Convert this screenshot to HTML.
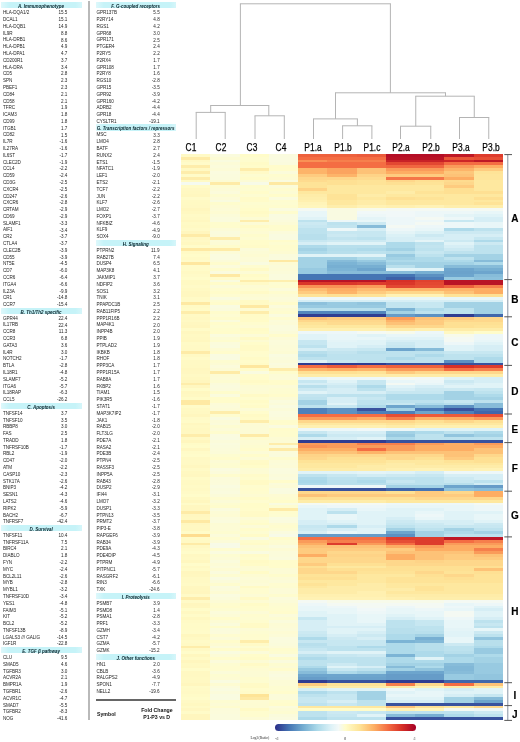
<!DOCTYPE html>
<html><head><meta charset="utf-8"><style>
html,body{margin:0;padding:0;background:#fff;}
body{width:520px;height:742px;position:relative;overflow:hidden;font-family:"Liberation Sans",sans-serif;}
.t{position:absolute;white-space:nowrap;line-height:1;}
.g{font-size:4.6px;color:#262626;letter-spacing:-0.04px;}
.v{font-size:4.6px;color:#262626;text-align:right;}
.hb{position:absolute;background:linear-gradient(to right,#def8fb 0,#c6f3f8 10%,#c6f3f8 92%,#d6f6fa 100%);}
.ht{font-size:4.5px;font-weight:bold;font-style:italic;color:#06222a;text-align:center;}
.lab{font-size:10px;color:#000;transform:scaleX(0.84);-webkit-text-stroke:0.25px #000;}
.br{font-size:10px;font-weight:bold;color:#000;-webkit-text-stroke:0.15px #000;}
</style></head><body>
<div id="w" style="position:absolute;left:0;top:0;width:520px;height:742px;filter:blur(0.45px)">

<div class="hb" style="left:0.50px;top:2.20px;width:81.20px;height:6.3px"></div>
<div class="t ht" style="left:-9.50px;top:5.15px;width:101.20px">A. Immunophenotype</div>
<div class="t g" style="left:2.90px;top:11.34px">HLA-DQA1/2</div>
<div class="t v" style="left:37.40px;top:11.39px;width:30px">15.5</div>
<div class="t g" style="left:2.90px;top:18.12px">DCAL1</div>
<div class="t v" style="left:37.40px;top:18.17px;width:30px">15.1</div>
<div class="t g" style="left:2.90px;top:24.91px">HLA-DQB1</div>
<div class="t v" style="left:37.40px;top:24.96px;width:30px">14.9</div>
<div class="t g" style="left:2.90px;top:31.69px">IL9R</div>
<div class="t v" style="left:37.40px;top:31.74px;width:30px">8.8</div>
<div class="t g" style="left:2.90px;top:38.48px">HLA-DRB1</div>
<div class="t v" style="left:37.40px;top:38.53px;width:30px">8.6</div>
<div class="t g" style="left:2.90px;top:45.27px">HLA-DPB1</div>
<div class="t v" style="left:37.40px;top:45.32px;width:30px">4.9</div>
<div class="t g" style="left:2.90px;top:52.05px">HLA-DPA1</div>
<div class="t v" style="left:37.40px;top:52.10px;width:30px">4.7</div>
<div class="t g" style="left:2.90px;top:58.84px">CD200R1</div>
<div class="t v" style="left:37.40px;top:58.89px;width:30px">3.7</div>
<div class="t g" style="left:2.90px;top:65.62px">HLA-DRA</div>
<div class="t v" style="left:37.40px;top:65.67px;width:30px">3.4</div>
<div class="t g" style="left:2.90px;top:72.41px">CD5</div>
<div class="t v" style="left:37.40px;top:72.46px;width:30px">2.8</div>
<div class="t g" style="left:2.90px;top:79.20px">SPN</div>
<div class="t v" style="left:37.40px;top:79.25px;width:30px">2.3</div>
<div class="t g" style="left:2.90px;top:85.98px">PBEF1</div>
<div class="t v" style="left:37.40px;top:86.03px;width:30px">2.3</div>
<div class="t g" style="left:2.90px;top:92.77px">CD84</div>
<div class="t v" style="left:37.40px;top:92.82px;width:30px">2.1</div>
<div class="t g" style="left:2.90px;top:99.55px">CD58</div>
<div class="t v" style="left:37.40px;top:99.60px;width:30px">2.1</div>
<div class="t g" style="left:2.90px;top:106.34px">TFRC</div>
<div class="t v" style="left:37.40px;top:106.39px;width:30px">1.9</div>
<div class="t g" style="left:2.90px;top:113.13px">ICAM3</div>
<div class="t v" style="left:37.40px;top:113.18px;width:30px">1.8</div>
<div class="t g" style="left:2.90px;top:119.91px">CD99</div>
<div class="t v" style="left:37.40px;top:119.96px;width:30px">1.8</div>
<div class="t g" style="left:2.90px;top:126.70px">ITGB1</div>
<div class="t v" style="left:37.40px;top:126.75px;width:30px">1.7</div>
<div class="t g" style="left:2.90px;top:133.48px">CD82</div>
<div class="t v" style="left:37.40px;top:133.53px;width:30px">1.5</div>
<div class="t g" style="left:2.90px;top:140.27px">IL7R</div>
<div class="t v" style="left:37.40px;top:140.32px;width:30px">-1.6</div>
<div class="t g" style="left:2.90px;top:147.06px">IL27RA</div>
<div class="t v" style="left:37.40px;top:147.11px;width:30px">-1.6</div>
<div class="t g" style="left:2.90px;top:153.84px">IL6ST</div>
<div class="t v" style="left:37.40px;top:153.89px;width:30px">-1.7</div>
<div class="t g" style="left:2.90px;top:160.63px">CLEC2D</div>
<div class="t v" style="left:37.40px;top:160.68px;width:30px">-1.9</div>
<div class="t g" style="left:2.90px;top:167.41px">CCL4</div>
<div class="t v" style="left:37.40px;top:167.46px;width:30px">-2.2</div>
<div class="t g" style="left:2.90px;top:174.20px">CD59</div>
<div class="t v" style="left:37.40px;top:174.25px;width:30px">-2.4</div>
<div class="t g" style="left:2.90px;top:180.99px">CD3G</div>
<div class="t v" style="left:37.40px;top:181.04px;width:30px">-2.5</div>
<div class="t g" style="left:2.90px;top:187.77px">CXCR4</div>
<div class="t v" style="left:37.40px;top:187.82px;width:30px">-2.5</div>
<div class="t g" style="left:2.90px;top:194.56px">CD247</div>
<div class="t v" style="left:37.40px;top:194.61px;width:30px">-2.6</div>
<div class="t g" style="left:2.90px;top:201.34px">CXCR6</div>
<div class="t v" style="left:37.40px;top:201.39px;width:30px">-2.8</div>
<div class="t g" style="left:2.90px;top:208.13px">CRTAM</div>
<div class="t v" style="left:37.40px;top:208.18px;width:30px">-2.9</div>
<div class="t g" style="left:2.90px;top:214.92px">CD69</div>
<div class="t v" style="left:37.40px;top:214.97px;width:30px">-2.9</div>
<div class="t g" style="left:2.90px;top:221.70px">SLAMF1</div>
<div class="t v" style="left:37.40px;top:221.75px;width:30px">-3.3</div>
<div class="t g" style="left:2.90px;top:228.49px">AIF1</div>
<div class="t v" style="left:37.40px;top:228.54px;width:30px">-3.4</div>
<div class="t g" style="left:2.90px;top:235.27px">CR2</div>
<div class="t v" style="left:37.40px;top:235.32px;width:30px">-3.7</div>
<div class="t g" style="left:2.90px;top:242.06px">CTLA4</div>
<div class="t v" style="left:37.40px;top:242.11px;width:30px">-3.7</div>
<div class="t g" style="left:2.90px;top:248.85px">CLEC2B</div>
<div class="t v" style="left:37.40px;top:248.90px;width:30px">-3.9</div>
<div class="t g" style="left:2.90px;top:255.63px">CD55</div>
<div class="t v" style="left:37.40px;top:255.68px;width:30px">-3.9</div>
<div class="t g" style="left:2.90px;top:262.42px">NT5E</div>
<div class="t v" style="left:37.40px;top:262.47px;width:30px">-4.5</div>
<div class="t g" style="left:2.90px;top:269.20px">CD7</div>
<div class="t v" style="left:37.40px;top:269.25px;width:30px">-6.0</div>
<div class="t g" style="left:2.90px;top:275.99px">CCR6</div>
<div class="t v" style="left:37.40px;top:276.04px;width:30px">-6.4</div>
<div class="t g" style="left:2.90px;top:282.78px">ITGA4</div>
<div class="t v" style="left:37.40px;top:282.83px;width:30px">-6.6</div>
<div class="t g" style="left:2.90px;top:289.56px">IL23A</div>
<div class="t v" style="left:37.40px;top:289.61px;width:30px">-9.9</div>
<div class="t g" style="left:2.90px;top:296.35px">CR1</div>
<div class="t v" style="left:37.40px;top:296.40px;width:30px">-14.8</div>
<div class="t g" style="left:2.90px;top:303.13px">CCR7</div>
<div class="t v" style="left:37.40px;top:303.18px;width:30px">-15.4</div>
<div class="hb" style="left:0.50px;top:307.57px;width:81.20px;height:6.3px"></div>
<div class="t ht" style="left:-9.50px;top:310.52px;width:101.20px">B. Th1/Th2 specific</div>
<div class="t g" style="left:2.90px;top:316.71px">GPR44</div>
<div class="t v" style="left:37.40px;top:316.76px;width:30px">22.4</div>
<div class="t g" style="left:2.90px;top:323.49px">IL17RB</div>
<div class="t v" style="left:37.40px;top:323.54px;width:30px">22.4</div>
<div class="t g" style="left:2.90px;top:330.28px">CCR8</div>
<div class="t v" style="left:37.40px;top:330.33px;width:30px">11.3</div>
<div class="t g" style="left:2.90px;top:337.06px">CCR3</div>
<div class="t v" style="left:37.40px;top:337.11px;width:30px">6.8</div>
<div class="t g" style="left:2.90px;top:343.85px">GATA3</div>
<div class="t v" style="left:37.40px;top:343.90px;width:30px">3.6</div>
<div class="t g" style="left:2.90px;top:350.64px">IL4R</div>
<div class="t v" style="left:37.40px;top:350.69px;width:30px">3.0</div>
<div class="t g" style="left:2.90px;top:357.42px">NOTCH2</div>
<div class="t v" style="left:37.40px;top:357.47px;width:30px">-1.7</div>
<div class="t g" style="left:2.90px;top:364.21px">BTLA</div>
<div class="t v" style="left:37.40px;top:364.26px;width:30px">-2.8</div>
<div class="t g" style="left:2.90px;top:370.99px">IL18R1</div>
<div class="t v" style="left:37.40px;top:371.04px;width:30px">-4.8</div>
<div class="t g" style="left:2.90px;top:377.78px">SLAMF7</div>
<div class="t v" style="left:37.40px;top:377.83px;width:30px">-5.2</div>
<div class="t g" style="left:2.90px;top:384.57px">ITGA6</div>
<div class="t v" style="left:37.40px;top:384.62px;width:30px">-5.7</div>
<div class="t g" style="left:2.90px;top:391.35px">IL18RAP</div>
<div class="t v" style="left:37.40px;top:391.40px;width:30px">-6.3</div>
<div class="t g" style="left:2.90px;top:398.14px">CCL5</div>
<div class="t v" style="left:37.40px;top:398.19px;width:30px">-26.2</div>
<div class="hb" style="left:0.50px;top:402.57px;width:81.20px;height:6.3px"></div>
<div class="t ht" style="left:-9.50px;top:405.52px;width:101.20px">C. Apoptosis</div>
<div class="t g" style="left:2.90px;top:411.71px">TNFSF14</div>
<div class="t v" style="left:37.40px;top:411.76px;width:30px">3.7</div>
<div class="t g" style="left:2.90px;top:418.50px">TNFSF10</div>
<div class="t v" style="left:37.40px;top:418.55px;width:30px">3.5</div>
<div class="t g" style="left:2.90px;top:425.28px">RBBP8</div>
<div class="t v" style="left:37.40px;top:425.33px;width:30px">3.0</div>
<div class="t g" style="left:2.90px;top:432.07px">FAS</div>
<div class="t v" style="left:37.40px;top:432.12px;width:30px">2.5</div>
<div class="t g" style="left:2.90px;top:438.85px">TRADD</div>
<div class="t v" style="left:37.40px;top:438.90px;width:30px">1.8</div>
<div class="t g" style="left:2.90px;top:445.64px">TNFRSF10B</div>
<div class="t v" style="left:37.40px;top:445.69px;width:30px">-1.7</div>
<div class="t g" style="left:2.90px;top:452.43px">RBL2</div>
<div class="t v" style="left:37.40px;top:452.48px;width:30px">-1.9</div>
<div class="t g" style="left:2.90px;top:459.21px">CD47</div>
<div class="t v" style="left:37.40px;top:459.26px;width:30px">-2.0</div>
<div class="t g" style="left:2.90px;top:466.00px">ATM</div>
<div class="t v" style="left:37.40px;top:466.05px;width:30px">-2.2</div>
<div class="t g" style="left:2.90px;top:472.78px">CASP10</div>
<div class="t v" style="left:37.40px;top:472.83px;width:30px">-2.3</div>
<div class="t g" style="left:2.90px;top:479.57px">STK17A</div>
<div class="t v" style="left:37.40px;top:479.62px;width:30px">-2.6</div>
<div class="t g" style="left:2.90px;top:486.36px">BNIP3</div>
<div class="t v" style="left:37.40px;top:486.41px;width:30px">-4.2</div>
<div class="t g" style="left:2.90px;top:493.14px">SESN1</div>
<div class="t v" style="left:37.40px;top:493.19px;width:30px">-4.3</div>
<div class="t g" style="left:2.90px;top:499.93px">LATS2</div>
<div class="t v" style="left:37.40px;top:499.98px;width:30px">-4.6</div>
<div class="t g" style="left:2.90px;top:506.71px">RIPK2</div>
<div class="t v" style="left:37.40px;top:506.76px;width:30px">-5.9</div>
<div class="t g" style="left:2.90px;top:513.50px">BACH2</div>
<div class="t v" style="left:37.40px;top:513.55px;width:30px">-6.7</div>
<div class="t g" style="left:2.90px;top:520.29px">TNFRSF7</div>
<div class="t v" style="left:37.40px;top:520.34px;width:30px">-42.4</div>
<div class="hb" style="left:0.50px;top:524.72px;width:81.20px;height:6.3px"></div>
<div class="t ht" style="left:-9.50px;top:527.67px;width:101.20px">D. Survival</div>
<div class="t g" style="left:2.90px;top:533.86px">TNFSF11</div>
<div class="t v" style="left:37.40px;top:533.91px;width:30px">10.4</div>
<div class="t g" style="left:2.90px;top:540.64px">TNFRSF11A</div>
<div class="t v" style="left:37.40px;top:540.69px;width:30px">7.5</div>
<div class="t g" style="left:2.90px;top:547.43px">BIRC4</div>
<div class="t v" style="left:37.40px;top:547.48px;width:30px">2.1</div>
<div class="t g" style="left:2.90px;top:554.22px">DIABLO</div>
<div class="t v" style="left:37.40px;top:554.27px;width:30px">1.8</div>
<div class="t g" style="left:2.90px;top:561.00px">FYN</div>
<div class="t v" style="left:37.40px;top:561.05px;width:30px">-2.2</div>
<div class="t g" style="left:2.90px;top:567.79px">MYC</div>
<div class="t v" style="left:37.40px;top:567.84px;width:30px">-2.4</div>
<div class="t g" style="left:2.90px;top:574.57px">BCL2L11</div>
<div class="t v" style="left:37.40px;top:574.62px;width:30px">-2.6</div>
<div class="t g" style="left:2.90px;top:581.36px">MYB</div>
<div class="t v" style="left:37.40px;top:581.41px;width:30px">-2.8</div>
<div class="t g" style="left:2.90px;top:588.15px">MYBL1</div>
<div class="t v" style="left:37.40px;top:588.20px;width:30px">-3.2</div>
<div class="t g" style="left:2.90px;top:594.93px">TNFRSF10D</div>
<div class="t v" style="left:37.40px;top:594.98px;width:30px">-3.4</div>
<div class="t g" style="left:2.90px;top:601.72px">YES1</div>
<div class="t v" style="left:37.40px;top:601.77px;width:30px">-4.8</div>
<div class="t g" style="left:2.90px;top:608.50px">FAIM3</div>
<div class="t v" style="left:37.40px;top:608.55px;width:30px">-5.1</div>
<div class="t g" style="left:2.90px;top:615.29px">KIT</div>
<div class="t v" style="left:37.40px;top:615.34px;width:30px">-5.2</div>
<div class="t g" style="left:2.90px;top:622.08px">BCL2</div>
<div class="t v" style="left:37.40px;top:622.13px;width:30px">-5.2</div>
<div class="t g" style="left:2.90px;top:628.86px">TNFSF13B</div>
<div class="t v" style="left:37.40px;top:628.91px;width:30px">-8.9</div>
<div class="t g" style="left:2.90px;top:635.65px">LGALS3 /// GALIG</div>
<div class="t v" style="left:37.40px;top:635.70px;width:30px">-14.5</div>
<div class="t g" style="left:2.90px;top:642.43px">IGF1R</div>
<div class="t v" style="left:37.40px;top:642.48px;width:30px">-22.8</div>
<div class="hb" style="left:0.50px;top:646.87px;width:81.20px;height:6.3px"></div>
<div class="t ht" style="left:-9.50px;top:649.82px;width:101.20px">E. TGF β pathway</div>
<div class="t g" style="left:2.90px;top:656.01px">CLU</div>
<div class="t v" style="left:37.40px;top:656.06px;width:30px">9.5</div>
<div class="t g" style="left:2.90px;top:662.79px">SMAD5</div>
<div class="t v" style="left:37.40px;top:662.84px;width:30px">4.6</div>
<div class="t g" style="left:2.90px;top:669.58px">TGFBR3</div>
<div class="t v" style="left:37.40px;top:669.63px;width:30px">3.0</div>
<div class="t g" style="left:2.90px;top:676.36px">ACVR2A</div>
<div class="t v" style="left:37.40px;top:676.41px;width:30px">2.1</div>
<div class="t g" style="left:2.90px;top:683.15px">BMPR1A</div>
<div class="t v" style="left:37.40px;top:683.20px;width:30px">1.9</div>
<div class="t g" style="left:2.90px;top:689.94px">TGFBR1</div>
<div class="t v" style="left:37.40px;top:689.99px;width:30px">-2.6</div>
<div class="t g" style="left:2.90px;top:696.72px">ACVR1C</div>
<div class="t v" style="left:37.40px;top:696.77px;width:30px">-4.7</div>
<div class="t g" style="left:2.90px;top:703.51px">SMAD7</div>
<div class="t v" style="left:37.40px;top:703.56px;width:30px">-5.5</div>
<div class="t g" style="left:2.90px;top:710.29px">TGFBR2</div>
<div class="t v" style="left:37.40px;top:710.34px;width:30px">-8.3</div>
<div class="t g" style="left:2.90px;top:717.08px">NOG</div>
<div class="t v" style="left:37.40px;top:717.13px;width:30px">-41.6</div>
<div class="hb" style="left:95.50px;top:2.20px;width:80.30px;height:6.3px"></div>
<div class="t ht" style="left:85.50px;top:5.15px;width:100.30px">F. G-coupled receptors</div>
<div class="t g" style="left:96.50px;top:11.34px">GPR137B</div>
<div class="t v" style="left:129.70px;top:11.39px;width:30px">5.5</div>
<div class="t g" style="left:96.50px;top:18.12px">P2RY14</div>
<div class="t v" style="left:129.70px;top:18.17px;width:30px">4.8</div>
<div class="t g" style="left:96.50px;top:24.91px">RGS1</div>
<div class="t v" style="left:129.70px;top:24.96px;width:30px">4.2</div>
<div class="t g" style="left:96.50px;top:31.69px">GPR68</div>
<div class="t v" style="left:129.70px;top:31.74px;width:30px">3.0</div>
<div class="t g" style="left:96.50px;top:38.48px">GPR171</div>
<div class="t v" style="left:129.70px;top:38.53px;width:30px">2.5</div>
<div class="t g" style="left:96.50px;top:45.27px">PTGER4</div>
<div class="t v" style="left:129.70px;top:45.32px;width:30px">2.4</div>
<div class="t g" style="left:96.50px;top:52.05px">P2RY5</div>
<div class="t v" style="left:129.70px;top:52.10px;width:30px">2.2</div>
<div class="t g" style="left:96.50px;top:58.84px">P2RX4</div>
<div class="t v" style="left:129.70px;top:58.89px;width:30px">1.7</div>
<div class="t g" style="left:96.50px;top:65.62px">GPR108</div>
<div class="t v" style="left:129.70px;top:65.67px;width:30px">1.7</div>
<div class="t g" style="left:96.50px;top:72.41px">P2RY8</div>
<div class="t v" style="left:129.70px;top:72.46px;width:30px">1.6</div>
<div class="t g" style="left:96.50px;top:79.20px">RGS10</div>
<div class="t v" style="left:129.70px;top:79.25px;width:30px">-2.8</div>
<div class="t g" style="left:96.50px;top:85.98px">GPR15</div>
<div class="t v" style="left:129.70px;top:86.03px;width:30px">-3.5</div>
<div class="t g" style="left:96.50px;top:92.77px">GPR92</div>
<div class="t v" style="left:129.70px;top:92.82px;width:30px">-3.9</div>
<div class="t g" style="left:96.50px;top:99.55px">GPR160</div>
<div class="t v" style="left:129.70px;top:99.60px;width:30px">-4.2</div>
<div class="t g" style="left:96.50px;top:106.34px">ADRB2</div>
<div class="t v" style="left:129.70px;top:106.39px;width:30px">-4.4</div>
<div class="t g" style="left:96.50px;top:113.13px">GPR18</div>
<div class="t v" style="left:129.70px;top:113.18px;width:30px">-4.4</div>
<div class="t g" style="left:96.50px;top:119.91px">CYSLTR1</div>
<div class="t v" style="left:129.70px;top:119.96px;width:30px">-19.1</div>
<div class="hb" style="left:95.50px;top:124.35px;width:80.30px;height:6.3px"></div>
<div class="t ht" style="left:85.50px;top:127.30px;width:100.30px">G. Transcription factors / repressors</div>
<div class="t g" style="left:96.50px;top:133.48px">MSC</div>
<div class="t v" style="left:129.70px;top:133.53px;width:30px">3.3</div>
<div class="t g" style="left:96.50px;top:140.27px">LMO4</div>
<div class="t v" style="left:129.70px;top:140.32px;width:30px">2.8</div>
<div class="t g" style="left:96.50px;top:147.06px">BATF</div>
<div class="t v" style="left:129.70px;top:147.11px;width:30px">2.7</div>
<div class="t g" style="left:96.50px;top:153.84px">RUNX2</div>
<div class="t v" style="left:129.70px;top:153.89px;width:30px">2.4</div>
<div class="t g" style="left:96.50px;top:160.63px">ETS1</div>
<div class="t v" style="left:129.70px;top:160.68px;width:30px">-1.5</div>
<div class="t g" style="left:96.50px;top:167.41px">NFATC1</div>
<div class="t v" style="left:129.70px;top:167.46px;width:30px">-1.9</div>
<div class="t g" style="left:96.50px;top:174.20px">LEF1</div>
<div class="t v" style="left:129.70px;top:174.25px;width:30px">-2.0</div>
<div class="t g" style="left:96.50px;top:180.99px">ETS2</div>
<div class="t v" style="left:129.70px;top:181.04px;width:30px">-2.1</div>
<div class="t g" style="left:96.50px;top:187.77px">TCF7</div>
<div class="t v" style="left:129.70px;top:187.82px;width:30px">-2.2</div>
<div class="t g" style="left:96.50px;top:194.56px">JUN</div>
<div class="t v" style="left:129.70px;top:194.61px;width:30px">-2.2</div>
<div class="t g" style="left:96.50px;top:201.34px">KLF7</div>
<div class="t v" style="left:129.70px;top:201.39px;width:30px">-2.6</div>
<div class="t g" style="left:96.50px;top:208.13px">LMO2</div>
<div class="t v" style="left:129.70px;top:208.18px;width:30px">-2.7</div>
<div class="t g" style="left:96.50px;top:214.92px">FOXP1</div>
<div class="t v" style="left:129.70px;top:214.97px;width:30px">-3.7</div>
<div class="t g" style="left:96.50px;top:221.70px">NFKBIZ</div>
<div class="t v" style="left:129.70px;top:221.75px;width:30px">-4.6</div>
<div class="t g" style="left:96.50px;top:228.49px">KLF9</div>
<div class="t v" style="left:129.70px;top:228.54px;width:30px">-4.9</div>
<div class="t g" style="left:96.50px;top:235.27px">SOX4</div>
<div class="t v" style="left:129.70px;top:235.32px;width:30px">-9.0</div>
<div class="hb" style="left:95.50px;top:239.71px;width:80.30px;height:6.3px"></div>
<div class="t ht" style="left:85.50px;top:242.66px;width:100.30px">H. Signaling</div>
<div class="t g" style="left:96.50px;top:248.85px">PTPRN2</div>
<div class="t v" style="left:129.70px;top:248.90px;width:30px">11.9</div>
<div class="t g" style="left:96.50px;top:255.63px">RAB27B</div>
<div class="t v" style="left:129.70px;top:255.68px;width:30px">7.4</div>
<div class="t g" style="left:96.50px;top:262.42px">DUSP4</div>
<div class="t v" style="left:129.70px;top:262.47px;width:30px">6.5</div>
<div class="t g" style="left:96.50px;top:269.20px">MAP3K8</div>
<div class="t v" style="left:129.70px;top:269.25px;width:30px">4.1</div>
<div class="t g" style="left:96.50px;top:275.99px">JAKMIP1</div>
<div class="t v" style="left:129.70px;top:276.04px;width:30px">3.7</div>
<div class="t g" style="left:96.50px;top:282.78px">NDFIP2</div>
<div class="t v" style="left:129.70px;top:282.83px;width:30px">3.6</div>
<div class="t g" style="left:96.50px;top:289.56px">SOS1</div>
<div class="t v" style="left:129.70px;top:289.61px;width:30px">3.2</div>
<div class="t g" style="left:96.50px;top:296.35px">TNIK</div>
<div class="t v" style="left:129.70px;top:296.40px;width:30px">3.1</div>
<div class="t g" style="left:96.50px;top:303.13px">PPAPDC1B</div>
<div class="t v" style="left:129.70px;top:303.18px;width:30px">2.5</div>
<div class="t g" style="left:96.50px;top:309.92px">RAB11FIP5</div>
<div class="t v" style="left:129.70px;top:309.97px;width:30px">2.2</div>
<div class="t g" style="left:96.50px;top:316.71px">PPP1R16B</div>
<div class="t v" style="left:129.70px;top:316.76px;width:30px">2.2</div>
<div class="t g" style="left:96.50px;top:323.49px">MAP4K1</div>
<div class="t v" style="left:129.70px;top:323.54px;width:30px">2.0</div>
<div class="t g" style="left:96.50px;top:330.28px">INPP4B</div>
<div class="t v" style="left:129.70px;top:330.33px;width:30px">2.0</div>
<div class="t g" style="left:96.50px;top:337.06px">PPIB</div>
<div class="t v" style="left:129.70px;top:337.11px;width:30px">1.9</div>
<div class="t g" style="left:96.50px;top:343.85px">PTPLAD2</div>
<div class="t v" style="left:129.70px;top:343.90px;width:30px">1.9</div>
<div class="t g" style="left:96.50px;top:350.64px">IKBKB</div>
<div class="t v" style="left:129.70px;top:350.69px;width:30px">1.8</div>
<div class="t g" style="left:96.50px;top:357.42px">RHOF</div>
<div class="t v" style="left:129.70px;top:357.47px;width:30px">1.8</div>
<div class="t g" style="left:96.50px;top:364.21px">PPP3CA</div>
<div class="t v" style="left:129.70px;top:364.26px;width:30px">1.7</div>
<div class="t g" style="left:96.50px;top:370.99px">PPP1R15A</div>
<div class="t v" style="left:129.70px;top:371.04px;width:30px">1.7</div>
<div class="t g" style="left:96.50px;top:377.78px">RAB8A</div>
<div class="t v" style="left:129.70px;top:377.83px;width:30px">1.7</div>
<div class="t g" style="left:96.50px;top:384.57px">FKBP2</div>
<div class="t v" style="left:129.70px;top:384.62px;width:30px">1.6</div>
<div class="t g" style="left:96.50px;top:391.35px">TIAM1</div>
<div class="t v" style="left:129.70px;top:391.40px;width:30px">1.5</div>
<div class="t g" style="left:96.50px;top:398.14px">PIK3R5</div>
<div class="t v" style="left:129.70px;top:398.19px;width:30px">-1.6</div>
<div class="t g" style="left:96.50px;top:404.92px">STAT1</div>
<div class="t v" style="left:129.70px;top:404.97px;width:30px">-1.7</div>
<div class="t g" style="left:96.50px;top:411.71px">MAP3K7IP2</div>
<div class="t v" style="left:129.70px;top:411.76px;width:30px">-1.7</div>
<div class="t g" style="left:96.50px;top:418.50px">JAK1</div>
<div class="t v" style="left:129.70px;top:418.55px;width:30px">-1.8</div>
<div class="t g" style="left:96.50px;top:425.28px">RAB15</div>
<div class="t v" style="left:129.70px;top:425.33px;width:30px">-2.0</div>
<div class="t g" style="left:96.50px;top:432.07px">FLT3LG</div>
<div class="t v" style="left:129.70px;top:432.12px;width:30px">-2.0</div>
<div class="t g" style="left:96.50px;top:438.85px">PDE7A</div>
<div class="t v" style="left:129.70px;top:438.90px;width:30px">-2.1</div>
<div class="t g" style="left:96.50px;top:445.64px">RASA2</div>
<div class="t v" style="left:129.70px;top:445.69px;width:30px">-2.1</div>
<div class="t g" style="left:96.50px;top:452.43px">PDE3B</div>
<div class="t v" style="left:129.70px;top:452.48px;width:30px">-2.4</div>
<div class="t g" style="left:96.50px;top:459.21px">PTPN4</div>
<div class="t v" style="left:129.70px;top:459.26px;width:30px">-2.5</div>
<div class="t g" style="left:96.50px;top:466.00px">RASSF3</div>
<div class="t v" style="left:129.70px;top:466.05px;width:30px">-2.5</div>
<div class="t g" style="left:96.50px;top:472.78px">INPP5A</div>
<div class="t v" style="left:129.70px;top:472.83px;width:30px">-2.5</div>
<div class="t g" style="left:96.50px;top:479.57px">RAB43</div>
<div class="t v" style="left:129.70px;top:479.62px;width:30px">-2.8</div>
<div class="t g" style="left:96.50px;top:486.36px">DUSP2</div>
<div class="t v" style="left:129.70px;top:486.41px;width:30px">-2.9</div>
<div class="t g" style="left:96.50px;top:493.14px">IFI44</div>
<div class="t v" style="left:129.70px;top:493.19px;width:30px">-3.1</div>
<div class="t g" style="left:96.50px;top:499.93px">LMO7</div>
<div class="t v" style="left:129.70px;top:499.98px;width:30px">-3.2</div>
<div class="t g" style="left:96.50px;top:506.71px">DUSP1</div>
<div class="t v" style="left:129.70px;top:506.76px;width:30px">-3.3</div>
<div class="t g" style="left:96.50px;top:513.50px">PTPN13</div>
<div class="t v" style="left:129.70px;top:513.55px;width:30px">-3.5</div>
<div class="t g" style="left:96.50px;top:520.29px">PRMT2</div>
<div class="t v" style="left:129.70px;top:520.34px;width:30px">-3.7</div>
<div class="t g" style="left:96.50px;top:527.07px">PIP3-E</div>
<div class="t v" style="left:129.70px;top:527.12px;width:30px">-3.8</div>
<div class="t g" style="left:96.50px;top:533.86px">RAPGEF6</div>
<div class="t v" style="left:129.70px;top:533.91px;width:30px">-3.9</div>
<div class="t g" style="left:96.50px;top:540.64px">RAB34</div>
<div class="t v" style="left:129.70px;top:540.69px;width:30px">-3.9</div>
<div class="t g" style="left:96.50px;top:547.43px">PDE9A</div>
<div class="t v" style="left:129.70px;top:547.48px;width:30px">-4.3</div>
<div class="t g" style="left:96.50px;top:554.22px">PDE4DIP</div>
<div class="t v" style="left:129.70px;top:554.27px;width:30px">-4.5</div>
<div class="t g" style="left:96.50px;top:561.00px">PTPRM</div>
<div class="t v" style="left:129.70px;top:561.05px;width:30px">-4.9</div>
<div class="t g" style="left:96.50px;top:567.79px">PITPNC1</div>
<div class="t v" style="left:129.70px;top:567.84px;width:30px">-5.7</div>
<div class="t g" style="left:96.50px;top:574.57px">RASGRF2</div>
<div class="t v" style="left:129.70px;top:574.62px;width:30px">-6.1</div>
<div class="t g" style="left:96.50px;top:581.36px">RIN3</div>
<div class="t v" style="left:129.70px;top:581.41px;width:30px">-6.6</div>
<div class="t g" style="left:96.50px;top:588.15px">TXK</div>
<div class="t v" style="left:129.70px;top:588.20px;width:30px">-24.6</div>
<div class="hb" style="left:95.50px;top:592.58px;width:80.30px;height:6.3px"></div>
<div class="t ht" style="left:85.50px;top:595.53px;width:100.30px">I. Proteolysis</div>
<div class="t g" style="left:96.50px;top:601.72px">PSMB7</div>
<div class="t v" style="left:129.70px;top:601.77px;width:30px">3.9</div>
<div class="t g" style="left:96.50px;top:608.50px">PSMD8</div>
<div class="t v" style="left:129.70px;top:608.55px;width:30px">1.4</div>
<div class="t g" style="left:96.50px;top:615.29px">PSMA1</div>
<div class="t v" style="left:129.70px;top:615.34px;width:30px">-2.8</div>
<div class="t g" style="left:96.50px;top:622.08px">PRF1</div>
<div class="t v" style="left:129.70px;top:622.13px;width:30px">-3.3</div>
<div class="t g" style="left:96.50px;top:628.86px">GZMH</div>
<div class="t v" style="left:129.70px;top:628.91px;width:30px">-3.4</div>
<div class="t g" style="left:96.50px;top:635.65px">CST7</div>
<div class="t v" style="left:129.70px;top:635.70px;width:30px">-4.2</div>
<div class="t g" style="left:96.50px;top:642.43px">GZMA</div>
<div class="t v" style="left:129.70px;top:642.48px;width:30px">-5.7</div>
<div class="t g" style="left:96.50px;top:649.22px">GZMK</div>
<div class="t v" style="left:129.70px;top:649.27px;width:30px">-15.2</div>
<div class="hb" style="left:95.50px;top:653.66px;width:80.30px;height:6.3px"></div>
<div class="t ht" style="left:85.50px;top:656.61px;width:100.30px">J. Other functions</div>
<div class="t g" style="left:96.50px;top:662.79px">HN1</div>
<div class="t v" style="left:129.70px;top:662.84px;width:30px">2.0</div>
<div class="t g" style="left:96.50px;top:669.58px">CBLB</div>
<div class="t v" style="left:129.70px;top:669.63px;width:30px">-3.6</div>
<div class="t g" style="left:96.50px;top:676.36px">RALGPS2</div>
<div class="t v" style="left:129.70px;top:676.41px;width:30px">-4.9</div>
<div class="t g" style="left:96.50px;top:683.15px">SPON1</div>
<div class="t v" style="left:129.70px;top:683.20px;width:30px">-7.7</div>
<div class="t g" style="left:96.50px;top:689.94px">NELL2</div>
<div class="t v" style="left:129.70px;top:689.99px;width:30px">-19.6</div>
<div style="position:absolute;left:88.2px;top:1.2px;width:1.4px;height:719.2px;background:#b9b9b9"></div>
<div style="position:absolute;left:95.8px;top:699.3px;width:80.5px;height:1.6px;background:#666"></div>
<div class="t" style="left:97px;top:711.8px;font-size:5.2px;font-weight:bold;color:#111">Symbol</div>
<div class="t" style="left:141.2px;top:708.4px;font-size:5.2px;font-weight:bold;color:#111">Fold Change</div>
<div class="t" style="left:143.3px;top:715.4px;font-size:5.2px;font-weight:bold;color:#111">P1-P3 vs D</div>
<svg style="position:absolute;left:0;top:0" width="520" height="742" viewBox="0 0 520 742" shape-rendering="crispEdges">
<rect x="181.00" y="153.80" width="29.29" height="2.879" fill="#fffac6"/>
<rect x="210.27" y="153.80" width="29.29" height="2.879" fill="#fafbdd"/>
<rect x="239.54" y="153.80" width="29.29" height="2.879" fill="#fffcc9"/>
<rect x="268.81" y="153.80" width="29.29" height="2.879" fill="#fafbde"/>
<rect x="298.08" y="153.80" width="58.56" height="2.879" fill="#ee613d"/>
<rect x="356.62" y="153.80" width="29.29" height="2.879" fill="#eb5b3b"/>
<rect x="385.89" y="153.80" width="58.56" height="2.879" fill="#b40e26"/>
<rect x="444.43" y="153.80" width="29.29" height="2.879" fill="#be1826"/>
<rect x="473.70" y="153.80" width="29.29" height="2.879" fill="#dd3c2d"/>
<rect x="181.00" y="156.66" width="29.29" height="2.879" fill="#feeba7"/>
<rect x="210.27" y="156.66" width="29.29" height="2.879" fill="#fcfbd4"/>
<rect x="239.54" y="156.66" width="29.29" height="2.879" fill="#fefccf"/>
<rect x="268.81" y="156.66" width="29.29" height="2.879" fill="#fafbdf"/>
<rect x="298.08" y="156.66" width="87.83" height="2.879" fill="#f46d43"/>
<rect x="385.89" y="156.66" width="58.56" height="2.879" fill="#b91326"/>
<rect x="444.43" y="156.66" width="29.29" height="2.879" fill="#e85538"/>
<rect x="473.70" y="156.66" width="29.29" height="2.879" fill="#e64e35"/>
<rect x="181.00" y="159.52" width="29.29" height="2.879" fill="#fff9c4"/>
<rect x="210.27" y="159.52" width="29.29" height="2.879" fill="#f9fbdf"/>
<rect x="239.54" y="159.52" width="29.29" height="2.879" fill="#fefccd"/>
<rect x="268.81" y="159.52" width="29.29" height="2.879" fill="#fafbdf"/>
<rect x="298.08" y="159.52" width="29.29" height="2.879" fill="#f99155"/>
<rect x="327.35" y="159.52" width="58.56" height="2.879" fill="#f67f4c"/>
<rect x="385.89" y="159.52" width="58.56" height="2.879" fill="#c82227"/>
<rect x="444.43" y="159.52" width="29.29" height="2.879" fill="#cd2627"/>
<rect x="473.70" y="159.52" width="29.29" height="2.879" fill="#be1826"/>
<rect x="181.00" y="162.38" width="29.29" height="2.879" fill="#fffbc9"/>
<rect x="210.27" y="162.38" width="29.29" height="2.879" fill="#fcfbd7"/>
<rect x="239.54" y="162.38" width="29.29" height="2.879" fill="#fffbc7"/>
<rect x="268.81" y="162.38" width="29.29" height="2.879" fill="#fafbdd"/>
<rect x="298.08" y="162.38" width="87.83" height="2.879" fill="#f46d43"/>
<rect x="385.89" y="162.38" width="58.56" height="2.879" fill="#e34832"/>
<rect x="444.43" y="162.38" width="58.56" height="2.879" fill="#f46d43"/>
<rect x="181.00" y="165.24" width="29.29" height="2.879" fill="#feedab"/>
<rect x="210.27" y="165.24" width="29.29" height="2.879" fill="#fbfbdb"/>
<rect x="239.54" y="165.24" width="29.29" height="2.879" fill="#fffcc9"/>
<rect x="268.81" y="165.24" width="29.29" height="2.879" fill="#fffccb"/>
<rect x="298.08" y="165.24" width="87.83" height="2.879" fill="#f46d43"/>
<rect x="385.89" y="165.24" width="58.56" height="2.879" fill="#f16740"/>
<rect x="444.43" y="165.24" width="29.29" height="2.879" fill="#fa9b5a"/>
<rect x="473.70" y="165.24" width="29.29" height="2.879" fill="#fdad63"/>
<rect x="181.00" y="168.09" width="29.29" height="2.879" fill="#fff9c3"/>
<rect x="210.27" y="168.09" width="29.29" height="2.879" fill="#fcfbd7"/>
<rect x="239.54" y="168.09" width="29.29" height="2.879" fill="#feedab"/>
<rect x="268.81" y="168.09" width="29.29" height="2.879" fill="#fffccb"/>
<rect x="298.08" y="168.09" width="29.29" height="2.879" fill="#fdb469"/>
<rect x="327.35" y="168.09" width="29.29" height="2.879" fill="#fba45f"/>
<rect x="356.62" y="168.09" width="29.29" height="2.879" fill="#fdc277"/>
<rect x="385.89" y="168.09" width="58.56" height="2.879" fill="#fa9b5a"/>
<rect x="444.43" y="168.09" width="29.29" height="2.879" fill="#fdb469"/>
<rect x="473.70" y="168.09" width="29.29" height="2.879" fill="#fecb7f"/>
<rect x="181.00" y="170.95" width="29.29" height="2.879" fill="#feedab"/>
<rect x="210.27" y="170.95" width="29.29" height="2.879" fill="#fafbdf"/>
<rect x="239.54" y="170.95" width="29.29" height="2.879" fill="#fffac7"/>
<rect x="268.81" y="170.95" width="29.29" height="2.879" fill="#fbfbda"/>
<rect x="298.08" y="170.95" width="29.29" height="2.879" fill="#fdb469"/>
<rect x="327.35" y="170.95" width="29.29" height="2.879" fill="#fba45f"/>
<rect x="356.62" y="170.95" width="29.29" height="2.879" fill="#fdc277"/>
<rect x="385.89" y="170.95" width="58.56" height="2.879" fill="#fdad63"/>
<rect x="444.43" y="170.95" width="29.29" height="2.879" fill="#fdc77b"/>
<rect x="473.70" y="170.95" width="29.29" height="2.879" fill="#fee397"/>
<rect x="181.00" y="173.81" width="29.29" height="2.879" fill="#fffbc8"/>
<rect x="210.27" y="173.81" width="29.29" height="2.879" fill="#fafbdd"/>
<rect x="239.54" y="173.81" width="29.29" height="2.879" fill="#fdfcd0"/>
<rect x="268.81" y="173.81" width="29.29" height="2.879" fill="#fefcce"/>
<rect x="298.08" y="173.81" width="29.29" height="2.879" fill="#fecb7f"/>
<rect x="327.35" y="173.81" width="29.29" height="2.879" fill="#fdb469"/>
<rect x="356.62" y="173.81" width="29.29" height="2.879" fill="#fed387"/>
<rect x="385.89" y="173.81" width="58.56" height="2.879" fill="#fecb7f"/>
<rect x="444.43" y="173.81" width="29.29" height="2.879" fill="#fdc277"/>
<rect x="473.70" y="173.81" width="29.29" height="2.879" fill="#fee59b"/>
<rect x="181.00" y="176.67" width="29.29" height="2.879" fill="#feedab"/>
<rect x="210.27" y="176.67" width="29.29" height="2.879" fill="#fafbdc"/>
<rect x="239.54" y="176.67" width="29.29" height="2.879" fill="#fffcca"/>
<rect x="268.81" y="176.67" width="29.29" height="2.879" fill="#fdfbd2"/>
<rect x="298.08" y="176.67" width="58.56" height="2.879" fill="#fed78b"/>
<rect x="356.62" y="176.67" width="29.29" height="2.879" fill="#fedb8f"/>
<rect x="385.89" y="176.67" width="58.56" height="2.879" fill="#f57648"/>
<rect x="444.43" y="176.67" width="29.29" height="2.879" fill="#fdad63"/>
<rect x="473.70" y="176.67" width="29.29" height="2.879" fill="#fee59b"/>
<rect x="181.00" y="179.53" width="29.29" height="2.879" fill="#fffac5"/>
<rect x="210.27" y="179.53" width="29.29" height="2.879" fill="#fcfbd4"/>
<rect x="239.54" y="179.53" width="29.29" height="2.879" fill="#fcfbd5"/>
<rect x="268.81" y="179.53" width="29.29" height="2.879" fill="#fafbdf"/>
<rect x="298.08" y="179.53" width="29.29" height="2.879" fill="#fedb8f"/>
<rect x="327.35" y="179.53" width="29.29" height="2.879" fill="#fee093"/>
<rect x="356.62" y="179.53" width="29.29" height="2.879" fill="#fee397"/>
<rect x="385.89" y="179.53" width="29.29" height="2.879" fill="#fed78b"/>
<rect x="415.16" y="179.53" width="29.29" height="2.879" fill="#fee093"/>
<rect x="444.43" y="179.53" width="29.29" height="2.879" fill="#fedb8f"/>
<rect x="473.70" y="179.53" width="29.29" height="2.879" fill="#fee89f"/>
<rect x="181.00" y="182.39" width="29.29" height="2.879" fill="#f5faef"/>
<rect x="210.27" y="182.39" width="29.29" height="2.879" fill="#feeba7"/>
<rect x="239.54" y="182.39" width="29.29" height="2.879" fill="#f7fae7"/>
<rect x="268.81" y="182.39" width="29.29" height="2.879" fill="#fee9a3"/>
<rect x="298.08" y="182.39" width="29.29" height="2.879" fill="#fee397"/>
<rect x="327.35" y="182.39" width="29.29" height="2.879" fill="#fee093"/>
<rect x="356.62" y="182.39" width="29.29" height="2.879" fill="#fee397"/>
<rect x="385.89" y="182.39" width="29.29" height="2.879" fill="#fee093"/>
<rect x="415.16" y="182.39" width="29.29" height="2.879" fill="#fee397"/>
<rect x="444.43" y="182.39" width="29.29" height="2.879" fill="#fed78b"/>
<rect x="473.70" y="182.39" width="29.29" height="2.879" fill="#fee89f"/>
<rect x="181.00" y="185.25" width="29.29" height="2.879" fill="#fffbc7"/>
<rect x="210.27" y="185.25" width="29.29" height="2.879" fill="#fdfcd1"/>
<rect x="239.54" y="185.25" width="29.29" height="2.879" fill="#fefccd"/>
<rect x="268.81" y="185.25" width="29.29" height="2.879" fill="#fbfbd9"/>
<rect x="298.08" y="185.25" width="29.29" height="2.879" fill="#fee397"/>
<rect x="327.35" y="185.25" width="117.10" height="2.879" fill="#fee89f"/>
<rect x="444.43" y="185.25" width="29.29" height="2.879" fill="#fecb7f"/>
<rect x="473.70" y="185.25" width="29.29" height="2.879" fill="#fee89f"/>
<rect x="181.00" y="188.11" width="29.29" height="2.879" fill="#fff8c3"/>
<rect x="210.27" y="188.11" width="29.29" height="2.879" fill="#fcfbd6"/>
<rect x="239.54" y="188.11" width="29.29" height="2.879" fill="#fdfcd0"/>
<rect x="268.81" y="188.11" width="29.29" height="2.879" fill="#fefccf"/>
<rect x="298.08" y="188.11" width="29.29" height="2.879" fill="#fed387"/>
<rect x="327.35" y="188.11" width="117.10" height="2.879" fill="#fee89f"/>
<rect x="444.43" y="188.11" width="29.29" height="2.879" fill="#fee093"/>
<rect x="473.70" y="188.11" width="29.29" height="2.879" fill="#fee89f"/>
<rect x="181.00" y="190.97" width="29.29" height="2.879" fill="#fff8c1"/>
<rect x="210.27" y="190.97" width="29.29" height="2.879" fill="#fbfbdb"/>
<rect x="239.54" y="190.97" width="29.29" height="2.879" fill="#fffcca"/>
<rect x="268.81" y="190.97" width="29.29" height="2.879" fill="#fcfbd4"/>
<rect x="298.08" y="190.97" width="87.83" height="2.879" fill="#fee89f"/>
<rect x="385.89" y="190.97" width="29.29" height="2.879" fill="#feeca8"/>
<rect x="415.16" y="190.97" width="29.29" height="2.879" fill="#fee397"/>
<rect x="444.43" y="190.97" width="58.56" height="2.879" fill="#fee093"/>
<rect x="181.00" y="193.83" width="29.29" height="2.879" fill="#fff7bf"/>
<rect x="210.27" y="193.83" width="29.29" height="2.879" fill="#fdfcd0"/>
<rect x="239.54" y="193.83" width="29.29" height="2.879" fill="#fdfcd1"/>
<rect x="268.81" y="193.83" width="29.29" height="2.879" fill="#fffcca"/>
<rect x="298.08" y="193.83" width="29.29" height="2.879" fill="#feeca8"/>
<rect x="327.35" y="193.83" width="29.29" height="2.879" fill="#fee397"/>
<rect x="356.62" y="193.83" width="29.29" height="2.879" fill="#feeca8"/>
<rect x="385.89" y="193.83" width="117.10" height="2.879" fill="#fee89f"/>
<rect x="181.00" y="196.69" width="29.29" height="2.879" fill="#fffbc9"/>
<rect x="210.27" y="196.69" width="29.29" height="2.879" fill="#fcfbd7"/>
<rect x="239.54" y="196.69" width="29.29" height="2.879" fill="#fffbc8"/>
<rect x="268.81" y="196.69" width="29.29" height="2.879" fill="#fafbdd"/>
<rect x="298.08" y="196.69" width="29.29" height="2.879" fill="#feeeac"/>
<rect x="327.35" y="196.69" width="29.29" height="2.879" fill="#fee397"/>
<rect x="356.62" y="196.69" width="29.29" height="2.879" fill="#fee89f"/>
<rect x="385.89" y="196.69" width="29.29" height="2.879" fill="#fee093"/>
<rect x="415.16" y="196.69" width="29.29" height="2.879" fill="#fee397"/>
<rect x="444.43" y="196.69" width="29.29" height="2.879" fill="#fee89f"/>
<rect x="473.70" y="196.69" width="29.29" height="2.879" fill="#fee093"/>
<rect x="181.00" y="199.54" width="29.29" height="2.879" fill="#fff9c4"/>
<rect x="210.27" y="199.54" width="29.29" height="2.879" fill="#f9fbdf"/>
<rect x="239.54" y="199.54" width="29.29" height="2.879" fill="#fffbc9"/>
<rect x="268.81" y="199.54" width="29.29" height="2.879" fill="#fefccf"/>
<rect x="298.08" y="199.54" width="29.29" height="2.879" fill="#fff0b0"/>
<rect x="327.35" y="199.54" width="29.29" height="2.879" fill="#fee89f"/>
<rect x="356.62" y="199.54" width="29.29" height="2.879" fill="#feeca8"/>
<rect x="385.89" y="199.54" width="117.10" height="2.879" fill="#fee89f"/>
<rect x="181.00" y="202.40" width="29.29" height="2.879" fill="#fff9c3"/>
<rect x="210.27" y="202.40" width="29.29" height="2.879" fill="#fefccd"/>
<rect x="239.54" y="202.40" width="29.29" height="2.879" fill="#fdfcd0"/>
<rect x="268.81" y="202.40" width="29.29" height="2.879" fill="#fdfcd1"/>
<rect x="298.08" y="202.40" width="29.29" height="2.879" fill="#fff4b9"/>
<rect x="327.35" y="202.40" width="29.29" height="2.879" fill="#fee89f"/>
<rect x="356.62" y="202.40" width="29.29" height="2.879" fill="#feeca8"/>
<rect x="385.89" y="202.40" width="87.83" height="2.879" fill="#fee89f"/>
<rect x="473.70" y="202.40" width="29.29" height="2.879" fill="#fee397"/>
<rect x="181.00" y="205.26" width="29.29" height="2.879" fill="#fff8c3"/>
<rect x="210.27" y="205.26" width="29.29" height="2.879" fill="#fdfbd3"/>
<rect x="239.54" y="205.26" width="29.29" height="2.879" fill="#fefccd"/>
<rect x="268.81" y="205.26" width="29.29" height="2.879" fill="#fefcce"/>
<rect x="298.08" y="205.26" width="29.29" height="2.879" fill="#fff6bd"/>
<rect x="327.35" y="205.26" width="29.29" height="2.879" fill="#feeeac"/>
<rect x="356.62" y="205.26" width="29.29" height="2.879" fill="#fff2b5"/>
<rect x="385.89" y="205.26" width="29.29" height="2.879" fill="#fff0b0"/>
<rect x="415.16" y="205.26" width="29.29" height="2.879" fill="#fff2b5"/>
<rect x="444.43" y="205.26" width="58.56" height="2.879" fill="#feeeac"/>
<rect x="181.00" y="208.12" width="29.29" height="2.879" fill="#fff6be"/>
<rect x="210.27" y="208.12" width="29.29" height="2.879" fill="#fcfbd6"/>
<rect x="239.54" y="208.12" width="29.29" height="2.879" fill="#fffcc9"/>
<rect x="268.81" y="208.12" width="29.29" height="2.879" fill="#fafbdf"/>
<rect x="298.08" y="208.12" width="29.29" height="2.879" fill="#f4f9f3"/>
<rect x="327.35" y="208.12" width="29.29" height="2.879" fill="#f9fae1"/>
<rect x="356.62" y="208.12" width="29.29" height="2.879" fill="#f7faea"/>
<rect x="385.89" y="208.12" width="117.10" height="2.879" fill="#f4f9f3"/>
<rect x="181.00" y="210.98" width="29.29" height="2.879" fill="#fff8c1"/>
<rect x="210.27" y="210.98" width="29.29" height="2.879" fill="#fdfbd2"/>
<rect x="239.54" y="210.98" width="29.29" height="2.879" fill="#fffac5"/>
<rect x="268.81" y="210.98" width="29.29" height="2.879" fill="#fefcce"/>
<rect x="298.08" y="210.98" width="29.29" height="2.879" fill="#e8f6f8"/>
<rect x="327.35" y="210.98" width="29.29" height="2.879" fill="#f9fae1"/>
<rect x="356.62" y="210.98" width="58.56" height="2.879" fill="#f1f8f8"/>
<rect x="415.16" y="210.98" width="58.56" height="2.879" fill="#edf7f8"/>
<rect x="473.70" y="210.98" width="29.29" height="2.879" fill="#e8f6f8"/>
<rect x="181.00" y="213.84" width="29.29" height="2.879" fill="#fffac6"/>
<rect x="210.27" y="213.84" width="29.29" height="2.879" fill="#fbfbd8"/>
<rect x="239.54" y="213.84" width="29.29" height="2.879" fill="#fffbc9"/>
<rect x="268.81" y="213.84" width="29.29" height="2.879" fill="#f9fbe0"/>
<rect x="298.08" y="213.84" width="29.29" height="2.879" fill="#e8f6f8"/>
<rect x="327.35" y="213.84" width="29.29" height="2.879" fill="#f9fae1"/>
<rect x="356.62" y="213.84" width="29.29" height="2.879" fill="#edf7f8"/>
<rect x="385.89" y="213.84" width="29.29" height="2.879" fill="#f1f8f8"/>
<rect x="415.16" y="213.84" width="29.29" height="2.879" fill="#edf7f8"/>
<rect x="444.43" y="213.84" width="29.29" height="2.879" fill="#e4f4f7"/>
<rect x="473.70" y="213.84" width="29.29" height="2.879" fill="#e0f3f7"/>
<rect x="181.00" y="216.70" width="29.29" height="2.879" fill="#fff9c4"/>
<rect x="210.27" y="216.70" width="29.29" height="2.879" fill="#fafbdc"/>
<rect x="239.54" y="216.70" width="29.29" height="2.879" fill="#fcfbd4"/>
<rect x="268.81" y="216.70" width="29.29" height="2.879" fill="#fafbdf"/>
<rect x="298.08" y="216.70" width="29.29" height="2.879" fill="#e0f3f7"/>
<rect x="327.35" y="216.70" width="29.29" height="2.879" fill="#f9fae1"/>
<rect x="356.62" y="216.70" width="29.29" height="2.879" fill="#e4f4f7"/>
<rect x="385.89" y="216.70" width="29.29" height="2.879" fill="#edf7f8"/>
<rect x="415.16" y="216.70" width="29.29" height="2.879" fill="#f4f9f3"/>
<rect x="444.43" y="216.70" width="29.29" height="2.879" fill="#edf7f8"/>
<rect x="473.70" y="216.70" width="29.29" height="2.879" fill="#d6eef5"/>
<rect x="181.00" y="219.56" width="29.29" height="2.879" fill="#fff7c0"/>
<rect x="210.27" y="219.56" width="29.29" height="2.879" fill="#fafbdd"/>
<rect x="239.54" y="219.56" width="29.29" height="2.879" fill="#feedab"/>
<rect x="268.81" y="219.56" width="29.29" height="2.879" fill="#fbfbdb"/>
<rect x="298.08" y="219.56" width="29.29" height="2.879" fill="#bde2ee"/>
<rect x="327.35" y="219.56" width="29.29" height="2.879" fill="#edf7f8"/>
<rect x="356.62" y="219.56" width="29.29" height="2.879" fill="#e8f6f8"/>
<rect x="385.89" y="219.56" width="58.56" height="2.879" fill="#edf7f8"/>
<rect x="444.43" y="219.56" width="29.29" height="2.879" fill="#c7e7f1"/>
<rect x="473.70" y="219.56" width="29.29" height="2.879" fill="#d6eef5"/>
<rect x="181.00" y="222.42" width="29.29" height="2.879" fill="#fffac5"/>
<rect x="210.27" y="222.42" width="29.29" height="2.879" fill="#fefccd"/>
<rect x="239.54" y="222.42" width="29.29" height="2.879" fill="#fcfbd5"/>
<rect x="268.81" y="222.42" width="29.29" height="2.879" fill="#fcfbd6"/>
<rect x="298.08" y="222.42" width="29.29" height="2.879" fill="#cce9f2"/>
<rect x="327.35" y="222.42" width="29.29" height="2.879" fill="#bde2ee"/>
<rect x="356.62" y="222.42" width="29.29" height="2.879" fill="#cce9f2"/>
<rect x="385.89" y="222.42" width="29.29" height="2.879" fill="#edf7f8"/>
<rect x="415.16" y="222.42" width="29.29" height="2.879" fill="#f4f9f3"/>
<rect x="444.43" y="222.42" width="29.29" height="2.879" fill="#edf7f8"/>
<rect x="473.70" y="222.42" width="29.29" height="2.879" fill="#e8f6f8"/>
<rect x="181.00" y="225.28" width="29.29" height="2.879" fill="#fff9c3"/>
<rect x="210.27" y="225.28" width="29.29" height="2.879" fill="#fefccd"/>
<rect x="239.54" y="225.28" width="29.29" height="2.879" fill="#fffbc7"/>
<rect x="268.81" y="225.28" width="29.29" height="2.879" fill="#fefccd"/>
<rect x="298.08" y="225.28" width="29.29" height="2.879" fill="#c7e7f1"/>
<rect x="327.35" y="225.28" width="29.29" height="2.879" fill="#c2e4ef"/>
<rect x="356.62" y="225.28" width="29.29" height="2.879" fill="#87bcd9"/>
<rect x="385.89" y="225.28" width="29.29" height="2.879" fill="#f4f9f3"/>
<rect x="415.16" y="225.28" width="58.56" height="2.879" fill="#edf7f8"/>
<rect x="473.70" y="225.28" width="29.29" height="2.879" fill="#e8f6f8"/>
<rect x="181.00" y="228.13" width="29.29" height="2.879" fill="#fffac7"/>
<rect x="210.27" y="228.13" width="29.29" height="2.879" fill="#fcfbd7"/>
<rect x="239.54" y="228.13" width="29.29" height="2.879" fill="#fefccf"/>
<rect x="268.81" y="228.13" width="29.29" height="2.879" fill="#fefccd"/>
<rect x="298.08" y="228.13" width="29.29" height="2.879" fill="#bde2ee"/>
<rect x="327.35" y="228.13" width="29.29" height="2.879" fill="#edf7f8"/>
<rect x="356.62" y="228.13" width="29.29" height="2.879" fill="#d6eef5"/>
<rect x="385.89" y="228.13" width="29.29" height="2.879" fill="#edf7f8"/>
<rect x="415.16" y="228.13" width="29.29" height="2.879" fill="#e8f6f8"/>
<rect x="444.43" y="228.13" width="29.29" height="2.879" fill="#aedaea"/>
<rect x="473.70" y="228.13" width="29.29" height="2.879" fill="#bde2ee"/>
<rect x="181.00" y="230.99" width="29.29" height="2.879" fill="#fff6be"/>
<rect x="210.27" y="230.99" width="29.29" height="2.879" fill="#fafbdd"/>
<rect x="239.54" y="230.99" width="29.29" height="2.879" fill="#fdfbd3"/>
<rect x="268.81" y="230.99" width="29.29" height="2.879" fill="#fbfbdb"/>
<rect x="298.08" y="230.99" width="29.29" height="2.879" fill="#bde2ee"/>
<rect x="327.35" y="230.99" width="58.56" height="2.879" fill="#c7e7f1"/>
<rect x="385.89" y="230.99" width="29.29" height="2.879" fill="#e4f4f7"/>
<rect x="415.16" y="230.99" width="29.29" height="2.879" fill="#dbf1f6"/>
<rect x="444.43" y="230.99" width="58.56" height="2.879" fill="#cce9f2"/>
<rect x="181.00" y="233.85" width="29.29" height="2.879" fill="#feeba7"/>
<rect x="210.27" y="233.85" width="29.29" height="2.879" fill="#fbfbdb"/>
<rect x="239.54" y="233.85" width="29.29" height="2.879" fill="#fefccc"/>
<rect x="268.81" y="233.85" width="29.29" height="2.879" fill="#f9fbe0"/>
<rect x="298.08" y="233.85" width="29.29" height="2.879" fill="#b8dfec"/>
<rect x="327.35" y="233.85" width="29.29" height="2.879" fill="#cce9f2"/>
<rect x="356.62" y="233.85" width="29.29" height="2.879" fill="#c7e7f1"/>
<rect x="385.89" y="233.85" width="29.29" height="2.879" fill="#dbf1f6"/>
<rect x="415.16" y="233.85" width="29.29" height="2.879" fill="#cce9f2"/>
<rect x="444.43" y="233.85" width="58.56" height="2.879" fill="#d6eef5"/>
<rect x="181.00" y="236.71" width="29.29" height="2.879" fill="#fff8c3"/>
<rect x="210.27" y="236.71" width="29.29" height="2.879" fill="#feedab"/>
<rect x="239.54" y="236.71" width="29.29" height="2.879" fill="#fdfcd1"/>
<rect x="268.81" y="236.71" width="29.29" height="2.879" fill="#f9fbe0"/>
<rect x="298.08" y="236.71" width="29.29" height="2.879" fill="#b8dfec"/>
<rect x="327.35" y="236.71" width="29.29" height="2.879" fill="#c2e4ef"/>
<rect x="356.62" y="236.71" width="29.29" height="2.879" fill="#bde2ee"/>
<rect x="385.89" y="236.71" width="87.83" height="2.879" fill="#d6eef5"/>
<rect x="473.70" y="236.71" width="29.29" height="2.879" fill="#c7e7f1"/>
<rect x="181.00" y="239.57" width="29.29" height="2.879" fill="#fff9c5"/>
<rect x="210.27" y="239.57" width="29.29" height="2.879" fill="#fbfbd8"/>
<rect x="239.54" y="239.57" width="29.29" height="2.879" fill="#fffcca"/>
<rect x="268.81" y="239.57" width="29.29" height="2.879" fill="#fffccb"/>
<rect x="298.08" y="239.57" width="29.29" height="2.879" fill="#c7e7f1"/>
<rect x="327.35" y="239.57" width="58.56" height="2.879" fill="#cce9f2"/>
<rect x="385.89" y="239.57" width="29.29" height="2.879" fill="#d6eef5"/>
<rect x="415.16" y="239.57" width="29.29" height="2.879" fill="#e4f4f7"/>
<rect x="444.43" y="239.57" width="29.29" height="2.879" fill="#cce9f2"/>
<rect x="473.70" y="239.57" width="29.29" height="2.879" fill="#aedaea"/>
<rect x="181.00" y="242.43" width="29.29" height="2.879" fill="#fff8c1"/>
<rect x="210.27" y="242.43" width="29.29" height="2.879" fill="#fcfbd5"/>
<rect x="239.54" y="242.43" width="29.29" height="2.879" fill="#fffcca"/>
<rect x="268.81" y="242.43" width="29.29" height="2.879" fill="#fdfcd1"/>
<rect x="298.08" y="242.43" width="29.29" height="2.879" fill="#d6eef5"/>
<rect x="327.35" y="242.43" width="58.56" height="2.879" fill="#e0f3f7"/>
<rect x="385.89" y="242.43" width="29.29" height="2.879" fill="#aedaea"/>
<rect x="415.16" y="242.43" width="29.29" height="2.879" fill="#bde2ee"/>
<rect x="444.43" y="242.43" width="29.29" height="2.879" fill="#e0f3f7"/>
<rect x="473.70" y="242.43" width="29.29" height="2.879" fill="#cce9f2"/>
<rect x="181.00" y="245.29" width="29.29" height="2.879" fill="#fffcc9"/>
<rect x="210.27" y="245.29" width="29.29" height="2.879" fill="#fefccc"/>
<rect x="239.54" y="245.29" width="29.29" height="2.879" fill="#fffbc8"/>
<rect x="268.81" y="245.29" width="29.29" height="2.879" fill="#fefccd"/>
<rect x="298.08" y="245.29" width="29.29" height="2.879" fill="#aedaea"/>
<rect x="327.35" y="245.29" width="58.56" height="2.879" fill="#b8dfec"/>
<rect x="385.89" y="245.29" width="29.29" height="2.879" fill="#aedaea"/>
<rect x="415.16" y="245.29" width="29.29" height="2.879" fill="#c2e4ef"/>
<rect x="444.43" y="245.29" width="29.29" height="2.879" fill="#d6eef5"/>
<rect x="473.70" y="245.29" width="29.29" height="2.879" fill="#bde2ee"/>
<rect x="181.00" y="248.15" width="29.29" height="2.879" fill="#fee9a3"/>
<rect x="210.27" y="248.15" width="29.29" height="2.879" fill="#feeba7"/>
<rect x="239.54" y="248.15" width="29.29" height="2.879" fill="#fbfbd9"/>
<rect x="268.81" y="248.15" width="29.29" height="2.879" fill="#fefcce"/>
<rect x="298.08" y="248.15" width="29.29" height="2.879" fill="#a3d2e5"/>
<rect x="327.35" y="248.15" width="29.29" height="2.879" fill="#b3ddeb"/>
<rect x="356.62" y="248.15" width="29.29" height="2.879" fill="#aedaea"/>
<rect x="385.89" y="248.15" width="29.29" height="2.879" fill="#a3d2e5"/>
<rect x="415.16" y="248.15" width="29.29" height="2.879" fill="#bde2ee"/>
<rect x="444.43" y="248.15" width="29.29" height="2.879" fill="#cce9f2"/>
<rect x="473.70" y="248.15" width="29.29" height="2.879" fill="#bde2ee"/>
<rect x="181.00" y="251.01" width="29.29" height="2.879" fill="#fffac5"/>
<rect x="210.27" y="251.01" width="29.29" height="2.879" fill="#fcfbd7"/>
<rect x="239.54" y="251.01" width="29.29" height="2.879" fill="#fcfbd5"/>
<rect x="268.81" y="251.01" width="29.29" height="2.879" fill="#fdfbd2"/>
<rect x="298.08" y="251.01" width="29.29" height="2.879" fill="#aedaea"/>
<rect x="327.35" y="251.01" width="29.29" height="2.879" fill="#b8dfec"/>
<rect x="356.62" y="251.01" width="29.29" height="2.879" fill="#bde2ee"/>
<rect x="385.89" y="251.01" width="29.29" height="2.879" fill="#b8dfec"/>
<rect x="415.16" y="251.01" width="29.29" height="2.879" fill="#c7e7f1"/>
<rect x="444.43" y="251.01" width="58.56" height="2.879" fill="#bde2ee"/>
<rect x="181.00" y="253.87" width="29.29" height="2.879" fill="#fffcc9"/>
<rect x="210.27" y="253.87" width="29.29" height="2.879" fill="#fafbdf"/>
<rect x="239.54" y="253.87" width="29.29" height="2.879" fill="#fdfbd2"/>
<rect x="268.81" y="253.87" width="29.29" height="2.879" fill="#fafbdc"/>
<rect x="298.08" y="253.87" width="87.83" height="2.879" fill="#e0f3f7"/>
<rect x="385.89" y="253.87" width="29.29" height="2.879" fill="#98cae1"/>
<rect x="415.16" y="253.87" width="29.29" height="2.879" fill="#bde2ee"/>
<rect x="444.43" y="253.87" width="58.56" height="2.879" fill="#a3d2e5"/>
<rect x="181.00" y="256.72" width="29.29" height="2.879" fill="#fffac6"/>
<rect x="210.27" y="256.72" width="29.29" height="2.879" fill="#fafbdf"/>
<rect x="239.54" y="256.72" width="29.29" height="2.879" fill="#fcfbd7"/>
<rect x="268.81" y="256.72" width="29.29" height="2.879" fill="#fafbdd"/>
<rect x="298.08" y="256.72" width="58.56" height="2.879" fill="#a3d2e5"/>
<rect x="356.62" y="256.72" width="29.29" height="2.879" fill="#b3ddeb"/>
<rect x="385.89" y="256.72" width="29.29" height="2.879" fill="#a3d2e5"/>
<rect x="415.16" y="256.72" width="29.29" height="2.879" fill="#aedaea"/>
<rect x="444.43" y="256.72" width="29.29" height="2.879" fill="#bde2ee"/>
<rect x="473.70" y="256.72" width="29.29" height="2.879" fill="#a3d2e5"/>
<rect x="181.00" y="259.58" width="29.29" height="2.879" fill="#fffbc9"/>
<rect x="210.27" y="259.58" width="29.29" height="2.879" fill="#fbfbd8"/>
<rect x="239.54" y="259.58" width="29.29" height="2.879" fill="#fcfbd6"/>
<rect x="268.81" y="259.58" width="29.29" height="2.879" fill="#fee9a3"/>
<rect x="298.08" y="259.58" width="29.29" height="2.879" fill="#a3d2e5"/>
<rect x="327.35" y="259.58" width="29.29" height="2.879" fill="#87bcd9"/>
<rect x="356.62" y="259.58" width="29.29" height="2.879" fill="#98cae1"/>
<rect x="385.89" y="259.58" width="87.83" height="2.879" fill="#aedaea"/>
<rect x="473.70" y="259.58" width="29.29" height="2.879" fill="#87bcd9"/>
<rect x="181.00" y="262.44" width="29.29" height="2.879" fill="#fee79f"/>
<rect x="210.27" y="262.44" width="29.29" height="2.879" fill="#fefccd"/>
<rect x="239.54" y="262.44" width="29.29" height="2.879" fill="#f9fbe0"/>
<rect x="268.81" y="262.44" width="29.29" height="2.879" fill="#fdfbd3"/>
<rect x="298.08" y="262.44" width="29.29" height="2.879" fill="#a3d2e5"/>
<rect x="327.35" y="262.44" width="29.29" height="2.879" fill="#7cb4d5"/>
<rect x="356.62" y="262.44" width="29.29" height="2.879" fill="#87bcd9"/>
<rect x="385.89" y="262.44" width="87.83" height="2.879" fill="#a3d2e5"/>
<rect x="473.70" y="262.44" width="29.29" height="2.879" fill="#aedaea"/>
<rect x="181.00" y="265.30" width="29.29" height="2.879" fill="#fffbc8"/>
<rect x="210.27" y="265.30" width="29.29" height="2.879" fill="#fbfbdb"/>
<rect x="239.54" y="265.30" width="29.29" height="2.879" fill="#fefccf"/>
<rect x="268.81" y="265.30" width="29.29" height="2.879" fill="#fbfbd8"/>
<rect x="298.08" y="265.30" width="29.29" height="2.879" fill="#a3d2e5"/>
<rect x="327.35" y="265.30" width="58.56" height="2.879" fill="#77afd2"/>
<rect x="385.89" y="265.30" width="29.29" height="2.879" fill="#b8dfec"/>
<rect x="415.16" y="265.30" width="29.29" height="2.879" fill="#a3d2e5"/>
<rect x="444.43" y="265.30" width="58.56" height="2.879" fill="#87bcd9"/>
<rect x="181.00" y="268.16" width="29.29" height="2.879" fill="#fffbc8"/>
<rect x="210.27" y="268.16" width="29.29" height="2.879" fill="#fefccd"/>
<rect x="239.54" y="268.16" width="29.29" height="2.879" fill="#fffac5"/>
<rect x="268.81" y="268.16" width="29.29" height="2.879" fill="#fcfbd6"/>
<rect x="298.08" y="268.16" width="29.29" height="2.879" fill="#98cae1"/>
<rect x="327.35" y="268.16" width="29.29" height="2.879" fill="#7cb4d5"/>
<rect x="356.62" y="268.16" width="29.29" height="2.879" fill="#6da5cd"/>
<rect x="385.89" y="268.16" width="58.56" height="2.879" fill="#e0f3f7"/>
<rect x="444.43" y="268.16" width="29.29" height="2.879" fill="#6da5cd"/>
<rect x="473.70" y="268.16" width="29.29" height="2.879" fill="#77afd2"/>
<rect x="181.00" y="271.02" width="29.29" height="2.879" fill="#fff9c4"/>
<rect x="210.27" y="271.02" width="29.29" height="2.879" fill="#fafbde"/>
<rect x="239.54" y="271.02" width="29.29" height="2.879" fill="#fcfbd5"/>
<rect x="268.81" y="271.02" width="29.29" height="2.879" fill="#fbfbd9"/>
<rect x="298.08" y="271.02" width="29.29" height="2.879" fill="#98cae1"/>
<rect x="327.35" y="271.02" width="87.83" height="2.879" fill="#87bcd9"/>
<rect x="415.16" y="271.02" width="29.29" height="2.879" fill="#77afd2"/>
<rect x="444.43" y="271.02" width="29.29" height="2.879" fill="#6ba2cb"/>
<rect x="473.70" y="271.02" width="29.29" height="2.879" fill="#6da5cd"/>
<rect x="181.00" y="273.88" width="29.29" height="2.879" fill="#fffac7"/>
<rect x="210.27" y="273.88" width="29.29" height="2.879" fill="#fee9a3"/>
<rect x="239.54" y="273.88" width="29.29" height="2.879" fill="#fffbc7"/>
<rect x="268.81" y="273.88" width="29.29" height="2.879" fill="#fafbdd"/>
<rect x="298.08" y="273.88" width="117.10" height="2.879" fill="#4575b4"/>
<rect x="415.16" y="273.88" width="29.29" height="2.879" fill="#5c91c2"/>
<rect x="444.43" y="273.88" width="29.29" height="2.879" fill="#6da5cd"/>
<rect x="473.70" y="273.88" width="29.29" height="2.879" fill="#87bcd9"/>
<rect x="181.00" y="276.74" width="29.29" height="2.879" fill="#fffcca"/>
<rect x="210.27" y="276.74" width="58.56" height="2.879" fill="#fffccb"/>
<rect x="268.81" y="276.74" width="29.29" height="2.879" fill="#fafbdd"/>
<rect x="298.08" y="276.74" width="87.83" height="2.879" fill="#4575b4"/>
<rect x="385.89" y="276.74" width="29.29" height="2.879" fill="#3d60a7"/>
<rect x="415.16" y="276.74" width="29.29" height="2.879" fill="#4e80ba"/>
<rect x="444.43" y="276.74" width="29.29" height="2.879" fill="#98cae1"/>
<rect x="473.70" y="276.74" width="29.29" height="2.879" fill="#8dc1dc"/>
<rect x="181.00" y="279.60" width="29.29" height="2.879" fill="#fff9c3"/>
<rect x="210.27" y="279.60" width="29.29" height="2.879" fill="#f9fbdf"/>
<rect x="239.54" y="279.60" width="29.29" height="2.879" fill="#feedab"/>
<rect x="268.81" y="279.60" width="29.29" height="2.879" fill="#feefaf"/>
<rect x="298.08" y="279.60" width="87.83" height="2.879" fill="#b91326"/>
<rect x="385.89" y="279.60" width="29.29" height="2.879" fill="#d73027"/>
<rect x="415.16" y="279.60" width="29.29" height="2.879" fill="#e0422f"/>
<rect x="444.43" y="279.60" width="58.56" height="2.879" fill="#b91326"/>
<rect x="181.00" y="282.46" width="29.29" height="2.879" fill="#fff9c3"/>
<rect x="210.27" y="282.46" width="29.29" height="2.879" fill="#fffcca"/>
<rect x="239.54" y="282.46" width="29.29" height="2.879" fill="#fffac7"/>
<rect x="268.81" y="282.46" width="29.29" height="2.879" fill="#fdfcd1"/>
<rect x="298.08" y="282.46" width="58.56" height="2.879" fill="#da362a"/>
<rect x="356.62" y="282.46" width="29.29" height="2.879" fill="#dd3c2d"/>
<rect x="385.89" y="282.46" width="29.29" height="2.879" fill="#da362a"/>
<rect x="415.16" y="282.46" width="29.29" height="2.879" fill="#e34832"/>
<rect x="444.43" y="282.46" width="58.56" height="2.879" fill="#b91326"/>
<rect x="181.00" y="285.31" width="29.29" height="2.879" fill="#fffac7"/>
<rect x="210.27" y="285.31" width="29.29" height="2.879" fill="#fbfbd8"/>
<rect x="239.54" y="285.31" width="29.29" height="2.879" fill="#fdfbd3"/>
<rect x="268.81" y="285.31" width="29.29" height="2.879" fill="#fefccf"/>
<rect x="298.08" y="285.31" width="58.56" height="2.879" fill="#f99155"/>
<rect x="356.62" y="285.31" width="29.29" height="2.879" fill="#fa9b5a"/>
<rect x="385.89" y="285.31" width="29.29" height="2.879" fill="#e34832"/>
<rect x="415.16" y="285.31" width="29.29" height="2.879" fill="#e64e35"/>
<rect x="444.43" y="285.31" width="29.29" height="2.879" fill="#ee613d"/>
<rect x="473.70" y="285.31" width="29.29" height="2.879" fill="#f67f4c"/>
<rect x="181.00" y="288.17" width="29.29" height="2.879" fill="#fff9c3"/>
<rect x="210.27" y="288.17" width="29.29" height="2.879" fill="#fefccf"/>
<rect x="239.54" y="288.17" width="29.29" height="2.879" fill="#fefcd0"/>
<rect x="268.81" y="288.17" width="29.29" height="2.879" fill="#fbfbdb"/>
<rect x="298.08" y="288.17" width="29.29" height="2.879" fill="#fdbb70"/>
<rect x="327.35" y="288.17" width="29.29" height="2.879" fill="#fdad63"/>
<rect x="356.62" y="288.17" width="29.29" height="2.879" fill="#fdbb70"/>
<rect x="385.89" y="288.17" width="87.83" height="2.879" fill="#fdb469"/>
<rect x="473.70" y="288.17" width="29.29" height="2.879" fill="#fdad63"/>
<rect x="181.00" y="291.03" width="29.29" height="2.879" fill="#fff7c0"/>
<rect x="210.27" y="291.03" width="29.29" height="2.879" fill="#fffcca"/>
<rect x="239.54" y="291.03" width="29.29" height="2.879" fill="#fffac7"/>
<rect x="268.81" y="291.03" width="29.29" height="2.879" fill="#fefcce"/>
<rect x="298.08" y="291.03" width="29.29" height="2.879" fill="#fecb7f"/>
<rect x="327.35" y="291.03" width="29.29" height="2.879" fill="#fdb469"/>
<rect x="356.62" y="291.03" width="29.29" height="2.879" fill="#fecb7f"/>
<rect x="385.89" y="291.03" width="58.56" height="2.879" fill="#fed78b"/>
<rect x="444.43" y="291.03" width="29.29" height="2.879" fill="#fdc277"/>
<rect x="473.70" y="291.03" width="29.29" height="2.879" fill="#fdad63"/>
<rect x="181.00" y="293.89" width="29.29" height="2.879" fill="#fff7c0"/>
<rect x="210.27" y="293.89" width="29.29" height="2.879" fill="#fefcd0"/>
<rect x="239.54" y="293.89" width="29.29" height="2.879" fill="#fdfbd2"/>
<rect x="268.81" y="293.89" width="29.29" height="2.879" fill="#fcfbd5"/>
<rect x="298.08" y="293.89" width="29.29" height="2.879" fill="#fee397"/>
<rect x="327.35" y="293.89" width="29.29" height="2.879" fill="#fee093"/>
<rect x="356.62" y="293.89" width="29.29" height="2.879" fill="#fee397"/>
<rect x="385.89" y="293.89" width="58.56" height="2.879" fill="#fff2b5"/>
<rect x="444.43" y="293.89" width="29.29" height="2.879" fill="#fee397"/>
<rect x="473.70" y="293.89" width="29.29" height="2.879" fill="#fee093"/>
<rect x="181.00" y="296.75" width="29.29" height="2.879" fill="#fffac6"/>
<rect x="210.27" y="296.75" width="29.29" height="2.879" fill="#f9fbdf"/>
<rect x="239.54" y="296.75" width="29.29" height="2.879" fill="#fcfbd6"/>
<rect x="268.81" y="296.75" width="29.29" height="2.879" fill="#fbfbda"/>
<rect x="298.08" y="296.75" width="87.83" height="2.879" fill="#edf7f8"/>
<rect x="385.89" y="296.75" width="117.10" height="2.879" fill="#e8f6f8"/>
<rect x="181.00" y="299.61" width="29.29" height="2.879" fill="#fffac7"/>
<rect x="210.27" y="299.61" width="29.29" height="2.879" fill="#fdfcd1"/>
<rect x="239.54" y="299.61" width="29.29" height="2.879" fill="#fffac5"/>
<rect x="268.81" y="299.61" width="29.29" height="2.879" fill="#fcfbd6"/>
<rect x="298.08" y="299.61" width="204.91" height="2.879" fill="#d6eef5"/>
<rect x="181.00" y="302.47" width="29.29" height="2.879" fill="#fee9a3"/>
<rect x="210.27" y="302.47" width="29.29" height="2.879" fill="#fffccb"/>
<rect x="239.54" y="302.47" width="29.29" height="2.879" fill="#fffac5"/>
<rect x="268.81" y="302.47" width="29.29" height="2.879" fill="#fffccb"/>
<rect x="298.08" y="302.47" width="29.29" height="2.879" fill="#8dc1dc"/>
<rect x="327.35" y="302.47" width="29.29" height="2.879" fill="#98cae1"/>
<rect x="356.62" y="302.47" width="29.29" height="2.879" fill="#92c5de"/>
<rect x="385.89" y="302.47" width="29.29" height="2.879" fill="#c2e4ef"/>
<rect x="415.16" y="302.47" width="29.29" height="2.879" fill="#c7e7f1"/>
<rect x="444.43" y="302.47" width="58.56" height="2.879" fill="#a3d2e5"/>
<rect x="181.00" y="305.33" width="29.29" height="2.879" fill="#fffac5"/>
<rect x="210.27" y="305.33" width="29.29" height="2.879" fill="#f9fbe0"/>
<rect x="239.54" y="305.33" width="29.29" height="2.879" fill="#fee9a3"/>
<rect x="268.81" y="305.33" width="29.29" height="2.879" fill="#fbfbdb"/>
<rect x="298.08" y="305.33" width="87.83" height="2.879" fill="#98cae1"/>
<rect x="385.89" y="305.33" width="29.29" height="2.879" fill="#c2e4ef"/>
<rect x="415.16" y="305.33" width="29.29" height="2.879" fill="#c7e7f1"/>
<rect x="444.43" y="305.33" width="58.56" height="2.879" fill="#a3d2e5"/>
<rect x="181.00" y="308.19" width="29.29" height="2.879" fill="#fffbc7"/>
<rect x="210.27" y="308.19" width="29.29" height="2.879" fill="#fafbdc"/>
<rect x="239.54" y="308.19" width="58.56" height="2.879" fill="#fdfbd2"/>
<rect x="298.08" y="308.19" width="87.83" height="2.879" fill="#b8dfec"/>
<rect x="385.89" y="308.19" width="29.29" height="2.879" fill="#7cb4d5"/>
<rect x="415.16" y="308.19" width="29.29" height="2.879" fill="#aedaea"/>
<rect x="444.43" y="308.19" width="29.29" height="2.879" fill="#bde2ee"/>
<rect x="473.70" y="308.19" width="29.29" height="2.879" fill="#a3d2e5"/>
<rect x="181.00" y="311.05" width="29.29" height="2.879" fill="#feedab"/>
<rect x="210.27" y="311.05" width="29.29" height="2.879" fill="#fefccc"/>
<rect x="239.54" y="311.05" width="29.29" height="2.879" fill="#feedab"/>
<rect x="268.81" y="311.05" width="29.29" height="2.879" fill="#fefcce"/>
<rect x="298.08" y="311.05" width="87.83" height="2.879" fill="#5386bd"/>
<rect x="385.89" y="311.05" width="29.29" height="2.879" fill="#a3d2e5"/>
<rect x="415.16" y="311.05" width="58.56" height="2.879" fill="#bde2ee"/>
<rect x="473.70" y="311.05" width="29.29" height="2.879" fill="#a3d2e5"/>
<rect x="181.00" y="313.90" width="29.29" height="2.879" fill="#fff9c4"/>
<rect x="210.27" y="313.90" width="29.29" height="2.879" fill="#fdfcd2"/>
<rect x="239.54" y="313.90" width="29.29" height="2.879" fill="#fffbc7"/>
<rect x="268.81" y="313.90" width="29.29" height="2.879" fill="#fafbde"/>
<rect x="298.08" y="313.90" width="87.83" height="2.879" fill="#303c91"/>
<rect x="385.89" y="313.90" width="29.29" height="2.879" fill="#669cc8"/>
<rect x="415.16" y="313.90" width="29.29" height="2.879" fill="#5c91c2"/>
<rect x="444.43" y="313.90" width="29.29" height="2.879" fill="#303c91"/>
<rect x="473.70" y="313.90" width="29.29" height="2.879" fill="#4067ab"/>
<rect x="181.00" y="316.76" width="29.29" height="2.879" fill="#fff8c2"/>
<rect x="210.27" y="316.76" width="29.29" height="2.879" fill="#fefccc"/>
<rect x="239.54" y="316.76" width="29.29" height="2.879" fill="#fffbc8"/>
<rect x="268.81" y="316.76" width="29.29" height="2.879" fill="#fefcd0"/>
<rect x="298.08" y="316.76" width="29.29" height="2.879" fill="#fdc277"/>
<rect x="327.35" y="316.76" width="58.56" height="2.879" fill="#fecb7f"/>
<rect x="385.89" y="316.76" width="29.29" height="2.879" fill="#fa9b5a"/>
<rect x="415.16" y="316.76" width="29.29" height="2.879" fill="#fdc277"/>
<rect x="444.43" y="316.76" width="29.29" height="2.879" fill="#fecb7f"/>
<rect x="473.70" y="316.76" width="29.29" height="2.879" fill="#fed78b"/>
<rect x="181.00" y="319.62" width="29.29" height="2.879" fill="#fff9c4"/>
<rect x="210.27" y="319.62" width="29.29" height="2.879" fill="#fafbdc"/>
<rect x="239.54" y="319.62" width="29.29" height="2.879" fill="#fffbc7"/>
<rect x="268.81" y="319.62" width="29.29" height="2.879" fill="#fbfbd9"/>
<rect x="298.08" y="319.62" width="87.83" height="2.879" fill="#fed78b"/>
<rect x="385.89" y="319.62" width="29.29" height="2.879" fill="#fdb469"/>
<rect x="415.16" y="319.62" width="29.29" height="2.879" fill="#fecb7f"/>
<rect x="444.43" y="319.62" width="58.56" height="2.879" fill="#fed78b"/>
<rect x="181.00" y="322.48" width="29.29" height="2.879" fill="#fff7c0"/>
<rect x="210.27" y="322.48" width="29.29" height="2.879" fill="#fffccb"/>
<rect x="239.54" y="322.48" width="29.29" height="2.879" fill="#fefcce"/>
<rect x="268.81" y="322.48" width="29.29" height="2.879" fill="#fcfbd7"/>
<rect x="298.08" y="322.48" width="29.29" height="2.879" fill="#fee397"/>
<rect x="327.35" y="322.48" width="58.56" height="2.879" fill="#fedb8f"/>
<rect x="385.89" y="322.48" width="29.29" height="2.879" fill="#fdc277"/>
<rect x="415.16" y="322.48" width="29.29" height="2.879" fill="#fecb7f"/>
<rect x="444.43" y="322.48" width="58.56" height="2.879" fill="#fee093"/>
<rect x="181.00" y="325.34" width="29.29" height="2.879" fill="#fff6be"/>
<rect x="210.27" y="325.34" width="29.29" height="2.879" fill="#fdfcd0"/>
<rect x="239.54" y="325.34" width="29.29" height="2.879" fill="#fdfbd3"/>
<rect x="268.81" y="325.34" width="29.29" height="2.879" fill="#fafbdd"/>
<rect x="298.08" y="325.34" width="87.83" height="2.879" fill="#fee89f"/>
<rect x="385.89" y="325.34" width="58.56" height="2.879" fill="#fed78b"/>
<rect x="444.43" y="325.34" width="29.29" height="2.879" fill="#fee093"/>
<rect x="473.70" y="325.34" width="29.29" height="2.879" fill="#fee397"/>
<rect x="181.00" y="328.20" width="29.29" height="2.879" fill="#fffbc8"/>
<rect x="210.27" y="328.20" width="29.29" height="2.879" fill="#fefccc"/>
<rect x="239.54" y="328.20" width="29.29" height="2.879" fill="#fffbc7"/>
<rect x="268.81" y="328.20" width="29.29" height="2.879" fill="#fafbdd"/>
<rect x="298.08" y="328.20" width="87.83" height="2.879" fill="#fff0b0"/>
<rect x="385.89" y="328.20" width="29.29" height="2.879" fill="#feeca8"/>
<rect x="415.16" y="328.20" width="29.29" height="2.879" fill="#fff0b0"/>
<rect x="444.43" y="328.20" width="58.56" height="2.879" fill="#feeca8"/>
<rect x="181.00" y="331.06" width="29.29" height="2.879" fill="#fff7c0"/>
<rect x="210.27" y="331.06" width="29.29" height="2.879" fill="#fffcca"/>
<rect x="239.54" y="331.06" width="29.29" height="2.879" fill="#fffcc9"/>
<rect x="268.81" y="331.06" width="29.29" height="2.879" fill="#fbfbd8"/>
<rect x="298.08" y="331.06" width="58.56" height="2.879" fill="#edf7f8"/>
<rect x="356.62" y="331.06" width="29.29" height="2.879" fill="#f4f9f3"/>
<rect x="385.89" y="331.06" width="29.29" height="2.879" fill="#f7faea"/>
<rect x="415.16" y="331.06" width="29.29" height="2.879" fill="#edf7f8"/>
<rect x="444.43" y="331.06" width="29.29" height="2.879" fill="#fff8c1"/>
<rect x="473.70" y="331.06" width="29.29" height="2.879" fill="#fffcca"/>
<rect x="181.00" y="333.92" width="29.29" height="2.879" fill="#fff9c3"/>
<rect x="210.27" y="333.92" width="29.29" height="2.879" fill="#fafbdd"/>
<rect x="239.54" y="333.92" width="29.29" height="2.879" fill="#fcfbd7"/>
<rect x="268.81" y="333.92" width="29.29" height="2.879" fill="#fffccb"/>
<rect x="298.08" y="333.92" width="29.29" height="2.879" fill="#e0f3f7"/>
<rect x="327.35" y="333.92" width="29.29" height="2.879" fill="#e8f6f8"/>
<rect x="356.62" y="333.92" width="29.29" height="2.879" fill="#e0f3f7"/>
<rect x="385.89" y="333.92" width="58.56" height="2.879" fill="#e8f6f8"/>
<rect x="444.43" y="333.92" width="29.29" height="2.879" fill="#f7faea"/>
<rect x="473.70" y="333.92" width="29.29" height="2.879" fill="#edf7f8"/>
<rect x="181.00" y="336.78" width="29.29" height="2.879" fill="#fff8c2"/>
<rect x="210.27" y="336.78" width="29.29" height="2.879" fill="#fcfbd4"/>
<rect x="239.54" y="336.78" width="29.29" height="2.879" fill="#fffac6"/>
<rect x="268.81" y="336.78" width="29.29" height="2.879" fill="#fcfbd7"/>
<rect x="298.08" y="336.78" width="29.29" height="2.879" fill="#e0f3f7"/>
<rect x="327.35" y="336.78" width="58.56" height="2.879" fill="#e8f6f8"/>
<rect x="385.89" y="336.78" width="58.56" height="2.879" fill="#e0f3f7"/>
<rect x="444.43" y="336.78" width="29.29" height="2.879" fill="#f4f9f3"/>
<rect x="473.70" y="336.78" width="29.29" height="2.879" fill="#edf7f8"/>
<rect x="181.00" y="339.63" width="29.29" height="2.879" fill="#fff7bf"/>
<rect x="210.27" y="339.63" width="29.29" height="2.879" fill="#fefcce"/>
<rect x="239.54" y="339.63" width="29.29" height="2.879" fill="#fdfbd2"/>
<rect x="268.81" y="339.63" width="29.29" height="2.879" fill="#fbfbdb"/>
<rect x="298.08" y="339.63" width="29.29" height="2.879" fill="#c7e7f1"/>
<rect x="327.35" y="339.63" width="29.29" height="2.879" fill="#e4f4f7"/>
<rect x="356.62" y="339.63" width="29.29" height="2.879" fill="#e0f3f7"/>
<rect x="385.89" y="339.63" width="58.56" height="2.879" fill="#d6eef5"/>
<rect x="444.43" y="339.63" width="29.29" height="2.879" fill="#f4f9f3"/>
<rect x="473.70" y="339.63" width="29.29" height="2.879" fill="#e8f6f8"/>
<rect x="181.00" y="342.49" width="29.29" height="2.879" fill="#fffac6"/>
<rect x="210.27" y="342.49" width="29.29" height="2.879" fill="#fbfbdb"/>
<rect x="239.54" y="342.49" width="29.29" height="2.879" fill="#fffcca"/>
<rect x="268.81" y="342.49" width="29.29" height="2.879" fill="#fbfbda"/>
<rect x="298.08" y="342.49" width="29.29" height="2.879" fill="#c7e7f1"/>
<rect x="327.35" y="342.49" width="58.56" height="2.879" fill="#e0f3f7"/>
<rect x="385.89" y="342.49" width="29.29" height="2.879" fill="#cce9f2"/>
<rect x="415.16" y="342.49" width="29.29" height="2.879" fill="#d6eef5"/>
<rect x="444.43" y="342.49" width="29.29" height="2.879" fill="#edf7f8"/>
<rect x="473.70" y="342.49" width="29.29" height="2.879" fill="#e0f3f7"/>
<rect x="181.00" y="345.35" width="29.29" height="2.879" fill="#fff9c5"/>
<rect x="210.27" y="345.35" width="29.29" height="2.879" fill="#fafbdd"/>
<rect x="239.54" y="345.35" width="29.29" height="2.879" fill="#fffac6"/>
<rect x="268.81" y="345.35" width="29.29" height="2.879" fill="#fbfbd8"/>
<rect x="298.08" y="345.35" width="29.29" height="2.879" fill="#bde2ee"/>
<rect x="327.35" y="345.35" width="29.29" height="2.879" fill="#e0f3f7"/>
<rect x="356.62" y="345.35" width="29.29" height="2.879" fill="#d6eef5"/>
<rect x="385.89" y="345.35" width="29.29" height="2.879" fill="#c7e7f1"/>
<rect x="415.16" y="345.35" width="29.29" height="2.879" fill="#d6eef5"/>
<rect x="444.43" y="345.35" width="29.29" height="2.879" fill="#e0f3f7"/>
<rect x="473.70" y="345.35" width="29.29" height="2.879" fill="#d6eef5"/>
<rect x="181.00" y="348.21" width="29.29" height="2.879" fill="#fff9c4"/>
<rect x="210.27" y="348.21" width="29.29" height="2.879" fill="#fdfbd3"/>
<rect x="239.54" y="348.21" width="29.29" height="2.879" fill="#fffac6"/>
<rect x="268.81" y="348.21" width="29.29" height="2.879" fill="#fcfbd7"/>
<rect x="298.08" y="348.21" width="29.29" height="2.879" fill="#d6eef5"/>
<rect x="327.35" y="348.21" width="29.29" height="2.879" fill="#cce9f2"/>
<rect x="356.62" y="348.21" width="29.29" height="2.879" fill="#c7e7f1"/>
<rect x="385.89" y="348.21" width="29.29" height="2.879" fill="#6da5cd"/>
<rect x="415.16" y="348.21" width="29.29" height="2.879" fill="#87bcd9"/>
<rect x="444.43" y="348.21" width="29.29" height="2.879" fill="#e0f3f7"/>
<rect x="473.70" y="348.21" width="29.29" height="2.879" fill="#d6eef5"/>
<rect x="181.00" y="351.07" width="29.29" height="2.879" fill="#feeba7"/>
<rect x="210.27" y="351.07" width="58.56" height="2.879" fill="#fffccc"/>
<rect x="268.81" y="351.07" width="29.29" height="2.879" fill="#fcfbd4"/>
<rect x="298.08" y="351.07" width="29.29" height="2.879" fill="#b8dfec"/>
<rect x="327.35" y="351.07" width="29.29" height="2.879" fill="#c2e4ef"/>
<rect x="356.62" y="351.07" width="29.29" height="2.879" fill="#b8dfec"/>
<rect x="385.89" y="351.07" width="58.56" height="2.879" fill="#bde2ee"/>
<rect x="444.43" y="351.07" width="58.56" height="2.879" fill="#c7e7f1"/>
<rect x="181.00" y="353.93" width="29.29" height="2.879" fill="#fff9c3"/>
<rect x="210.27" y="353.93" width="29.29" height="2.879" fill="#f9fbe0"/>
<rect x="239.54" y="353.93" width="29.29" height="2.879" fill="#fefccd"/>
<rect x="268.81" y="353.93" width="29.29" height="2.879" fill="#f9fbe0"/>
<rect x="298.08" y="353.93" width="29.29" height="2.879" fill="#aedaea"/>
<rect x="327.35" y="353.93" width="87.83" height="2.879" fill="#bde2ee"/>
<rect x="415.16" y="353.93" width="29.29" height="2.879" fill="#aedaea"/>
<rect x="444.43" y="353.93" width="58.56" height="2.879" fill="#bde2ee"/>
<rect x="181.00" y="356.79" width="29.29" height="2.879" fill="#fffbc8"/>
<rect x="210.27" y="356.79" width="29.29" height="2.879" fill="#f9fbe0"/>
<rect x="239.54" y="356.79" width="29.29" height="2.879" fill="#fffbc7"/>
<rect x="268.81" y="356.79" width="29.29" height="2.879" fill="#fafbdc"/>
<rect x="298.08" y="356.79" width="87.83" height="2.879" fill="#bde2ee"/>
<rect x="385.89" y="356.79" width="29.29" height="2.879" fill="#aedaea"/>
<rect x="415.16" y="356.79" width="58.56" height="2.879" fill="#bde2ee"/>
<rect x="473.70" y="356.79" width="29.29" height="2.879" fill="#aedaea"/>
<rect x="181.00" y="359.65" width="29.29" height="2.879" fill="#fff9c4"/>
<rect x="210.27" y="359.65" width="29.29" height="2.879" fill="#fdfcd0"/>
<rect x="239.54" y="359.65" width="29.29" height="2.879" fill="#fffccb"/>
<rect x="268.81" y="359.65" width="29.29" height="2.879" fill="#fbfbd9"/>
<rect x="298.08" y="359.65" width="29.29" height="2.879" fill="#e0f3f7"/>
<rect x="327.35" y="359.65" width="29.29" height="2.879" fill="#c7e7f1"/>
<rect x="356.62" y="359.65" width="87.83" height="2.879" fill="#bde2ee"/>
<rect x="444.43" y="359.65" width="29.29" height="2.879" fill="#5c91c2"/>
<rect x="473.70" y="359.65" width="29.29" height="2.879" fill="#aedaea"/>
<rect x="181.00" y="362.51" width="29.29" height="2.879" fill="#fff9c4"/>
<rect x="210.27" y="362.51" width="29.29" height="2.879" fill="#fcfbd4"/>
<rect x="239.54" y="362.51" width="29.29" height="2.879" fill="#fffbc7"/>
<rect x="268.81" y="362.51" width="29.29" height="2.879" fill="#fafbde"/>
<rect x="298.08" y="362.51" width="87.83" height="2.879" fill="#303c91"/>
<rect x="385.89" y="362.51" width="117.10" height="2.879" fill="#38529e"/>
<rect x="181.00" y="365.37" width="29.29" height="2.879" fill="#fff9c3"/>
<rect x="210.27" y="365.37" width="29.29" height="2.879" fill="#fbfbdb"/>
<rect x="239.54" y="365.37" width="29.29" height="2.879" fill="#fee79f"/>
<rect x="268.81" y="365.37" width="29.29" height="2.879" fill="#fbfbda"/>
<rect x="298.08" y="365.37" width="29.29" height="2.879" fill="#f46d43"/>
<rect x="327.35" y="365.37" width="29.29" height="2.879" fill="#eb5b3b"/>
<rect x="356.62" y="365.37" width="29.29" height="2.879" fill="#f46d43"/>
<rect x="385.89" y="365.37" width="58.56" height="2.879" fill="#ee613d"/>
<rect x="444.43" y="365.37" width="29.29" height="2.879" fill="#d73027"/>
<rect x="473.70" y="365.37" width="29.29" height="2.879" fill="#dd3c2d"/>
<rect x="181.00" y="368.23" width="29.29" height="2.879" fill="#fff7c0"/>
<rect x="210.27" y="368.23" width="29.29" height="2.879" fill="#fcfbd5"/>
<rect x="239.54" y="368.23" width="29.29" height="2.879" fill="#fffcca"/>
<rect x="268.81" y="368.23" width="29.29" height="2.879" fill="#feedab"/>
<rect x="298.08" y="368.23" width="29.29" height="2.879" fill="#fdb469"/>
<rect x="327.35" y="368.23" width="29.29" height="2.879" fill="#fdad63"/>
<rect x="356.62" y="368.23" width="29.29" height="2.879" fill="#fdb469"/>
<rect x="385.89" y="368.23" width="58.56" height="2.879" fill="#fa9b5a"/>
<rect x="444.43" y="368.23" width="29.29" height="2.879" fill="#f46d43"/>
<rect x="473.70" y="368.23" width="29.29" height="2.879" fill="#f67f4c"/>
<rect x="181.00" y="371.08" width="29.29" height="2.879" fill="#fff7c1"/>
<rect x="210.27" y="371.08" width="29.29" height="2.879" fill="#feeba7"/>
<rect x="239.54" y="371.08" width="29.29" height="2.879" fill="#f9fbe0"/>
<rect x="268.81" y="371.08" width="29.29" height="2.879" fill="#fefccc"/>
<rect x="298.08" y="371.08" width="58.56" height="2.879" fill="#fee093"/>
<rect x="356.62" y="371.08" width="29.29" height="2.879" fill="#fee397"/>
<rect x="385.89" y="371.08" width="29.29" height="2.879" fill="#fecb7f"/>
<rect x="415.16" y="371.08" width="87.83" height="2.879" fill="#fed78b"/>
<rect x="181.00" y="373.94" width="29.29" height="2.879" fill="#fff9c4"/>
<rect x="210.27" y="373.94" width="29.29" height="2.879" fill="#fdfbd3"/>
<rect x="239.54" y="373.94" width="29.29" height="2.879" fill="#fffccc"/>
<rect x="268.81" y="373.94" width="29.29" height="2.879" fill="#fcfbd5"/>
<rect x="298.08" y="373.94" width="204.91" height="2.879" fill="#feeca8"/>
<rect x="181.00" y="376.80" width="29.29" height="2.879" fill="#fff8c1"/>
<rect x="210.27" y="376.80" width="29.29" height="2.879" fill="#fcfbd6"/>
<rect x="239.54" y="376.80" width="29.29" height="2.879" fill="#fffccb"/>
<rect x="268.81" y="376.80" width="29.29" height="2.879" fill="#fcfbd6"/>
<rect x="298.08" y="376.80" width="29.29" height="2.879" fill="#e8f6f8"/>
<rect x="327.35" y="376.80" width="58.56" height="2.879" fill="#edf7f8"/>
<rect x="385.89" y="376.80" width="29.29" height="2.879" fill="#f4f9f3"/>
<rect x="415.16" y="376.80" width="29.29" height="2.879" fill="#f1f8f8"/>
<rect x="444.43" y="376.80" width="29.29" height="2.879" fill="#e0f3f7"/>
<rect x="473.70" y="376.80" width="29.29" height="2.879" fill="#d6eef5"/>
<rect x="181.00" y="379.66" width="29.29" height="2.879" fill="#fff6be"/>
<rect x="210.27" y="379.66" width="29.29" height="2.879" fill="#fdfcd1"/>
<rect x="239.54" y="379.66" width="29.29" height="2.879" fill="#fffac6"/>
<rect x="268.81" y="379.66" width="29.29" height="2.879" fill="#fffccb"/>
<rect x="298.08" y="379.66" width="29.29" height="2.879" fill="#c7e7f1"/>
<rect x="327.35" y="379.66" width="29.29" height="2.879" fill="#e0f3f7"/>
<rect x="356.62" y="379.66" width="29.29" height="2.879" fill="#c7e7f1"/>
<rect x="385.89" y="379.66" width="29.29" height="2.879" fill="#e8f6f8"/>
<rect x="415.16" y="379.66" width="29.29" height="2.879" fill="#edf7f8"/>
<rect x="444.43" y="379.66" width="29.29" height="2.879" fill="#cce9f2"/>
<rect x="473.70" y="379.66" width="29.29" height="2.879" fill="#d6eef5"/>
<rect x="181.00" y="382.52" width="29.29" height="2.879" fill="#feedab"/>
<rect x="210.27" y="382.52" width="29.29" height="2.879" fill="#fbfbda"/>
<rect x="239.54" y="382.52" width="58.56" height="2.879" fill="#fffccb"/>
<rect x="298.08" y="382.52" width="58.56" height="2.879" fill="#d6eef5"/>
<rect x="356.62" y="382.52" width="29.29" height="2.879" fill="#c7e7f1"/>
<rect x="385.89" y="382.52" width="29.29" height="2.879" fill="#f4f9f3"/>
<rect x="415.16" y="382.52" width="29.29" height="2.879" fill="#e8f6f8"/>
<rect x="444.43" y="382.52" width="29.29" height="2.879" fill="#d6eef5"/>
<rect x="473.70" y="382.52" width="29.29" height="2.879" fill="#e0f3f7"/>
<rect x="181.00" y="385.38" width="29.29" height="2.879" fill="#fff7c0"/>
<rect x="210.27" y="385.38" width="29.29" height="2.879" fill="#fafbdd"/>
<rect x="239.54" y="385.38" width="29.29" height="2.879" fill="#fcfbd4"/>
<rect x="268.81" y="385.38" width="29.29" height="2.879" fill="#fcfbd6"/>
<rect x="298.08" y="385.38" width="29.29" height="2.879" fill="#b8dfec"/>
<rect x="327.35" y="385.38" width="29.29" height="2.879" fill="#cce9f2"/>
<rect x="356.62" y="385.38" width="29.29" height="2.879" fill="#aedaea"/>
<rect x="385.89" y="385.38" width="29.29" height="2.879" fill="#e0f3f7"/>
<rect x="415.16" y="385.38" width="29.29" height="2.879" fill="#d6eef5"/>
<rect x="444.43" y="385.38" width="58.56" height="2.879" fill="#e0f3f7"/>
<rect x="181.00" y="388.24" width="29.29" height="2.879" fill="#fffcc9"/>
<rect x="210.27" y="388.24" width="29.29" height="2.879" fill="#fbfbdb"/>
<rect x="239.54" y="388.24" width="29.29" height="2.879" fill="#fcfbd5"/>
<rect x="268.81" y="388.24" width="29.29" height="2.879" fill="#fdfcd1"/>
<rect x="298.08" y="388.24" width="29.29" height="2.879" fill="#cce9f2"/>
<rect x="327.35" y="388.24" width="29.29" height="2.879" fill="#d6eef5"/>
<rect x="356.62" y="388.24" width="29.29" height="2.879" fill="#bde2ee"/>
<rect x="385.89" y="388.24" width="29.29" height="2.879" fill="#d6eef5"/>
<rect x="415.16" y="388.24" width="58.56" height="2.879" fill="#cce9f2"/>
<rect x="473.70" y="388.24" width="29.29" height="2.879" fill="#c7e7f1"/>
<rect x="181.00" y="391.10" width="29.29" height="2.879" fill="#fff7c0"/>
<rect x="210.27" y="391.10" width="29.29" height="2.879" fill="#fefccc"/>
<rect x="239.54" y="391.10" width="29.29" height="2.879" fill="#fdfbd3"/>
<rect x="268.81" y="391.10" width="29.29" height="2.879" fill="#fdfcd0"/>
<rect x="298.08" y="391.10" width="29.29" height="2.879" fill="#e0f3f7"/>
<rect x="327.35" y="391.10" width="58.56" height="2.879" fill="#d6eef5"/>
<rect x="385.89" y="391.10" width="58.56" height="2.879" fill="#c7e7f1"/>
<rect x="444.43" y="391.10" width="29.29" height="2.879" fill="#a3d2e5"/>
<rect x="473.70" y="391.10" width="29.29" height="2.879" fill="#bde2ee"/>
<rect x="181.00" y="393.96" width="29.29" height="2.879" fill="#fff8c2"/>
<rect x="210.27" y="393.96" width="29.29" height="2.879" fill="#fafbdd"/>
<rect x="239.54" y="393.96" width="29.29" height="2.879" fill="#fffac6"/>
<rect x="268.81" y="393.96" width="29.29" height="2.879" fill="#fffccb"/>
<rect x="298.08" y="393.96" width="29.29" height="2.879" fill="#c2e4ef"/>
<rect x="327.35" y="393.96" width="58.56" height="2.879" fill="#bde2ee"/>
<rect x="385.89" y="393.96" width="58.56" height="2.879" fill="#aedaea"/>
<rect x="444.43" y="393.96" width="29.29" height="2.879" fill="#a3d2e5"/>
<rect x="473.70" y="393.96" width="29.29" height="2.879" fill="#aedaea"/>
<rect x="181.00" y="396.81" width="29.29" height="2.879" fill="#fffbc7"/>
<rect x="210.27" y="396.81" width="29.29" height="2.879" fill="#fffccb"/>
<rect x="239.54" y="396.81" width="29.29" height="2.879" fill="#fefcce"/>
<rect x="268.81" y="396.81" width="29.29" height="2.879" fill="#fcfbd5"/>
<rect x="298.08" y="396.81" width="29.29" height="2.879" fill="#bde2ee"/>
<rect x="327.35" y="396.81" width="29.29" height="2.879" fill="#d6eef5"/>
<rect x="356.62" y="396.81" width="29.29" height="2.879" fill="#c7e7f1"/>
<rect x="385.89" y="396.81" width="58.56" height="2.879" fill="#aedaea"/>
<rect x="444.43" y="396.81" width="58.56" height="2.879" fill="#a3d2e5"/>
<rect x="181.00" y="399.67" width="29.29" height="2.879" fill="#fee9a3"/>
<rect x="210.27" y="399.67" width="29.29" height="2.879" fill="#fffcca"/>
<rect x="239.54" y="399.67" width="29.29" height="2.879" fill="#fffbc7"/>
<rect x="268.81" y="399.67" width="29.29" height="2.879" fill="#fafbdd"/>
<rect x="298.08" y="399.67" width="29.29" height="2.879" fill="#a3d2e5"/>
<rect x="327.35" y="399.67" width="29.29" height="2.879" fill="#d6eef5"/>
<rect x="356.62" y="399.67" width="87.83" height="2.879" fill="#bde2ee"/>
<rect x="444.43" y="399.67" width="29.29" height="2.879" fill="#c7e7f1"/>
<rect x="473.70" y="399.67" width="29.29" height="2.879" fill="#bde2ee"/>
<rect x="181.00" y="402.53" width="29.29" height="2.879" fill="#fee9a3"/>
<rect x="210.27" y="402.53" width="29.29" height="2.879" fill="#fcfbd7"/>
<rect x="239.54" y="402.53" width="29.29" height="2.879" fill="#fffccb"/>
<rect x="268.81" y="402.53" width="29.29" height="2.879" fill="#fbfbd9"/>
<rect x="298.08" y="402.53" width="29.29" height="2.879" fill="#a3d2e5"/>
<rect x="327.35" y="402.53" width="29.29" height="2.879" fill="#e0f3f7"/>
<rect x="356.62" y="402.53" width="29.29" height="2.879" fill="#bde2ee"/>
<rect x="385.89" y="402.53" width="29.29" height="2.879" fill="#c7e7f1"/>
<rect x="415.16" y="402.53" width="29.29" height="2.879" fill="#aedaea"/>
<rect x="444.43" y="402.53" width="29.29" height="2.879" fill="#b8dfec"/>
<rect x="473.70" y="402.53" width="29.29" height="2.879" fill="#87bcd9"/>
<rect x="181.00" y="405.39" width="29.29" height="2.879" fill="#fffbc8"/>
<rect x="210.27" y="405.39" width="29.29" height="2.879" fill="#fbfbd9"/>
<rect x="239.54" y="405.39" width="29.29" height="2.879" fill="#fffbc8"/>
<rect x="268.81" y="405.39" width="29.29" height="2.879" fill="#f9fbe0"/>
<rect x="298.08" y="405.39" width="29.29" height="2.879" fill="#bde2ee"/>
<rect x="327.35" y="405.39" width="29.29" height="2.879" fill="#c7e7f1"/>
<rect x="356.62" y="405.39" width="29.29" height="2.879" fill="#aedaea"/>
<rect x="385.89" y="405.39" width="29.29" height="2.879" fill="#6da5cd"/>
<rect x="415.16" y="405.39" width="29.29" height="2.879" fill="#87bcd9"/>
<rect x="444.43" y="405.39" width="29.29" height="2.879" fill="#5c91c2"/>
<rect x="473.70" y="405.39" width="29.29" height="2.879" fill="#87bcd9"/>
<rect x="181.00" y="408.25" width="29.29" height="2.879" fill="#fff9c3"/>
<rect x="210.27" y="408.25" width="58.56" height="2.879" fill="#fcfbd6"/>
<rect x="268.81" y="408.25" width="29.29" height="2.879" fill="#fbfbd9"/>
<rect x="298.08" y="408.25" width="29.29" height="2.879" fill="#4e80ba"/>
<rect x="327.35" y="408.25" width="29.29" height="2.879" fill="#5c91c2"/>
<rect x="356.62" y="408.25" width="29.29" height="2.879" fill="#38529e"/>
<rect x="385.89" y="408.25" width="29.29" height="2.879" fill="#a3d2e5"/>
<rect x="415.16" y="408.25" width="29.29" height="2.879" fill="#4575b4"/>
<rect x="444.43" y="408.25" width="29.29" height="2.879" fill="#38529e"/>
<rect x="473.70" y="408.25" width="29.29" height="2.879" fill="#4575b4"/>
<rect x="181.00" y="411.11" width="29.29" height="2.879" fill="#fff8c2"/>
<rect x="210.27" y="411.11" width="29.29" height="2.879" fill="#feedab"/>
<rect x="239.54" y="411.11" width="29.29" height="2.879" fill="#fffccc"/>
<rect x="268.81" y="411.11" width="29.29" height="2.879" fill="#fafbdf"/>
<rect x="298.08" y="411.11" width="29.29" height="2.879" fill="#4e80ba"/>
<rect x="327.35" y="411.11" width="29.29" height="2.879" fill="#5c91c2"/>
<rect x="356.62" y="411.11" width="58.56" height="2.879" fill="#4e80ba"/>
<rect x="415.16" y="411.11" width="29.29" height="2.879" fill="#6da5cd"/>
<rect x="444.43" y="411.11" width="29.29" height="2.879" fill="#4e80ba"/>
<rect x="473.70" y="411.11" width="29.29" height="2.879" fill="#4067ab"/>
<rect x="181.00" y="413.97" width="29.29" height="2.879" fill="#fff6be"/>
<rect x="210.27" y="413.97" width="29.29" height="2.879" fill="#fefccf"/>
<rect x="239.54" y="413.97" width="29.29" height="2.879" fill="#fffac5"/>
<rect x="268.81" y="413.97" width="29.29" height="2.879" fill="#fafbde"/>
<rect x="298.08" y="413.97" width="87.83" height="2.879" fill="#f46d43"/>
<rect x="385.89" y="413.97" width="29.29" height="2.879" fill="#e64e35"/>
<rect x="415.16" y="413.97" width="58.56" height="2.879" fill="#eb5b3b"/>
<rect x="473.70" y="413.97" width="29.29" height="2.879" fill="#e64e35"/>
<rect x="181.00" y="416.83" width="29.29" height="2.879" fill="#fffac7"/>
<rect x="210.27" y="416.83" width="29.29" height="2.879" fill="#f9fbdf"/>
<rect x="239.54" y="416.83" width="29.29" height="2.879" fill="#fffbc8"/>
<rect x="268.81" y="416.83" width="29.29" height="2.879" fill="#fbfbda"/>
<rect x="298.08" y="416.83" width="58.56" height="2.879" fill="#fa9b5a"/>
<rect x="356.62" y="416.83" width="29.29" height="2.879" fill="#fdad63"/>
<rect x="385.89" y="416.83" width="29.29" height="2.879" fill="#f67f4c"/>
<rect x="415.16" y="416.83" width="29.29" height="2.879" fill="#fdb469"/>
<rect x="444.43" y="416.83" width="29.29" height="2.879" fill="#fdad63"/>
<rect x="473.70" y="416.83" width="29.29" height="2.879" fill="#fa9b5a"/>
<rect x="181.00" y="419.69" width="29.29" height="2.879" fill="#fffbc8"/>
<rect x="210.27" y="419.69" width="29.29" height="2.879" fill="#fcfbd7"/>
<rect x="239.54" y="419.69" width="29.29" height="2.879" fill="#feedab"/>
<rect x="268.81" y="419.69" width="29.29" height="2.879" fill="#fefccc"/>
<rect x="298.08" y="419.69" width="117.10" height="2.879" fill="#fed78b"/>
<rect x="415.16" y="419.69" width="29.29" height="2.879" fill="#fee093"/>
<rect x="444.43" y="419.69" width="29.29" height="2.879" fill="#fed78b"/>
<rect x="473.70" y="419.69" width="29.29" height="2.879" fill="#fee093"/>
<rect x="181.00" y="422.55" width="29.29" height="2.879" fill="#fff7c0"/>
<rect x="210.27" y="422.55" width="29.29" height="2.879" fill="#fbfbda"/>
<rect x="239.54" y="422.55" width="29.29" height="2.879" fill="#fdfbd4"/>
<rect x="268.81" y="422.55" width="29.29" height="2.879" fill="#fffccc"/>
<rect x="298.08" y="422.55" width="87.83" height="2.879" fill="#fee89f"/>
<rect x="385.89" y="422.55" width="29.29" height="2.879" fill="#fee397"/>
<rect x="415.16" y="422.55" width="87.83" height="2.879" fill="#fee89f"/>
<rect x="181.00" y="425.41" width="29.29" height="2.879" fill="#fff9c3"/>
<rect x="210.27" y="425.41" width="29.29" height="2.879" fill="#fdfcd1"/>
<rect x="239.54" y="425.41" width="29.29" height="2.879" fill="#fcfbd5"/>
<rect x="268.81" y="425.41" width="29.29" height="2.879" fill="#fafbdf"/>
<rect x="298.08" y="425.41" width="87.83" height="2.879" fill="#fff0b0"/>
<rect x="385.89" y="425.41" width="29.29" height="2.879" fill="#feeca8"/>
<rect x="415.16" y="425.41" width="87.83" height="2.879" fill="#fff0b0"/>
<rect x="181.00" y="428.26" width="29.29" height="2.879" fill="#fff8c1"/>
<rect x="210.27" y="428.26" width="29.29" height="2.879" fill="#fcfbd7"/>
<rect x="239.54" y="428.26" width="29.29" height="2.879" fill="#fcfbd5"/>
<rect x="268.81" y="428.26" width="29.29" height="2.879" fill="#fffccb"/>
<rect x="298.08" y="428.26" width="58.56" height="2.879" fill="#edf7f8"/>
<rect x="356.62" y="428.26" width="29.29" height="2.879" fill="#f1f8f8"/>
<rect x="385.89" y="428.26" width="29.29" height="2.879" fill="#edf7f8"/>
<rect x="415.16" y="428.26" width="87.83" height="2.879" fill="#e0f3f7"/>
<rect x="181.00" y="431.12" width="29.29" height="2.879" fill="#fff8c2"/>
<rect x="210.27" y="431.12" width="29.29" height="2.879" fill="#fefcce"/>
<rect x="239.54" y="431.12" width="29.29" height="2.879" fill="#fcfbd5"/>
<rect x="268.81" y="431.12" width="29.29" height="2.879" fill="#fefccd"/>
<rect x="298.08" y="431.12" width="29.29" height="2.879" fill="#c7e7f1"/>
<rect x="327.35" y="431.12" width="58.56" height="2.879" fill="#d6eef5"/>
<rect x="385.89" y="431.12" width="29.29" height="2.879" fill="#a3d2e5"/>
<rect x="415.16" y="431.12" width="29.29" height="2.879" fill="#aedaea"/>
<rect x="444.43" y="431.12" width="29.29" height="2.879" fill="#bde2ee"/>
<rect x="473.70" y="431.12" width="29.29" height="2.879" fill="#aedaea"/>
<rect x="181.00" y="433.98" width="29.29" height="2.879" fill="#feedab"/>
<rect x="210.27" y="433.98" width="29.29" height="2.879" fill="#fafbdf"/>
<rect x="239.54" y="433.98" width="29.29" height="2.879" fill="#feeba7"/>
<rect x="268.81" y="433.98" width="29.29" height="2.879" fill="#fefccd"/>
<rect x="298.08" y="433.98" width="29.29" height="2.879" fill="#aedaea"/>
<rect x="327.35" y="433.98" width="58.56" height="2.879" fill="#cce9f2"/>
<rect x="385.89" y="433.98" width="29.29" height="2.879" fill="#98cae1"/>
<rect x="415.16" y="433.98" width="29.29" height="2.879" fill="#bde2ee"/>
<rect x="444.43" y="433.98" width="29.29" height="2.879" fill="#92c5de"/>
<rect x="473.70" y="433.98" width="29.29" height="2.879" fill="#a3d2e5"/>
<rect x="181.00" y="436.84" width="29.29" height="2.879" fill="#fff9c4"/>
<rect x="210.27" y="436.84" width="29.29" height="2.879" fill="#f9fbe0"/>
<rect x="239.54" y="436.84" width="29.29" height="2.879" fill="#fefccf"/>
<rect x="268.81" y="436.84" width="29.29" height="2.879" fill="#fcfbd4"/>
<rect x="298.08" y="436.84" width="58.56" height="2.879" fill="#d6eef5"/>
<rect x="356.62" y="436.84" width="29.29" height="2.879" fill="#e0f3f7"/>
<rect x="385.89" y="436.84" width="29.29" height="2.879" fill="#aedaea"/>
<rect x="415.16" y="436.84" width="87.83" height="2.879" fill="#bde2ee"/>
<rect x="181.00" y="439.70" width="29.29" height="2.879" fill="#fff6be"/>
<rect x="210.27" y="439.70" width="29.29" height="2.879" fill="#fbfbda"/>
<rect x="239.54" y="439.70" width="58.56" height="2.879" fill="#fcfbd4"/>
<rect x="298.08" y="439.70" width="87.83" height="2.879" fill="#303c91"/>
<rect x="385.89" y="439.70" width="117.10" height="2.879" fill="#38529e"/>
<rect x="181.00" y="442.56" width="29.29" height="2.879" fill="#fffbc7"/>
<rect x="210.27" y="442.56" width="29.29" height="2.879" fill="#fafbde"/>
<rect x="239.54" y="442.56" width="29.29" height="2.879" fill="#fdfbd3"/>
<rect x="268.81" y="442.56" width="29.29" height="2.879" fill="#feedab"/>
<rect x="298.08" y="442.56" width="58.56" height="2.879" fill="#fa9b5a"/>
<rect x="356.62" y="442.56" width="58.56" height="2.879" fill="#f67f4c"/>
<rect x="415.16" y="442.56" width="29.29" height="2.879" fill="#fa9b5a"/>
<rect x="444.43" y="442.56" width="29.29" height="2.879" fill="#fdad63"/>
<rect x="473.70" y="442.56" width="29.29" height="2.879" fill="#fa9b5a"/>
<rect x="181.00" y="445.42" width="29.29" height="2.879" fill="#fffcc9"/>
<rect x="210.27" y="445.42" width="29.29" height="2.879" fill="#fafbdc"/>
<rect x="239.54" y="445.42" width="29.29" height="2.879" fill="#fdfcd0"/>
<rect x="268.81" y="445.42" width="29.29" height="2.879" fill="#fbfbd9"/>
<rect x="298.08" y="445.42" width="29.29" height="2.879" fill="#f99155"/>
<rect x="327.35" y="445.42" width="87.83" height="2.879" fill="#fa9b5a"/>
<rect x="415.16" y="445.42" width="87.83" height="2.879" fill="#fdad63"/>
<rect x="181.00" y="448.28" width="29.29" height="2.879" fill="#fff7c1"/>
<rect x="210.27" y="448.28" width="29.29" height="2.879" fill="#fbfbda"/>
<rect x="239.54" y="448.28" width="29.29" height="2.879" fill="#fffccc"/>
<rect x="268.81" y="448.28" width="29.29" height="2.879" fill="#feeba7"/>
<rect x="298.08" y="448.28" width="58.56" height="2.879" fill="#fdad63"/>
<rect x="356.62" y="448.28" width="29.29" height="2.879" fill="#f46d43"/>
<rect x="385.89" y="448.28" width="29.29" height="2.879" fill="#fa9b5a"/>
<rect x="415.16" y="448.28" width="58.56" height="2.879" fill="#fdad63"/>
<rect x="473.70" y="448.28" width="29.29" height="2.879" fill="#fdc277"/>
<rect x="181.00" y="451.14" width="29.29" height="2.879" fill="#fffbc8"/>
<rect x="210.27" y="451.14" width="29.29" height="2.879" fill="#fbfbd8"/>
<rect x="239.54" y="451.14" width="29.29" height="2.879" fill="#fcfbd6"/>
<rect x="268.81" y="451.14" width="29.29" height="2.879" fill="#fbfbdb"/>
<rect x="298.08" y="451.14" width="58.56" height="2.879" fill="#fdc277"/>
<rect x="356.62" y="451.14" width="29.29" height="2.879" fill="#fdb469"/>
<rect x="385.89" y="451.14" width="117.10" height="2.879" fill="#fdc277"/>
<rect x="181.00" y="454.00" width="29.29" height="2.879" fill="#fffcca"/>
<rect x="210.27" y="454.00" width="29.29" height="2.879" fill="#fdfcd0"/>
<rect x="239.54" y="454.00" width="29.29" height="2.879" fill="#fffccb"/>
<rect x="268.81" y="454.00" width="29.29" height="2.879" fill="#fafbdc"/>
<rect x="298.08" y="454.00" width="29.29" height="2.879" fill="#fed387"/>
<rect x="327.35" y="454.00" width="117.10" height="2.879" fill="#fed78b"/>
<rect x="444.43" y="454.00" width="29.29" height="2.879" fill="#fdc277"/>
<rect x="473.70" y="454.00" width="29.29" height="2.879" fill="#fed78b"/>
<rect x="181.00" y="456.85" width="29.29" height="2.879" fill="#fff9c4"/>
<rect x="210.27" y="456.85" width="29.29" height="2.879" fill="#fffccb"/>
<rect x="239.54" y="456.85" width="29.29" height="2.879" fill="#fcfbd5"/>
<rect x="268.81" y="456.85" width="29.29" height="2.879" fill="#fefcce"/>
<rect x="298.08" y="456.85" width="29.29" height="2.879" fill="#fed78b"/>
<rect x="327.35" y="456.85" width="58.56" height="2.879" fill="#fee093"/>
<rect x="385.89" y="456.85" width="29.29" height="2.879" fill="#fed78b"/>
<rect x="415.16" y="456.85" width="29.29" height="2.879" fill="#fee093"/>
<rect x="444.43" y="456.85" width="29.29" height="2.879" fill="#fecb7f"/>
<rect x="473.70" y="456.85" width="29.29" height="2.879" fill="#fee093"/>
<rect x="181.00" y="459.71" width="29.29" height="2.879" fill="#fff9c5"/>
<rect x="210.27" y="459.71" width="29.29" height="2.879" fill="#fcfbd5"/>
<rect x="239.54" y="459.71" width="29.29" height="2.879" fill="#fffac7"/>
<rect x="268.81" y="459.71" width="29.29" height="2.879" fill="#fcfbd7"/>
<rect x="298.08" y="459.71" width="87.83" height="2.879" fill="#fee397"/>
<rect x="385.89" y="459.71" width="58.56" height="2.879" fill="#fee89f"/>
<rect x="444.43" y="459.71" width="29.29" height="2.879" fill="#fee397"/>
<rect x="473.70" y="459.71" width="29.29" height="2.879" fill="#fee093"/>
<rect x="181.00" y="462.57" width="29.29" height="2.879" fill="#fff9c4"/>
<rect x="210.27" y="462.57" width="29.29" height="2.879" fill="#fdfcd1"/>
<rect x="239.54" y="462.57" width="29.29" height="2.879" fill="#fffac5"/>
<rect x="268.81" y="462.57" width="29.29" height="2.879" fill="#fbfbd9"/>
<rect x="298.08" y="462.57" width="87.83" height="2.879" fill="#fee89f"/>
<rect x="385.89" y="462.57" width="29.29" height="2.879" fill="#feeca8"/>
<rect x="415.16" y="462.57" width="87.83" height="2.879" fill="#fee89f"/>
<rect x="181.00" y="465.43" width="29.29" height="2.879" fill="#fff7c0"/>
<rect x="210.27" y="465.43" width="29.29" height="2.879" fill="#fdfcd0"/>
<rect x="239.54" y="465.43" width="29.29" height="2.879" fill="#fffcc9"/>
<rect x="268.81" y="465.43" width="29.29" height="2.879" fill="#fcfbd7"/>
<rect x="298.08" y="465.43" width="58.56" height="2.879" fill="#fee89f"/>
<rect x="356.62" y="465.43" width="146.37" height="2.879" fill="#feeca8"/>
<rect x="181.00" y="468.29" width="29.29" height="2.879" fill="#fffac6"/>
<rect x="210.27" y="468.29" width="29.29" height="2.879" fill="#fafbdf"/>
<rect x="239.54" y="468.29" width="29.29" height="2.879" fill="#fcfbd4"/>
<rect x="268.81" y="468.29" width="29.29" height="2.879" fill="#fafbdf"/>
<rect x="298.08" y="468.29" width="87.83" height="2.879" fill="#feeca8"/>
<rect x="385.89" y="468.29" width="29.29" height="2.879" fill="#fff0b0"/>
<rect x="415.16" y="468.29" width="29.29" height="2.879" fill="#fff2b5"/>
<rect x="444.43" y="468.29" width="29.29" height="2.879" fill="#fff0b0"/>
<rect x="473.70" y="468.29" width="29.29" height="2.879" fill="#fff2b5"/>
<rect x="181.00" y="471.15" width="29.29" height="2.879" fill="#fff8c1"/>
<rect x="210.27" y="471.15" width="29.29" height="2.879" fill="#fbfbda"/>
<rect x="239.54" y="471.15" width="29.29" height="2.879" fill="#fdfbd3"/>
<rect x="268.81" y="471.15" width="29.29" height="2.879" fill="#fafbde"/>
<rect x="298.08" y="471.15" width="58.56" height="2.879" fill="#e0f3f7"/>
<rect x="356.62" y="471.15" width="29.29" height="2.879" fill="#e4f4f7"/>
<rect x="385.89" y="471.15" width="29.29" height="2.879" fill="#e0f3f7"/>
<rect x="415.16" y="471.15" width="29.29" height="2.879" fill="#d6eef5"/>
<rect x="444.43" y="471.15" width="58.56" height="2.879" fill="#edf7f8"/>
<rect x="181.00" y="474.01" width="29.29" height="2.879" fill="#fff7c0"/>
<rect x="210.27" y="474.01" width="29.29" height="2.879" fill="#fefccd"/>
<rect x="239.54" y="474.01" width="29.29" height="2.879" fill="#fffbc9"/>
<rect x="268.81" y="474.01" width="29.29" height="2.879" fill="#fbfbda"/>
<rect x="298.08" y="474.01" width="29.29" height="2.879" fill="#bde2ee"/>
<rect x="327.35" y="474.01" width="29.29" height="2.879" fill="#c7e7f1"/>
<rect x="356.62" y="474.01" width="29.29" height="2.879" fill="#d1ecf4"/>
<rect x="385.89" y="474.01" width="29.29" height="2.879" fill="#cce9f2"/>
<rect x="415.16" y="474.01" width="29.29" height="2.879" fill="#c7e7f1"/>
<rect x="444.43" y="474.01" width="58.56" height="2.879" fill="#d6eef5"/>
<rect x="181.00" y="476.87" width="29.29" height="2.879" fill="#fffbc7"/>
<rect x="210.27" y="476.87" width="29.29" height="2.879" fill="#fbfbda"/>
<rect x="239.54" y="476.87" width="29.29" height="2.879" fill="#fefccd"/>
<rect x="268.81" y="476.87" width="29.29" height="2.879" fill="#fafbdd"/>
<rect x="298.08" y="476.87" width="29.29" height="2.879" fill="#aedaea"/>
<rect x="327.35" y="476.87" width="29.29" height="2.879" fill="#bde2ee"/>
<rect x="356.62" y="476.87" width="29.29" height="2.879" fill="#b8dfec"/>
<rect x="385.89" y="476.87" width="58.56" height="2.879" fill="#bde2ee"/>
<rect x="444.43" y="476.87" width="29.29" height="2.879" fill="#cce9f2"/>
<rect x="473.70" y="476.87" width="29.29" height="2.879" fill="#d6eef5"/>
<rect x="181.00" y="479.73" width="29.29" height="2.879" fill="#fff9c4"/>
<rect x="210.27" y="479.73" width="29.29" height="2.879" fill="#fbfbda"/>
<rect x="239.54" y="479.73" width="29.29" height="2.879" fill="#fffac5"/>
<rect x="268.81" y="479.73" width="29.29" height="2.879" fill="#fffccb"/>
<rect x="298.08" y="479.73" width="29.29" height="2.879" fill="#a8d7e8"/>
<rect x="327.35" y="479.73" width="29.29" height="2.879" fill="#b8dfec"/>
<rect x="356.62" y="479.73" width="29.29" height="2.879" fill="#aedaea"/>
<rect x="385.89" y="479.73" width="29.29" height="2.879" fill="#c7e7f1"/>
<rect x="415.16" y="479.73" width="29.29" height="2.879" fill="#bde2ee"/>
<rect x="444.43" y="479.73" width="29.29" height="2.879" fill="#c7e7f1"/>
<rect x="473.70" y="479.73" width="29.29" height="2.879" fill="#bde2ee"/>
<rect x="181.00" y="482.59" width="29.29" height="2.879" fill="#fff9c3"/>
<rect x="210.27" y="482.59" width="29.29" height="2.879" fill="#fbfbdb"/>
<rect x="239.54" y="482.59" width="29.29" height="2.879" fill="#fffac5"/>
<rect x="268.81" y="482.59" width="29.29" height="2.879" fill="#fbfbd9"/>
<rect x="298.08" y="482.59" width="29.29" height="2.879" fill="#aedaea"/>
<rect x="327.35" y="482.59" width="58.56" height="2.879" fill="#b8dfec"/>
<rect x="385.89" y="482.59" width="58.56" height="2.879" fill="#bde2ee"/>
<rect x="444.43" y="482.59" width="29.29" height="2.879" fill="#b8dfec"/>
<rect x="473.70" y="482.59" width="29.29" height="2.879" fill="#d1ecf4"/>
<rect x="181.00" y="485.44" width="29.29" height="2.879" fill="#fffac6"/>
<rect x="210.27" y="485.44" width="29.29" height="2.879" fill="#f9fbe0"/>
<rect x="239.54" y="485.44" width="29.29" height="2.879" fill="#fefcce"/>
<rect x="268.81" y="485.44" width="29.29" height="2.879" fill="#fcfbd6"/>
<rect x="298.08" y="485.44" width="87.83" height="2.879" fill="#edf7f8"/>
<rect x="385.89" y="485.44" width="58.56" height="2.879" fill="#a3d2e5"/>
<rect x="444.43" y="485.44" width="29.29" height="2.879" fill="#6da5cd"/>
<rect x="473.70" y="485.44" width="29.29" height="2.879" fill="#669cc8"/>
<rect x="181.00" y="488.30" width="29.29" height="2.879" fill="#fff9c4"/>
<rect x="210.27" y="488.30" width="29.29" height="2.879" fill="#fafbdc"/>
<rect x="239.54" y="488.30" width="29.29" height="2.879" fill="#fffccc"/>
<rect x="268.81" y="488.30" width="29.29" height="2.879" fill="#f9fbe0"/>
<rect x="298.08" y="488.30" width="87.83" height="2.879" fill="#38529e"/>
<rect x="385.89" y="488.30" width="29.29" height="2.879" fill="#4067ab"/>
<rect x="415.16" y="488.30" width="29.29" height="2.879" fill="#4575b4"/>
<rect x="444.43" y="488.30" width="29.29" height="2.879" fill="#8dc1dc"/>
<rect x="473.70" y="488.30" width="29.29" height="2.879" fill="#87bcd9"/>
<rect x="181.00" y="491.16" width="29.29" height="2.879" fill="#fffac7"/>
<rect x="210.27" y="491.16" width="29.29" height="2.879" fill="#fafbde"/>
<rect x="239.54" y="491.16" width="29.29" height="2.879" fill="#fefcce"/>
<rect x="268.81" y="491.16" width="29.29" height="2.879" fill="#f9fbdf"/>
<rect x="298.08" y="491.16" width="87.83" height="2.879" fill="#fed78b"/>
<rect x="385.89" y="491.16" width="29.29" height="2.879" fill="#fee093"/>
<rect x="415.16" y="491.16" width="29.29" height="2.879" fill="#fecb7f"/>
<rect x="444.43" y="491.16" width="29.29" height="2.879" fill="#fed78b"/>
<rect x="473.70" y="491.16" width="29.29" height="2.879" fill="#fdad63"/>
<rect x="181.00" y="494.02" width="29.29" height="2.879" fill="#fffcca"/>
<rect x="210.27" y="494.02" width="29.29" height="2.879" fill="#fbfbd9"/>
<rect x="239.54" y="494.02" width="29.29" height="2.879" fill="#fdfbd2"/>
<rect x="268.81" y="494.02" width="29.29" height="2.879" fill="#fdfbd3"/>
<rect x="298.08" y="494.02" width="29.29" height="2.879" fill="#fdc277"/>
<rect x="327.35" y="494.02" width="146.37" height="2.879" fill="#fecb7f"/>
<rect x="473.70" y="494.02" width="29.29" height="2.879" fill="#fdad63"/>
<rect x="181.00" y="496.88" width="29.29" height="2.879" fill="#fff9c3"/>
<rect x="210.27" y="496.88" width="29.29" height="2.879" fill="#fefcd0"/>
<rect x="239.54" y="496.88" width="29.29" height="2.879" fill="#fffcc9"/>
<rect x="268.81" y="496.88" width="29.29" height="2.879" fill="#fdfcd0"/>
<rect x="298.08" y="496.88" width="117.10" height="2.879" fill="#fee093"/>
<rect x="415.16" y="496.88" width="87.83" height="2.879" fill="#fed78b"/>
<rect x="181.00" y="499.74" width="29.29" height="2.879" fill="#fff7bf"/>
<rect x="210.27" y="499.74" width="29.29" height="2.879" fill="#fbfbd7"/>
<rect x="239.54" y="499.74" width="29.29" height="2.879" fill="#fefcd0"/>
<rect x="268.81" y="499.74" width="29.29" height="2.879" fill="#fffcca"/>
<rect x="298.08" y="499.74" width="87.83" height="2.879" fill="#feeca8"/>
<rect x="385.89" y="499.74" width="117.10" height="2.879" fill="#fee89f"/>
<rect x="181.00" y="502.60" width="29.29" height="2.879" fill="#fffbc8"/>
<rect x="210.27" y="502.60" width="29.29" height="2.879" fill="#fdfcd0"/>
<rect x="239.54" y="502.60" width="29.29" height="2.879" fill="#fffcc9"/>
<rect x="268.81" y="502.60" width="29.29" height="2.879" fill="#f9fbdf"/>
<rect x="298.08" y="502.60" width="87.83" height="2.879" fill="#f4f9f3"/>
<rect x="385.89" y="502.60" width="87.83" height="2.879" fill="#edf7f8"/>
<rect x="473.70" y="502.60" width="29.29" height="2.879" fill="#f4f9f3"/>
<rect x="181.00" y="505.46" width="29.29" height="2.879" fill="#fff7c0"/>
<rect x="210.27" y="505.46" width="29.29" height="2.879" fill="#fefccc"/>
<rect x="239.54" y="505.46" width="29.29" height="2.879" fill="#fffcc9"/>
<rect x="268.81" y="505.46" width="29.29" height="2.879" fill="#fdfcd0"/>
<rect x="298.08" y="505.46" width="29.29" height="2.879" fill="#e8f6f8"/>
<rect x="327.35" y="505.46" width="58.56" height="2.879" fill="#edf7f8"/>
<rect x="385.89" y="505.46" width="87.83" height="2.879" fill="#e8f6f8"/>
<rect x="473.70" y="505.46" width="29.29" height="2.879" fill="#edf7f8"/>
<rect x="181.00" y="508.32" width="29.29" height="2.879" fill="#fff7c0"/>
<rect x="210.27" y="508.32" width="29.29" height="2.879" fill="#fafbdd"/>
<rect x="239.54" y="508.32" width="29.29" height="2.879" fill="#fffccb"/>
<rect x="268.81" y="508.32" width="29.29" height="2.879" fill="#feeba7"/>
<rect x="298.08" y="508.32" width="29.29" height="2.879" fill="#e0f3f7"/>
<rect x="327.35" y="508.32" width="29.29" height="2.879" fill="#d6eef5"/>
<rect x="356.62" y="508.32" width="29.29" height="2.879" fill="#e8f6f8"/>
<rect x="385.89" y="508.32" width="58.56" height="2.879" fill="#e0f3f7"/>
<rect x="444.43" y="508.32" width="29.29" height="2.879" fill="#e8f6f8"/>
<rect x="473.70" y="508.32" width="29.29" height="2.879" fill="#edf7f8"/>
<rect x="181.00" y="511.18" width="29.29" height="2.879" fill="#feeba7"/>
<rect x="210.27" y="511.18" width="29.29" height="2.879" fill="#fcfbd5"/>
<rect x="239.54" y="511.18" width="29.29" height="2.879" fill="#fffac7"/>
<rect x="268.81" y="511.18" width="29.29" height="2.879" fill="#fefcce"/>
<rect x="298.08" y="511.18" width="29.29" height="2.879" fill="#e0f3f7"/>
<rect x="327.35" y="511.18" width="29.29" height="2.879" fill="#bde2ee"/>
<rect x="356.62" y="511.18" width="58.56" height="2.879" fill="#e0f3f7"/>
<rect x="415.16" y="511.18" width="29.29" height="2.879" fill="#e8f6f8"/>
<rect x="444.43" y="511.18" width="58.56" height="2.879" fill="#e0f3f7"/>
<rect x="181.00" y="514.03" width="29.29" height="2.879" fill="#fff7c0"/>
<rect x="210.27" y="514.03" width="29.29" height="2.879" fill="#fdfbd3"/>
<rect x="239.54" y="514.03" width="29.29" height="2.879" fill="#fffac6"/>
<rect x="268.81" y="514.03" width="29.29" height="2.879" fill="#fdfcd1"/>
<rect x="298.08" y="514.03" width="29.29" height="2.879" fill="#e0f3f7"/>
<rect x="327.35" y="514.03" width="29.29" height="2.879" fill="#e8f6f8"/>
<rect x="356.62" y="514.03" width="58.56" height="2.879" fill="#e0f3f7"/>
<rect x="415.16" y="514.03" width="29.29" height="2.879" fill="#edf7f8"/>
<rect x="444.43" y="514.03" width="29.29" height="2.879" fill="#e0f3f7"/>
<rect x="473.70" y="514.03" width="29.29" height="2.879" fill="#e8f6f8"/>
<rect x="181.00" y="516.89" width="29.29" height="2.879" fill="#fff8c1"/>
<rect x="210.27" y="516.89" width="29.29" height="2.879" fill="#fbfbdb"/>
<rect x="239.54" y="516.89" width="29.29" height="2.879" fill="#fcfbd6"/>
<rect x="268.81" y="516.89" width="29.29" height="2.879" fill="#f9fbe0"/>
<rect x="298.08" y="516.89" width="29.29" height="2.879" fill="#e0f3f7"/>
<rect x="327.35" y="516.89" width="29.29" height="2.879" fill="#e8f6f8"/>
<rect x="356.62" y="516.89" width="29.29" height="2.879" fill="#e0f3f7"/>
<rect x="385.89" y="516.89" width="29.29" height="2.879" fill="#d6eef5"/>
<rect x="415.16" y="516.89" width="29.29" height="2.879" fill="#e8f6f8"/>
<rect x="444.43" y="516.89" width="29.29" height="2.879" fill="#e0f3f7"/>
<rect x="473.70" y="516.89" width="29.29" height="2.879" fill="#e8f6f8"/>
<rect x="181.00" y="519.75" width="29.29" height="2.879" fill="#fee9a3"/>
<rect x="210.27" y="519.75" width="29.29" height="2.879" fill="#fafbdd"/>
<rect x="239.54" y="519.75" width="29.29" height="2.879" fill="#fefccf"/>
<rect x="268.81" y="519.75" width="29.29" height="2.879" fill="#fafbde"/>
<rect x="298.08" y="519.75" width="29.29" height="2.879" fill="#d6eef5"/>
<rect x="327.35" y="519.75" width="58.56" height="2.879" fill="#e0f3f7"/>
<rect x="385.89" y="519.75" width="29.29" height="2.879" fill="#cce9f2"/>
<rect x="415.16" y="519.75" width="58.56" height="2.879" fill="#d6eef5"/>
<rect x="473.70" y="519.75" width="29.29" height="2.879" fill="#e0f3f7"/>
<rect x="181.00" y="522.61" width="29.29" height="2.879" fill="#fff7c0"/>
<rect x="210.27" y="522.61" width="29.29" height="2.879" fill="#fcfbd4"/>
<rect x="239.54" y="522.61" width="29.29" height="2.879" fill="#fffcc9"/>
<rect x="268.81" y="522.61" width="29.29" height="2.879" fill="#fdfbd2"/>
<rect x="298.08" y="522.61" width="58.56" height="2.879" fill="#d6eef5"/>
<rect x="356.62" y="522.61" width="29.29" height="2.879" fill="#e0f3f7"/>
<rect x="385.89" y="522.61" width="29.29" height="2.879" fill="#c7e7f1"/>
<rect x="415.16" y="522.61" width="29.29" height="2.879" fill="#cce9f2"/>
<rect x="444.43" y="522.61" width="29.29" height="2.879" fill="#d6eef5"/>
<rect x="473.70" y="522.61" width="29.29" height="2.879" fill="#cce9f2"/>
<rect x="181.00" y="525.47" width="29.29" height="2.879" fill="#fff8c2"/>
<rect x="210.27" y="525.47" width="29.29" height="2.879" fill="#fcfbd5"/>
<rect x="239.54" y="525.47" width="29.29" height="2.879" fill="#fcfbd7"/>
<rect x="268.81" y="525.47" width="29.29" height="2.879" fill="#fefcce"/>
<rect x="298.08" y="525.47" width="29.29" height="2.879" fill="#c7e7f1"/>
<rect x="327.35" y="525.47" width="29.29" height="2.879" fill="#aedaea"/>
<rect x="356.62" y="525.47" width="29.29" height="2.879" fill="#d6eef5"/>
<rect x="385.89" y="525.47" width="29.29" height="2.879" fill="#bde2ee"/>
<rect x="415.16" y="525.47" width="87.83" height="2.879" fill="#c7e7f1"/>
<rect x="181.00" y="528.33" width="29.29" height="2.879" fill="#fff8c1"/>
<rect x="210.27" y="528.33" width="29.29" height="2.879" fill="#fcfbd5"/>
<rect x="239.54" y="528.33" width="29.29" height="2.879" fill="#fffccb"/>
<rect x="268.81" y="528.33" width="29.29" height="2.879" fill="#fdfcd2"/>
<rect x="298.08" y="528.33" width="29.29" height="2.879" fill="#cce9f2"/>
<rect x="327.35" y="528.33" width="29.29" height="2.879" fill="#d6eef5"/>
<rect x="356.62" y="528.33" width="29.29" height="2.879" fill="#e0f3f7"/>
<rect x="385.89" y="528.33" width="29.29" height="2.879" fill="#a3d2e5"/>
<rect x="415.16" y="528.33" width="29.29" height="2.879" fill="#bde2ee"/>
<rect x="444.43" y="528.33" width="29.29" height="2.879" fill="#a3d2e5"/>
<rect x="473.70" y="528.33" width="29.29" height="2.879" fill="#bde2ee"/>
<rect x="181.00" y="531.19" width="29.29" height="2.879" fill="#fffcc9"/>
<rect x="210.27" y="531.19" width="29.29" height="2.879" fill="#fdfcd0"/>
<rect x="239.54" y="531.19" width="29.29" height="2.879" fill="#fdfcd1"/>
<rect x="268.81" y="531.19" width="29.29" height="2.879" fill="#fafbde"/>
<rect x="298.08" y="531.19" width="29.29" height="2.879" fill="#d6eef5"/>
<rect x="327.35" y="531.19" width="29.29" height="2.879" fill="#e8f6f8"/>
<rect x="356.62" y="531.19" width="29.29" height="2.879" fill="#e0f3f7"/>
<rect x="385.89" y="531.19" width="29.29" height="2.879" fill="#6da5cd"/>
<rect x="415.16" y="531.19" width="29.29" height="2.879" fill="#a3d2e5"/>
<rect x="444.43" y="531.19" width="29.29" height="2.879" fill="#aedaea"/>
<rect x="473.70" y="531.19" width="29.29" height="2.879" fill="#a3d2e5"/>
<rect x="181.00" y="534.05" width="29.29" height="2.879" fill="#fedd90"/>
<rect x="210.27" y="534.05" width="29.29" height="2.879" fill="#fbfbda"/>
<rect x="239.54" y="534.05" width="29.29" height="2.879" fill="#fffbc8"/>
<rect x="268.81" y="534.05" width="29.29" height="2.879" fill="#f7fae7"/>
<rect x="298.08" y="534.05" width="87.83" height="2.879" fill="#669cc8"/>
<rect x="385.89" y="534.05" width="29.29" height="2.879" fill="#5c91c2"/>
<rect x="415.16" y="534.05" width="29.29" height="2.879" fill="#a3d2e5"/>
<rect x="444.43" y="534.05" width="58.56" height="2.879" fill="#bde2ee"/>
<rect x="181.00" y="536.91" width="29.29" height="2.879" fill="#fffbc7"/>
<rect x="210.27" y="536.91" width="29.29" height="2.879" fill="#fefcd0"/>
<rect x="239.54" y="536.91" width="29.29" height="2.879" fill="#f9fbe0"/>
<rect x="268.81" y="536.91" width="29.29" height="2.879" fill="#fffccb"/>
<rect x="298.08" y="536.91" width="87.83" height="2.879" fill="#f46d43"/>
<rect x="385.89" y="536.91" width="58.56" height="2.879" fill="#dd3c2d"/>
<rect x="444.43" y="536.91" width="58.56" height="2.879" fill="#be1826"/>
<rect x="181.00" y="539.76" width="29.29" height="2.879" fill="#fff9c4"/>
<rect x="210.27" y="539.76" width="29.29" height="2.879" fill="#fbfbd8"/>
<rect x="239.54" y="539.76" width="29.29" height="2.879" fill="#fefccc"/>
<rect x="268.81" y="539.76" width="29.29" height="2.879" fill="#fdfcd1"/>
<rect x="298.08" y="539.76" width="29.29" height="2.879" fill="#fa9b5a"/>
<rect x="327.35" y="539.76" width="58.56" height="2.879" fill="#f67f4c"/>
<rect x="385.89" y="539.76" width="29.29" height="2.879" fill="#e64e35"/>
<rect x="415.16" y="539.76" width="29.29" height="2.879" fill="#dd3c2d"/>
<rect x="444.43" y="539.76" width="29.29" height="2.879" fill="#f46d43"/>
<rect x="473.70" y="539.76" width="29.29" height="2.879" fill="#f67f4c"/>
<rect x="181.00" y="542.62" width="29.29" height="2.879" fill="#feeba7"/>
<rect x="210.27" y="542.62" width="29.29" height="2.879" fill="#f7fae7"/>
<rect x="239.54" y="542.62" width="29.29" height="2.879" fill="#fffbc8"/>
<rect x="268.81" y="542.62" width="29.29" height="2.879" fill="#fdfbd2"/>
<rect x="298.08" y="542.62" width="29.29" height="2.879" fill="#fdad63"/>
<rect x="327.35" y="542.62" width="29.29" height="2.879" fill="#dd3c2d"/>
<rect x="356.62" y="542.62" width="29.29" height="2.879" fill="#fa9b5a"/>
<rect x="385.89" y="542.62" width="29.29" height="2.879" fill="#f46d43"/>
<rect x="415.16" y="542.62" width="29.29" height="2.879" fill="#dd3c2d"/>
<rect x="444.43" y="542.62" width="58.56" height="2.879" fill="#fa9b5a"/>
<rect x="181.00" y="545.48" width="29.29" height="2.879" fill="#fff8c2"/>
<rect x="210.27" y="545.48" width="29.29" height="2.879" fill="#f7fae7"/>
<rect x="239.54" y="545.48" width="29.29" height="2.879" fill="#fcfbd5"/>
<rect x="268.81" y="545.48" width="29.29" height="2.879" fill="#fafbdd"/>
<rect x="298.08" y="545.48" width="87.83" height="2.879" fill="#fdc277"/>
<rect x="385.89" y="545.48" width="29.29" height="2.879" fill="#fdad63"/>
<rect x="415.16" y="545.48" width="29.29" height="2.879" fill="#fa9b5a"/>
<rect x="444.43" y="545.48" width="58.56" height="2.879" fill="#fdad63"/>
<rect x="181.00" y="548.34" width="29.29" height="2.879" fill="#fffac7"/>
<rect x="210.27" y="548.34" width="29.29" height="2.879" fill="#fefcd0"/>
<rect x="239.54" y="548.34" width="29.29" height="2.879" fill="#fdfcd0"/>
<rect x="268.81" y="548.34" width="29.29" height="2.879" fill="#fdfbd4"/>
<rect x="298.08" y="548.34" width="117.10" height="2.879" fill="#fecb7f"/>
<rect x="415.16" y="548.34" width="58.56" height="2.879" fill="#fdad63"/>
<rect x="473.70" y="548.34" width="29.29" height="2.879" fill="#f67f4c"/>
<rect x="181.00" y="551.20" width="29.29" height="2.879" fill="#fffcca"/>
<rect x="210.27" y="551.20" width="29.29" height="2.879" fill="#fafbdf"/>
<rect x="239.54" y="551.20" width="29.29" height="2.879" fill="#f9fbe0"/>
<rect x="268.81" y="551.20" width="29.29" height="2.879" fill="#fbfbda"/>
<rect x="298.08" y="551.20" width="29.29" height="2.879" fill="#fecb7f"/>
<rect x="327.35" y="551.20" width="58.56" height="2.879" fill="#fed78b"/>
<rect x="385.89" y="551.20" width="87.83" height="2.879" fill="#fdc277"/>
<rect x="473.70" y="551.20" width="29.29" height="2.879" fill="#fa9b5a"/>
<rect x="181.00" y="554.06" width="29.29" height="2.879" fill="#fff8c2"/>
<rect x="210.27" y="554.06" width="29.29" height="2.879" fill="#fdfcd1"/>
<rect x="239.54" y="554.06" width="29.29" height="2.879" fill="#fffbc9"/>
<rect x="268.81" y="554.06" width="29.29" height="2.879" fill="#fbfbda"/>
<rect x="298.08" y="554.06" width="29.29" height="2.879" fill="#fdad63"/>
<rect x="327.35" y="554.06" width="58.56" height="2.879" fill="#fed387"/>
<rect x="385.89" y="554.06" width="29.29" height="2.879" fill="#fdad63"/>
<rect x="415.16" y="554.06" width="29.29" height="2.879" fill="#fdc277"/>
<rect x="444.43" y="554.06" width="29.29" height="2.879" fill="#fecb7f"/>
<rect x="473.70" y="554.06" width="29.29" height="2.879" fill="#fdc277"/>
<rect x="181.00" y="556.92" width="29.29" height="2.879" fill="#fff9c4"/>
<rect x="210.27" y="556.92" width="29.29" height="2.879" fill="#fcfbd6"/>
<rect x="239.54" y="556.92" width="29.29" height="2.879" fill="#fefccd"/>
<rect x="268.81" y="556.92" width="29.29" height="2.879" fill="#fafbdd"/>
<rect x="298.08" y="556.92" width="87.83" height="2.879" fill="#fed78b"/>
<rect x="385.89" y="556.92" width="29.29" height="2.879" fill="#fdad63"/>
<rect x="415.16" y="556.92" width="29.29" height="2.879" fill="#fdc277"/>
<rect x="444.43" y="556.92" width="58.56" height="2.879" fill="#fecb7f"/>
<rect x="181.00" y="559.78" width="29.29" height="2.879" fill="#fff7bf"/>
<rect x="210.27" y="559.78" width="29.29" height="2.879" fill="#fafbdc"/>
<rect x="239.54" y="559.78" width="29.29" height="2.879" fill="#fffac5"/>
<rect x="268.81" y="559.78" width="29.29" height="2.879" fill="#fffccb"/>
<rect x="298.08" y="559.78" width="117.10" height="2.879" fill="#fed78b"/>
<rect x="415.16" y="559.78" width="29.29" height="2.879" fill="#fed387"/>
<rect x="444.43" y="559.78" width="58.56" height="2.879" fill="#fed78b"/>
<rect x="181.00" y="562.64" width="29.29" height="2.879" fill="#fffcca"/>
<rect x="210.27" y="562.64" width="29.29" height="2.879" fill="#fcfbd6"/>
<rect x="239.54" y="562.64" width="29.29" height="2.879" fill="#fffbc7"/>
<rect x="268.81" y="562.64" width="29.29" height="2.879" fill="#fffccb"/>
<rect x="298.08" y="562.64" width="29.29" height="2.879" fill="#fecb7f"/>
<rect x="327.35" y="562.64" width="58.56" height="2.879" fill="#fee093"/>
<rect x="385.89" y="562.64" width="117.10" height="2.879" fill="#fed78b"/>
<rect x="181.00" y="565.50" width="29.29" height="2.879" fill="#fff9c4"/>
<rect x="210.27" y="565.50" width="29.29" height="2.879" fill="#fbfbda"/>
<rect x="239.54" y="565.50" width="29.29" height="2.879" fill="#fdfbd2"/>
<rect x="268.81" y="565.50" width="29.29" height="2.879" fill="#fffccb"/>
<rect x="298.08" y="565.50" width="29.29" height="2.879" fill="#fee093"/>
<rect x="327.35" y="565.50" width="58.56" height="2.879" fill="#fee89f"/>
<rect x="385.89" y="565.50" width="117.10" height="2.879" fill="#fee093"/>
<rect x="181.00" y="568.36" width="29.29" height="2.879" fill="#fffbc7"/>
<rect x="210.27" y="568.36" width="29.29" height="2.879" fill="#fdfbd3"/>
<rect x="239.54" y="568.36" width="29.29" height="2.879" fill="#fcfbd4"/>
<rect x="268.81" y="568.36" width="29.29" height="2.879" fill="#fcfbd5"/>
<rect x="298.08" y="568.36" width="29.29" height="2.879" fill="#fed78b"/>
<rect x="327.35" y="568.36" width="146.37" height="2.879" fill="#fee093"/>
<rect x="473.70" y="568.36" width="29.29" height="2.879" fill="#fdc277"/>
<rect x="181.00" y="571.21" width="29.29" height="2.879" fill="#fff6be"/>
<rect x="210.27" y="571.21" width="29.29" height="2.879" fill="#fafbdd"/>
<rect x="239.54" y="571.21" width="29.29" height="2.879" fill="#fffbc7"/>
<rect x="268.81" y="571.21" width="29.29" height="2.879" fill="#fcfbd5"/>
<rect x="298.08" y="571.21" width="58.56" height="2.879" fill="#fed78b"/>
<rect x="356.62" y="571.21" width="58.56" height="2.879" fill="#fee397"/>
<rect x="415.16" y="571.21" width="29.29" height="2.879" fill="#fed78b"/>
<rect x="444.43" y="571.21" width="29.29" height="2.879" fill="#fee397"/>
<rect x="473.70" y="571.21" width="29.29" height="2.879" fill="#fee093"/>
<rect x="181.00" y="574.07" width="29.29" height="2.879" fill="#fff7bf"/>
<rect x="210.27" y="574.07" width="29.29" height="2.879" fill="#fdfcd1"/>
<rect x="239.54" y="574.07" width="29.29" height="2.879" fill="#fdfbd2"/>
<rect x="268.81" y="574.07" width="29.29" height="2.879" fill="#fefccc"/>
<rect x="298.08" y="574.07" width="58.56" height="2.879" fill="#fee397"/>
<rect x="356.62" y="574.07" width="58.56" height="2.879" fill="#fee89f"/>
<rect x="415.16" y="574.07" width="29.29" height="2.879" fill="#fee093"/>
<rect x="444.43" y="574.07" width="29.29" height="2.879" fill="#fed78b"/>
<rect x="473.70" y="574.07" width="29.29" height="2.879" fill="#fee397"/>
<rect x="181.00" y="576.93" width="29.29" height="2.879" fill="#fff9c4"/>
<rect x="210.27" y="576.93" width="29.29" height="2.879" fill="#f9fbe0"/>
<rect x="239.54" y="576.93" width="29.29" height="2.879" fill="#fcfbd7"/>
<rect x="268.81" y="576.93" width="29.29" height="2.879" fill="#fcfbd5"/>
<rect x="298.08" y="576.93" width="58.56" height="2.879" fill="#fee093"/>
<rect x="356.62" y="576.93" width="29.29" height="2.879" fill="#fee89f"/>
<rect x="385.89" y="576.93" width="58.56" height="2.879" fill="#fee397"/>
<rect x="444.43" y="576.93" width="29.29" height="2.879" fill="#fee093"/>
<rect x="473.70" y="576.93" width="29.29" height="2.879" fill="#fee397"/>
<rect x="181.00" y="579.79" width="29.29" height="2.879" fill="#fff9c4"/>
<rect x="210.27" y="579.79" width="29.29" height="2.879" fill="#fbfbd9"/>
<rect x="239.54" y="579.79" width="29.29" height="2.879" fill="#fcfbd4"/>
<rect x="268.81" y="579.79" width="29.29" height="2.879" fill="#fbfbd8"/>
<rect x="298.08" y="579.79" width="87.83" height="2.879" fill="#fee89f"/>
<rect x="385.89" y="579.79" width="117.10" height="2.879" fill="#fee397"/>
<rect x="181.00" y="582.65" width="29.29" height="2.879" fill="#fffac6"/>
<rect x="210.27" y="582.65" width="29.29" height="2.879" fill="#fefcce"/>
<rect x="239.54" y="582.65" width="29.29" height="2.879" fill="#fcfbd7"/>
<rect x="268.81" y="582.65" width="29.29" height="2.879" fill="#fefcd0"/>
<rect x="298.08" y="582.65" width="29.29" height="2.879" fill="#fee397"/>
<rect x="327.35" y="582.65" width="29.29" height="2.879" fill="#fee89f"/>
<rect x="356.62" y="582.65" width="29.29" height="2.879" fill="#feeca8"/>
<rect x="385.89" y="582.65" width="117.10" height="2.879" fill="#fee89f"/>
<rect x="181.00" y="585.51" width="29.29" height="2.879" fill="#fff7c0"/>
<rect x="210.27" y="585.51" width="29.29" height="2.879" fill="#fafbdd"/>
<rect x="239.54" y="585.51" width="29.29" height="2.879" fill="#fffac6"/>
<rect x="268.81" y="585.51" width="29.29" height="2.879" fill="#fdfcd0"/>
<rect x="298.08" y="585.51" width="29.29" height="2.879" fill="#fee89f"/>
<rect x="327.35" y="585.51" width="58.56" height="2.879" fill="#feeca8"/>
<rect x="385.89" y="585.51" width="29.29" height="2.879" fill="#fee89f"/>
<rect x="415.16" y="585.51" width="29.29" height="2.879" fill="#fee397"/>
<rect x="444.43" y="585.51" width="58.56" height="2.879" fill="#fee89f"/>
<rect x="181.00" y="588.37" width="29.29" height="2.879" fill="#fff7bf"/>
<rect x="210.27" y="588.37" width="29.29" height="2.879" fill="#fbfbda"/>
<rect x="239.54" y="588.37" width="29.29" height="2.879" fill="#fefccf"/>
<rect x="268.81" y="588.37" width="29.29" height="2.879" fill="#fcfbd7"/>
<rect x="298.08" y="588.37" width="117.10" height="2.879" fill="#feeca8"/>
<rect x="415.16" y="588.37" width="29.29" height="2.879" fill="#fee397"/>
<rect x="444.43" y="588.37" width="58.56" height="2.879" fill="#fee89f"/>
<rect x="181.00" y="591.23" width="29.29" height="2.879" fill="#fff6be"/>
<rect x="210.27" y="591.23" width="29.29" height="2.879" fill="#fdfbd3"/>
<rect x="239.54" y="591.23" width="29.29" height="2.879" fill="#fefccf"/>
<rect x="268.81" y="591.23" width="29.29" height="2.879" fill="#fcfbd7"/>
<rect x="298.08" y="591.23" width="58.56" height="2.879" fill="#feeca8"/>
<rect x="356.62" y="591.23" width="29.29" height="2.879" fill="#fff0b0"/>
<rect x="385.89" y="591.23" width="117.10" height="2.879" fill="#fee89f"/>
<rect x="181.00" y="594.09" width="29.29" height="2.879" fill="#fffac7"/>
<rect x="210.27" y="594.09" width="29.29" height="2.879" fill="#fafbdf"/>
<rect x="239.54" y="594.09" width="29.29" height="2.879" fill="#fcfbd5"/>
<rect x="268.81" y="594.09" width="29.29" height="2.879" fill="#fefcce"/>
<rect x="298.08" y="594.09" width="87.83" height="2.879" fill="#fff0b0"/>
<rect x="385.89" y="594.09" width="117.10" height="2.879" fill="#feeca8"/>
<rect x="181.00" y="596.94" width="29.29" height="2.879" fill="#feedab"/>
<rect x="210.27" y="596.94" width="29.29" height="2.879" fill="#fbfbda"/>
<rect x="239.54" y="596.94" width="29.29" height="2.879" fill="#fffac6"/>
<rect x="268.81" y="596.94" width="29.29" height="2.879" fill="#fbfbdb"/>
<rect x="298.08" y="596.94" width="87.83" height="2.879" fill="#fff2b5"/>
<rect x="385.89" y="596.94" width="29.29" height="2.879" fill="#fff0b0"/>
<rect x="415.16" y="596.94" width="87.83" height="2.879" fill="#feeeac"/>
<rect x="181.00" y="599.80" width="29.29" height="2.879" fill="#fffac7"/>
<rect x="210.27" y="599.80" width="29.29" height="2.879" fill="#fcfbd5"/>
<rect x="239.54" y="599.80" width="29.29" height="2.879" fill="#fdfbd3"/>
<rect x="268.81" y="599.80" width="29.29" height="2.879" fill="#fbfbd8"/>
<rect x="298.08" y="599.80" width="29.29" height="2.879" fill="#f4f9f3"/>
<rect x="327.35" y="599.80" width="117.10" height="2.879" fill="#f7faea"/>
<rect x="444.43" y="599.80" width="58.56" height="2.879" fill="#f4f9f3"/>
<rect x="181.00" y="602.66" width="29.29" height="2.879" fill="#fff6be"/>
<rect x="210.27" y="602.66" width="29.29" height="2.879" fill="#fefccd"/>
<rect x="239.54" y="602.66" width="29.29" height="2.879" fill="#fffbc7"/>
<rect x="268.81" y="602.66" width="29.29" height="2.879" fill="#fdfbd2"/>
<rect x="298.08" y="602.66" width="29.29" height="2.879" fill="#edf7f8"/>
<rect x="327.35" y="602.66" width="117.10" height="2.879" fill="#f4f9f3"/>
<rect x="444.43" y="602.66" width="29.29" height="2.879" fill="#e8f6f8"/>
<rect x="473.70" y="602.66" width="29.29" height="2.879" fill="#edf7f8"/>
<rect x="181.00" y="605.52" width="29.29" height="2.879" fill="#fff7bf"/>
<rect x="210.27" y="605.52" width="58.56" height="2.879" fill="#fffccb"/>
<rect x="268.81" y="605.52" width="29.29" height="2.879" fill="#fdfcd0"/>
<rect x="298.08" y="605.52" width="29.29" height="2.879" fill="#e8f6f8"/>
<rect x="327.35" y="605.52" width="29.29" height="2.879" fill="#edf7f8"/>
<rect x="356.62" y="605.52" width="29.29" height="2.879" fill="#f4f9f3"/>
<rect x="385.89" y="605.52" width="29.29" height="2.879" fill="#edf7f8"/>
<rect x="415.16" y="605.52" width="29.29" height="2.879" fill="#f4f9f3"/>
<rect x="444.43" y="605.52" width="29.29" height="2.879" fill="#edf7f8"/>
<rect x="473.70" y="605.52" width="29.29" height="2.879" fill="#e0f3f7"/>
<rect x="181.00" y="608.38" width="29.29" height="2.879" fill="#fffcc9"/>
<rect x="210.27" y="608.38" width="29.29" height="2.879" fill="#fdfcd0"/>
<rect x="239.54" y="608.38" width="29.29" height="2.879" fill="#fefccd"/>
<rect x="268.81" y="608.38" width="29.29" height="2.879" fill="#fefccf"/>
<rect x="298.08" y="608.38" width="58.56" height="2.879" fill="#e8f6f8"/>
<rect x="356.62" y="608.38" width="29.29" height="2.879" fill="#f1f8f8"/>
<rect x="385.89" y="608.38" width="29.29" height="2.879" fill="#e8f6f8"/>
<rect x="415.16" y="608.38" width="29.29" height="2.879" fill="#edf7f8"/>
<rect x="444.43" y="608.38" width="29.29" height="2.879" fill="#e8f6f8"/>
<rect x="473.70" y="608.38" width="29.29" height="2.879" fill="#d6eef5"/>
<rect x="181.00" y="611.24" width="29.29" height="2.879" fill="#fff8c2"/>
<rect x="210.27" y="611.24" width="29.29" height="2.879" fill="#fbfbda"/>
<rect x="239.54" y="611.24" width="29.29" height="2.879" fill="#fcfbd6"/>
<rect x="268.81" y="611.24" width="29.29" height="2.879" fill="#fffccc"/>
<rect x="298.08" y="611.24" width="29.29" height="2.879" fill="#e0f3f7"/>
<rect x="327.35" y="611.24" width="29.29" height="2.879" fill="#e8f6f8"/>
<rect x="356.62" y="611.24" width="29.29" height="2.879" fill="#edf7f8"/>
<rect x="385.89" y="611.24" width="58.56" height="2.879" fill="#e8f6f8"/>
<rect x="444.43" y="611.24" width="29.29" height="2.879" fill="#f4f9f3"/>
<rect x="473.70" y="611.24" width="29.29" height="2.879" fill="#e0f3f7"/>
<rect x="181.00" y="614.10" width="29.29" height="2.879" fill="#fffbc8"/>
<rect x="210.27" y="614.10" width="29.29" height="2.879" fill="#fcfbd6"/>
<rect x="239.54" y="614.10" width="29.29" height="2.879" fill="#fefccf"/>
<rect x="268.81" y="614.10" width="29.29" height="2.879" fill="#fbfbda"/>
<rect x="298.08" y="614.10" width="58.56" height="2.879" fill="#e0f3f7"/>
<rect x="356.62" y="614.10" width="29.29" height="2.879" fill="#e8f6f8"/>
<rect x="385.89" y="614.10" width="29.29" height="2.879" fill="#e0f3f7"/>
<rect x="415.16" y="614.10" width="29.29" height="2.879" fill="#e8f6f8"/>
<rect x="444.43" y="614.10" width="29.29" height="2.879" fill="#f4f9f3"/>
<rect x="473.70" y="614.10" width="29.29" height="2.879" fill="#e0f3f7"/>
<rect x="181.00" y="616.96" width="29.29" height="2.879" fill="#fff8c1"/>
<rect x="210.27" y="616.96" width="29.29" height="2.879" fill="#fffccb"/>
<rect x="239.54" y="616.96" width="29.29" height="2.879" fill="#fdfcd1"/>
<rect x="268.81" y="616.96" width="29.29" height="2.879" fill="#fdfcd2"/>
<rect x="298.08" y="616.96" width="29.29" height="2.879" fill="#c7e7f1"/>
<rect x="327.35" y="616.96" width="29.29" height="2.879" fill="#e0f3f7"/>
<rect x="356.62" y="616.96" width="29.29" height="2.879" fill="#e8f6f8"/>
<rect x="385.89" y="616.96" width="29.29" height="2.879" fill="#d6eef5"/>
<rect x="415.16" y="616.96" width="29.29" height="2.879" fill="#e0f3f7"/>
<rect x="444.43" y="616.96" width="29.29" height="2.879" fill="#edf7f8"/>
<rect x="473.70" y="616.96" width="29.29" height="2.879" fill="#d6eef5"/>
<rect x="181.00" y="619.82" width="29.29" height="2.879" fill="#fffac6"/>
<rect x="210.27" y="619.82" width="29.29" height="2.879" fill="#fcfbd4"/>
<rect x="239.54" y="619.82" width="29.29" height="2.879" fill="#fefcce"/>
<rect x="268.81" y="619.82" width="29.29" height="2.879" fill="#fafbdc"/>
<rect x="298.08" y="619.82" width="29.29" height="2.879" fill="#d6eef5"/>
<rect x="327.35" y="619.82" width="29.29" height="2.879" fill="#e0f3f7"/>
<rect x="356.62" y="619.82" width="29.29" height="2.879" fill="#e8f6f8"/>
<rect x="385.89" y="619.82" width="29.29" height="2.879" fill="#bde2ee"/>
<rect x="415.16" y="619.82" width="29.29" height="2.879" fill="#c7e7f1"/>
<rect x="444.43" y="619.82" width="29.29" height="2.879" fill="#e8f6f8"/>
<rect x="473.70" y="619.82" width="29.29" height="2.879" fill="#bde2ee"/>
<rect x="181.00" y="622.68" width="29.29" height="2.879" fill="#fffbc8"/>
<rect x="210.27" y="622.68" width="29.29" height="2.879" fill="#fafbdb"/>
<rect x="239.54" y="622.68" width="29.29" height="2.879" fill="#fffac6"/>
<rect x="268.81" y="622.68" width="29.29" height="2.879" fill="#fcfbd5"/>
<rect x="298.08" y="622.68" width="29.29" height="2.879" fill="#d6eef5"/>
<rect x="327.35" y="622.68" width="58.56" height="2.879" fill="#e0f3f7"/>
<rect x="385.89" y="622.68" width="29.29" height="2.879" fill="#bde2ee"/>
<rect x="415.16" y="622.68" width="29.29" height="2.879" fill="#c7e7f1"/>
<rect x="444.43" y="622.68" width="29.29" height="2.879" fill="#e8f6f8"/>
<rect x="473.70" y="622.68" width="29.29" height="2.879" fill="#c7e7f1"/>
<rect x="181.00" y="625.54" width="29.29" height="2.879" fill="#fffbc7"/>
<rect x="210.27" y="625.54" width="29.29" height="2.879" fill="#fefccc"/>
<rect x="239.54" y="625.54" width="29.29" height="2.879" fill="#fffac5"/>
<rect x="268.81" y="625.54" width="29.29" height="2.879" fill="#fcfbd6"/>
<rect x="298.08" y="625.54" width="87.83" height="2.879" fill="#d6eef5"/>
<rect x="385.89" y="625.54" width="58.56" height="2.879" fill="#bde2ee"/>
<rect x="444.43" y="625.54" width="29.29" height="2.879" fill="#e8f6f8"/>
<rect x="473.70" y="625.54" width="29.29" height="2.879" fill="#bde2ee"/>
<rect x="181.00" y="628.39" width="29.29" height="2.879" fill="#fffbc8"/>
<rect x="210.27" y="628.39" width="29.29" height="2.879" fill="#fafbdc"/>
<rect x="239.54" y="628.39" width="29.29" height="2.879" fill="#fcfbd5"/>
<rect x="268.81" y="628.39" width="29.29" height="2.879" fill="#fbfbd9"/>
<rect x="298.08" y="628.39" width="29.29" height="2.879" fill="#d6eef5"/>
<rect x="327.35" y="628.39" width="58.56" height="2.879" fill="#e0f3f7"/>
<rect x="385.89" y="628.39" width="29.29" height="2.879" fill="#b8dfec"/>
<rect x="415.16" y="628.39" width="29.29" height="2.879" fill="#bde2ee"/>
<rect x="444.43" y="628.39" width="29.29" height="2.879" fill="#e4f4f7"/>
<rect x="473.70" y="628.39" width="29.29" height="2.879" fill="#e8f6f8"/>
<rect x="181.00" y="631.25" width="29.29" height="2.879" fill="#fffbc9"/>
<rect x="210.27" y="631.25" width="29.29" height="2.879" fill="#fbfbdb"/>
<rect x="239.54" y="631.25" width="29.29" height="2.879" fill="#fdfcd1"/>
<rect x="268.81" y="631.25" width="29.29" height="2.879" fill="#fdfbd4"/>
<rect x="298.08" y="631.25" width="29.29" height="2.879" fill="#cce9f2"/>
<rect x="327.35" y="631.25" width="29.29" height="2.879" fill="#e0f3f7"/>
<rect x="356.62" y="631.25" width="29.29" height="2.879" fill="#d6eef5"/>
<rect x="385.89" y="631.25" width="58.56" height="2.879" fill="#b8dfec"/>
<rect x="444.43" y="631.25" width="29.29" height="2.879" fill="#e0f3f7"/>
<rect x="473.70" y="631.25" width="29.29" height="2.879" fill="#cce9f2"/>
<rect x="181.00" y="634.11" width="29.29" height="2.879" fill="#fff7bf"/>
<rect x="210.27" y="634.11" width="29.29" height="2.879" fill="#fefcd0"/>
<rect x="239.54" y="634.11" width="29.29" height="2.879" fill="#fefcce"/>
<rect x="268.81" y="634.11" width="29.29" height="2.879" fill="#fcfbd7"/>
<rect x="298.08" y="634.11" width="29.29" height="2.879" fill="#c7e7f1"/>
<rect x="327.35" y="634.11" width="29.29" height="2.879" fill="#d6eef5"/>
<rect x="356.62" y="634.11" width="29.29" height="2.879" fill="#cce9f2"/>
<rect x="385.89" y="634.11" width="29.29" height="2.879" fill="#aedaea"/>
<rect x="415.16" y="634.11" width="29.29" height="2.879" fill="#a3d2e5"/>
<rect x="444.43" y="634.11" width="29.29" height="2.879" fill="#e0f3f7"/>
<rect x="473.70" y="634.11" width="29.29" height="2.879" fill="#bde2ee"/>
<rect x="181.00" y="636.97" width="29.29" height="2.879" fill="#fff9c3"/>
<rect x="210.27" y="636.97" width="29.29" height="2.879" fill="#fbfbd8"/>
<rect x="239.54" y="636.97" width="29.29" height="2.879" fill="#fefccf"/>
<rect x="268.81" y="636.97" width="29.29" height="2.879" fill="#fafbdf"/>
<rect x="298.08" y="636.97" width="29.29" height="2.879" fill="#aedaea"/>
<rect x="327.35" y="636.97" width="29.29" height="2.879" fill="#cce9f2"/>
<rect x="356.62" y="636.97" width="29.29" height="2.879" fill="#d6eef5"/>
<rect x="385.89" y="636.97" width="29.29" height="2.879" fill="#aedaea"/>
<rect x="415.16" y="636.97" width="29.29" height="2.879" fill="#77afd2"/>
<rect x="444.43" y="636.97" width="29.29" height="2.879" fill="#e8f6f8"/>
<rect x="473.70" y="636.97" width="29.29" height="2.879" fill="#92c5de"/>
<rect x="181.00" y="639.83" width="29.29" height="2.879" fill="#fffac7"/>
<rect x="210.27" y="639.83" width="29.29" height="2.879" fill="#fffccb"/>
<rect x="239.54" y="639.83" width="29.29" height="2.879" fill="#feedab"/>
<rect x="268.81" y="639.83" width="29.29" height="2.879" fill="#fafbdd"/>
<rect x="298.08" y="639.83" width="87.83" height="2.879" fill="#c7e7f1"/>
<rect x="385.89" y="639.83" width="29.29" height="2.879" fill="#7cb4d5"/>
<rect x="415.16" y="639.83" width="29.29" height="2.879" fill="#82b8d7"/>
<rect x="444.43" y="639.83" width="29.29" height="2.879" fill="#e8f6f8"/>
<rect x="473.70" y="639.83" width="29.29" height="2.879" fill="#b8dfec"/>
<rect x="181.00" y="642.69" width="29.29" height="2.879" fill="#fff9c4"/>
<rect x="210.27" y="642.69" width="29.29" height="2.879" fill="#fdfbd2"/>
<rect x="239.54" y="642.69" width="29.29" height="2.879" fill="#fffac7"/>
<rect x="268.81" y="642.69" width="29.29" height="2.879" fill="#fafbdb"/>
<rect x="298.08" y="642.69" width="29.29" height="2.879" fill="#b8dfec"/>
<rect x="327.35" y="642.69" width="58.56" height="2.879" fill="#c7e7f1"/>
<rect x="385.89" y="642.69" width="29.29" height="2.879" fill="#aedaea"/>
<rect x="415.16" y="642.69" width="29.29" height="2.879" fill="#b8dfec"/>
<rect x="444.43" y="642.69" width="29.29" height="2.879" fill="#cce9f2"/>
<rect x="473.70" y="642.69" width="29.29" height="2.879" fill="#b8dfec"/>
<rect x="181.00" y="645.55" width="29.29" height="2.879" fill="#feedab"/>
<rect x="210.27" y="645.55" width="29.29" height="2.879" fill="#fbfbda"/>
<rect x="239.54" y="645.55" width="29.29" height="2.879" fill="#fdfcd1"/>
<rect x="268.81" y="645.55" width="29.29" height="2.879" fill="#fcfbd7"/>
<rect x="298.08" y="645.55" width="58.56" height="2.879" fill="#bde2ee"/>
<rect x="356.62" y="645.55" width="58.56" height="2.879" fill="#aedaea"/>
<rect x="415.16" y="645.55" width="29.29" height="2.879" fill="#b8dfec"/>
<rect x="444.43" y="645.55" width="29.29" height="2.879" fill="#bde2ee"/>
<rect x="473.70" y="645.55" width="29.29" height="2.879" fill="#aedaea"/>
<rect x="181.00" y="648.41" width="29.29" height="2.879" fill="#fff9c4"/>
<rect x="210.27" y="648.41" width="29.29" height="2.879" fill="#fffccb"/>
<rect x="239.54" y="648.41" width="29.29" height="2.879" fill="#fffac7"/>
<rect x="268.81" y="648.41" width="29.29" height="2.879" fill="#fefccd"/>
<rect x="298.08" y="648.41" width="29.29" height="2.879" fill="#c7e7f1"/>
<rect x="327.35" y="648.41" width="58.56" height="2.879" fill="#bde2ee"/>
<rect x="385.89" y="648.41" width="29.29" height="2.879" fill="#aedaea"/>
<rect x="415.16" y="648.41" width="29.29" height="2.879" fill="#b8dfec"/>
<rect x="444.43" y="648.41" width="29.29" height="2.879" fill="#bde2ee"/>
<rect x="473.70" y="648.41" width="29.29" height="2.879" fill="#98cae1"/>
<rect x="181.00" y="651.27" width="29.29" height="2.879" fill="#fffcca"/>
<rect x="210.27" y="651.27" width="29.29" height="2.879" fill="#f9fbdf"/>
<rect x="239.54" y="651.27" width="29.29" height="2.879" fill="#fbfbd9"/>
<rect x="268.81" y="651.27" width="29.29" height="2.879" fill="#fdfcd0"/>
<rect x="298.08" y="651.27" width="29.29" height="2.879" fill="#d6eef5"/>
<rect x="327.35" y="651.27" width="58.56" height="2.879" fill="#e0f3f7"/>
<rect x="385.89" y="651.27" width="58.56" height="2.879" fill="#aedaea"/>
<rect x="444.43" y="651.27" width="29.29" height="2.879" fill="#b8dfec"/>
<rect x="473.70" y="651.27" width="29.29" height="2.879" fill="#98cae1"/>
<rect x="181.00" y="654.12" width="29.29" height="2.879" fill="#fff7bf"/>
<rect x="210.27" y="654.12" width="29.29" height="2.879" fill="#fcfbd6"/>
<rect x="239.54" y="654.12" width="29.29" height="2.879" fill="#fffcca"/>
<rect x="268.81" y="654.12" width="29.29" height="2.879" fill="#f9fbe0"/>
<rect x="298.08" y="654.12" width="29.29" height="2.879" fill="#bde2ee"/>
<rect x="327.35" y="654.12" width="29.29" height="2.879" fill="#c7e7f1"/>
<rect x="356.62" y="654.12" width="29.29" height="2.879" fill="#cce9f2"/>
<rect x="385.89" y="654.12" width="29.29" height="2.879" fill="#7cb4d5"/>
<rect x="415.16" y="654.12" width="29.29" height="2.879" fill="#aedaea"/>
<rect x="444.43" y="654.12" width="29.29" height="2.879" fill="#a3d2e5"/>
<rect x="473.70" y="654.12" width="29.29" height="2.879" fill="#aedaea"/>
<rect x="181.00" y="656.98" width="29.29" height="2.879" fill="#fffac5"/>
<rect x="210.27" y="656.98" width="29.29" height="2.879" fill="#fffccc"/>
<rect x="239.54" y="656.98" width="29.29" height="2.879" fill="#fffbc7"/>
<rect x="268.81" y="656.98" width="29.29" height="2.879" fill="#fefccd"/>
<rect x="298.08" y="656.98" width="29.29" height="2.879" fill="#aedaea"/>
<rect x="327.35" y="656.98" width="58.56" height="2.879" fill="#bde2ee"/>
<rect x="385.89" y="656.98" width="29.29" height="2.879" fill="#aedaea"/>
<rect x="415.16" y="656.98" width="29.29" height="2.879" fill="#e0f3f7"/>
<rect x="444.43" y="656.98" width="29.29" height="2.879" fill="#aedaea"/>
<rect x="473.70" y="656.98" width="29.29" height="2.879" fill="#a3d2e5"/>
<rect x="181.00" y="659.84" width="29.29" height="2.879" fill="#fff6be"/>
<rect x="210.27" y="659.84" width="29.29" height="2.879" fill="#fbfbdb"/>
<rect x="239.54" y="659.84" width="29.29" height="2.879" fill="#fcfbd4"/>
<rect x="268.81" y="659.84" width="29.29" height="2.879" fill="#fafbdd"/>
<rect x="298.08" y="659.84" width="87.83" height="2.879" fill="#bde2ee"/>
<rect x="385.89" y="659.84" width="87.83" height="2.879" fill="#aedaea"/>
<rect x="473.70" y="659.84" width="29.29" height="2.879" fill="#a3d2e5"/>
<rect x="181.00" y="662.70" width="29.29" height="2.879" fill="#fff9c3"/>
<rect x="210.27" y="662.70" width="29.29" height="2.879" fill="#fdfcd1"/>
<rect x="239.54" y="662.70" width="29.29" height="2.879" fill="#fffac6"/>
<rect x="268.81" y="662.70" width="29.29" height="2.879" fill="#fdfcd0"/>
<rect x="298.08" y="662.70" width="29.29" height="2.879" fill="#bde2ee"/>
<rect x="327.35" y="662.70" width="29.29" height="2.879" fill="#cce9f2"/>
<rect x="356.62" y="662.70" width="29.29" height="2.879" fill="#bde2ee"/>
<rect x="385.89" y="662.70" width="58.56" height="2.879" fill="#a3d2e5"/>
<rect x="444.43" y="662.70" width="29.29" height="2.879" fill="#87bcd9"/>
<rect x="473.70" y="662.70" width="29.29" height="2.879" fill="#98cae1"/>
<rect x="181.00" y="665.56" width="29.29" height="2.879" fill="#fff8c2"/>
<rect x="210.27" y="665.56" width="29.29" height="2.879" fill="#fefccf"/>
<rect x="239.54" y="665.56" width="29.29" height="2.879" fill="#fefccd"/>
<rect x="268.81" y="665.56" width="29.29" height="2.879" fill="#fcfbd4"/>
<rect x="298.08" y="665.56" width="29.29" height="2.879" fill="#aedaea"/>
<rect x="327.35" y="665.56" width="29.29" height="2.879" fill="#e0f3f7"/>
<rect x="356.62" y="665.56" width="29.29" height="2.879" fill="#d6eef5"/>
<rect x="385.89" y="665.56" width="29.29" height="2.879" fill="#87bcd9"/>
<rect x="415.16" y="665.56" width="29.29" height="2.879" fill="#aedaea"/>
<rect x="444.43" y="665.56" width="29.29" height="2.879" fill="#82b8d7"/>
<rect x="473.70" y="665.56" width="29.29" height="2.879" fill="#98cae1"/>
<rect x="181.00" y="668.42" width="29.29" height="2.879" fill="#fffcca"/>
<rect x="210.27" y="668.42" width="29.29" height="2.879" fill="#fefccf"/>
<rect x="239.54" y="668.42" width="29.29" height="2.879" fill="#fdfbd2"/>
<rect x="268.81" y="668.42" width="29.29" height="2.879" fill="#fffccc"/>
<rect x="298.08" y="668.42" width="29.29" height="2.879" fill="#98cae1"/>
<rect x="327.35" y="668.42" width="29.29" height="2.879" fill="#c7e7f1"/>
<rect x="356.62" y="668.42" width="29.29" height="2.879" fill="#bde2ee"/>
<rect x="385.89" y="668.42" width="29.29" height="2.879" fill="#a3d2e5"/>
<rect x="415.16" y="668.42" width="29.29" height="2.879" fill="#92c5de"/>
<rect x="444.43" y="668.42" width="29.29" height="2.879" fill="#82b8d7"/>
<rect x="473.70" y="668.42" width="29.29" height="2.879" fill="#98cae1"/>
<rect x="181.00" y="671.28" width="29.29" height="2.879" fill="#fff8c2"/>
<rect x="210.27" y="671.28" width="29.29" height="2.879" fill="#fbfbd9"/>
<rect x="239.54" y="671.28" width="29.29" height="2.879" fill="#fcfbd4"/>
<rect x="268.81" y="671.28" width="29.29" height="2.879" fill="#fbfbdb"/>
<rect x="298.08" y="671.28" width="29.29" height="2.879" fill="#87bcd9"/>
<rect x="327.35" y="671.28" width="29.29" height="2.879" fill="#aedaea"/>
<rect x="356.62" y="671.28" width="29.29" height="2.879" fill="#a3d2e5"/>
<rect x="385.89" y="671.28" width="58.56" height="2.879" fill="#6da5cd"/>
<rect x="444.43" y="671.28" width="29.29" height="2.879" fill="#87bcd9"/>
<rect x="473.70" y="671.28" width="29.29" height="2.879" fill="#98cae1"/>
<rect x="181.00" y="674.14" width="29.29" height="2.879" fill="#fff8c2"/>
<rect x="210.27" y="674.14" width="29.29" height="2.879" fill="#fdfcd1"/>
<rect x="239.54" y="674.14" width="29.29" height="2.879" fill="#fcfbd4"/>
<rect x="268.81" y="674.14" width="29.29" height="2.879" fill="#fafbdf"/>
<rect x="298.08" y="674.14" width="87.83" height="2.879" fill="#6da5cd"/>
<rect x="385.89" y="674.14" width="58.56" height="2.879" fill="#669cc8"/>
<rect x="444.43" y="674.14" width="29.29" height="2.879" fill="#98cae1"/>
<rect x="473.70" y="674.14" width="29.29" height="2.879" fill="#92c5de"/>
<rect x="181.00" y="677.00" width="29.29" height="2.879" fill="#fff9c3"/>
<rect x="210.27" y="677.00" width="29.29" height="2.879" fill="#fdfbd3"/>
<rect x="239.54" y="677.00" width="29.29" height="2.879" fill="#fefcce"/>
<rect x="268.81" y="677.00" width="29.29" height="2.879" fill="#fbfbdb"/>
<rect x="298.08" y="677.00" width="29.29" height="2.879" fill="#669cc8"/>
<rect x="327.35" y="677.00" width="58.56" height="2.879" fill="#6ba2cb"/>
<rect x="385.89" y="677.00" width="58.56" height="2.879" fill="#669cc8"/>
<rect x="444.43" y="677.00" width="29.29" height="2.879" fill="#98cae1"/>
<rect x="473.70" y="677.00" width="29.29" height="2.879" fill="#92c5de"/>
<rect x="181.00" y="679.86" width="29.29" height="2.879" fill="#fff8c2"/>
<rect x="210.27" y="679.86" width="29.29" height="2.879" fill="#f9fbe0"/>
<rect x="239.54" y="679.86" width="29.29" height="2.879" fill="#fdfcd0"/>
<rect x="268.81" y="679.86" width="29.29" height="2.879" fill="#fcfbd6"/>
<rect x="298.08" y="679.86" width="29.29" height="2.879" fill="#303c91"/>
<rect x="327.35" y="679.86" width="58.56" height="2.879" fill="#38529e"/>
<rect x="385.89" y="679.86" width="58.56" height="2.879" fill="#303c91"/>
<rect x="444.43" y="679.86" width="58.56" height="2.879" fill="#4067ab"/>
<rect x="181.00" y="682.71" width="29.29" height="2.879" fill="#fff6be"/>
<rect x="210.27" y="682.71" width="29.29" height="2.879" fill="#fdfbd2"/>
<rect x="239.54" y="682.71" width="29.29" height="2.879" fill="#fffac6"/>
<rect x="268.81" y="682.71" width="29.29" height="2.879" fill="#fcfbd6"/>
<rect x="298.08" y="682.71" width="29.29" height="2.879" fill="#fecb7f"/>
<rect x="327.35" y="682.71" width="58.56" height="2.879" fill="#fee397"/>
<rect x="385.89" y="682.71" width="29.29" height="2.879" fill="#f67f4c"/>
<rect x="415.16" y="682.71" width="29.29" height="2.879" fill="#fed78b"/>
<rect x="444.43" y="682.71" width="29.29" height="2.879" fill="#f46d43"/>
<rect x="473.70" y="682.71" width="29.29" height="2.879" fill="#fdc277"/>
<rect x="181.00" y="685.57" width="29.29" height="2.879" fill="#fffbc7"/>
<rect x="210.27" y="685.57" width="29.29" height="2.879" fill="#fbfbdb"/>
<rect x="239.54" y="685.57" width="29.29" height="2.879" fill="#fffac5"/>
<rect x="268.81" y="685.57" width="29.29" height="2.879" fill="#fdfcd1"/>
<rect x="298.08" y="685.57" width="117.10" height="2.879" fill="#feeca8"/>
<rect x="415.16" y="685.57" width="29.29" height="2.879" fill="#fff2b5"/>
<rect x="444.43" y="685.57" width="58.56" height="2.879" fill="#feeca8"/>
<rect x="181.00" y="688.43" width="29.29" height="2.879" fill="#fffac6"/>
<rect x="210.27" y="688.43" width="29.29" height="2.879" fill="#f9fbe0"/>
<rect x="239.54" y="688.43" width="29.29" height="2.879" fill="#fffccc"/>
<rect x="268.81" y="688.43" width="29.29" height="2.879" fill="#fdfcd1"/>
<rect x="298.08" y="688.43" width="29.29" height="2.879" fill="#d6eef5"/>
<rect x="327.35" y="688.43" width="58.56" height="2.879" fill="#e0f3f7"/>
<rect x="385.89" y="688.43" width="29.29" height="2.879" fill="#edf7f8"/>
<rect x="415.16" y="688.43" width="29.29" height="2.879" fill="#e0f3f7"/>
<rect x="444.43" y="688.43" width="29.29" height="2.879" fill="#d6eef5"/>
<rect x="473.70" y="688.43" width="29.29" height="2.879" fill="#e0f3f7"/>
<rect x="181.00" y="691.29" width="29.29" height="2.879" fill="#fff9c5"/>
<rect x="210.27" y="691.29" width="29.29" height="2.879" fill="#fbfbda"/>
<rect x="239.54" y="691.29" width="29.29" height="2.879" fill="#fffbc9"/>
<rect x="268.81" y="691.29" width="29.29" height="2.879" fill="#fffccc"/>
<rect x="298.08" y="691.29" width="29.29" height="2.879" fill="#aedaea"/>
<rect x="327.35" y="691.29" width="29.29" height="2.879" fill="#bde2ee"/>
<rect x="356.62" y="691.29" width="29.29" height="2.879" fill="#a3d2e5"/>
<rect x="385.89" y="691.29" width="29.29" height="2.879" fill="#e0f3f7"/>
<rect x="415.16" y="691.29" width="29.29" height="2.879" fill="#e8f6f8"/>
<rect x="444.43" y="691.29" width="58.56" height="2.879" fill="#e0f3f7"/>
<rect x="181.00" y="694.15" width="29.29" height="2.879" fill="#fffbc7"/>
<rect x="210.27" y="694.15" width="29.29" height="2.879" fill="#f9fbe0"/>
<rect x="239.54" y="694.15" width="29.29" height="2.879" fill="#fee497"/>
<rect x="268.81" y="694.15" width="29.29" height="2.879" fill="#fbfbd9"/>
<rect x="298.08" y="694.15" width="29.29" height="2.879" fill="#bde2ee"/>
<rect x="327.35" y="694.15" width="29.29" height="2.879" fill="#c7e7f1"/>
<rect x="356.62" y="694.15" width="29.29" height="2.879" fill="#a3d2e5"/>
<rect x="385.89" y="694.15" width="58.56" height="2.879" fill="#e8f6f8"/>
<rect x="444.43" y="694.15" width="29.29" height="2.879" fill="#d6eef5"/>
<rect x="473.70" y="694.15" width="29.29" height="2.879" fill="#c7e7f1"/>
<rect x="181.00" y="697.01" width="29.29" height="2.879" fill="#fffcca"/>
<rect x="210.27" y="697.01" width="29.29" height="2.879" fill="#f9fbe0"/>
<rect x="239.54" y="697.01" width="29.29" height="2.879" fill="#fee9a3"/>
<rect x="268.81" y="697.01" width="29.29" height="2.879" fill="#fbfbd9"/>
<rect x="298.08" y="697.01" width="58.56" height="2.879" fill="#c7e7f1"/>
<rect x="356.62" y="697.01" width="29.29" height="2.879" fill="#a3d2e5"/>
<rect x="385.89" y="697.01" width="58.56" height="2.879" fill="#e0f3f7"/>
<rect x="444.43" y="697.01" width="29.29" height="2.879" fill="#a3d2e5"/>
<rect x="473.70" y="697.01" width="29.29" height="2.879" fill="#87bcd9"/>
<rect x="181.00" y="699.87" width="29.29" height="2.879" fill="#fff9c5"/>
<rect x="210.27" y="699.87" width="29.29" height="2.879" fill="#fdfcd1"/>
<rect x="239.54" y="699.87" width="29.29" height="2.879" fill="#fdfbd3"/>
<rect x="268.81" y="699.87" width="29.29" height="2.879" fill="#fefcce"/>
<rect x="298.08" y="699.87" width="29.29" height="2.879" fill="#c7e7f1"/>
<rect x="327.35" y="699.87" width="29.29" height="2.879" fill="#d6eef5"/>
<rect x="356.62" y="699.87" width="29.29" height="2.879" fill="#bde2ee"/>
<rect x="385.89" y="699.87" width="58.56" height="2.879" fill="#d6eef5"/>
<rect x="444.43" y="699.87" width="29.29" height="2.879" fill="#a3d2e5"/>
<rect x="473.70" y="699.87" width="29.29" height="2.879" fill="#6da5cd"/>
<rect x="181.00" y="702.73" width="29.29" height="2.879" fill="#fff8c1"/>
<rect x="210.27" y="702.73" width="29.29" height="2.879" fill="#fcfbd5"/>
<rect x="239.54" y="702.73" width="29.29" height="2.879" fill="#fdfbd2"/>
<rect x="268.81" y="702.73" width="29.29" height="2.879" fill="#fffccb"/>
<rect x="298.08" y="702.73" width="29.29" height="2.879" fill="#bde2ee"/>
<rect x="327.35" y="702.73" width="29.29" height="2.879" fill="#c7e7f1"/>
<rect x="356.62" y="702.73" width="29.29" height="2.879" fill="#bde2ee"/>
<rect x="385.89" y="702.73" width="117.10" height="2.879" fill="#38529e"/>
<rect x="181.00" y="705.59" width="29.29" height="2.879" fill="#fffac6"/>
<rect x="210.27" y="705.59" width="29.29" height="2.879" fill="#fefcce"/>
<rect x="239.54" y="705.59" width="29.29" height="2.879" fill="#fdfbd2"/>
<rect x="268.81" y="705.59" width="29.29" height="2.879" fill="#fbfbdb"/>
<rect x="298.08" y="705.59" width="87.83" height="2.879" fill="#fee89f"/>
<rect x="385.89" y="705.59" width="29.29" height="2.879" fill="#fdc277"/>
<rect x="415.16" y="705.59" width="29.29" height="2.879" fill="#fee093"/>
<rect x="444.43" y="705.59" width="29.29" height="2.879" fill="#fee89f"/>
<rect x="473.70" y="705.59" width="29.29" height="2.879" fill="#fed78b"/>
<rect x="181.00" y="708.45" width="29.29" height="2.879" fill="#fff7c1"/>
<rect x="210.27" y="708.45" width="29.29" height="2.879" fill="#fbfbda"/>
<rect x="239.54" y="708.45" width="29.29" height="2.879" fill="#fffac5"/>
<rect x="268.81" y="708.45" width="29.29" height="2.879" fill="#fcfbd5"/>
<rect x="298.08" y="708.45" width="87.83" height="2.879" fill="#fffcca"/>
<rect x="385.89" y="708.45" width="29.29" height="2.879" fill="#fff2b5"/>
<rect x="415.16" y="708.45" width="29.29" height="2.879" fill="#fff6bd"/>
<rect x="444.43" y="708.45" width="29.29" height="2.879" fill="#f4f9f3"/>
<rect x="473.70" y="708.45" width="29.29" height="2.879" fill="#edf7f8"/>
<rect x="181.00" y="711.31" width="29.29" height="2.879" fill="#fffbc8"/>
<rect x="210.27" y="711.31" width="29.29" height="2.879" fill="#fbfbdb"/>
<rect x="239.54" y="711.31" width="29.29" height="2.879" fill="#fefcce"/>
<rect x="268.81" y="711.31" width="29.29" height="2.879" fill="#fdfcd1"/>
<rect x="298.08" y="711.31" width="29.29" height="2.879" fill="#bde2ee"/>
<rect x="327.35" y="711.31" width="29.29" height="2.879" fill="#cce9f2"/>
<rect x="356.62" y="711.31" width="29.29" height="2.879" fill="#c7e7f1"/>
<rect x="385.89" y="711.31" width="87.83" height="2.879" fill="#bde2ee"/>
<rect x="473.70" y="711.31" width="29.29" height="2.879" fill="#cce9f2"/>
<rect x="181.00" y="714.16" width="29.29" height="2.879" fill="#fff6be"/>
<rect x="210.27" y="714.16" width="29.29" height="2.879" fill="#fafbdd"/>
<rect x="239.54" y="714.16" width="29.29" height="2.879" fill="#fefcce"/>
<rect x="268.81" y="714.16" width="29.29" height="2.879" fill="#fafbdb"/>
<rect x="298.08" y="714.16" width="29.29" height="2.879" fill="#bde2ee"/>
<rect x="327.35" y="714.16" width="29.29" height="2.879" fill="#c7e7f1"/>
<rect x="356.62" y="714.16" width="29.29" height="2.879" fill="#e0f3f7"/>
<rect x="385.89" y="714.16" width="29.29" height="2.879" fill="#87bcd9"/>
<rect x="415.16" y="714.16" width="29.29" height="2.879" fill="#77afd2"/>
<rect x="444.43" y="714.16" width="29.29" height="2.879" fill="#aedaea"/>
<rect x="473.70" y="714.16" width="29.29" height="2.879" fill="#bde2ee"/>
<rect x="181.00" y="717.02" width="29.29" height="2.879" fill="#fff6be"/>
<rect x="210.27" y="717.02" width="29.29" height="2.879" fill="#fafbdd"/>
<rect x="239.54" y="717.02" width="29.29" height="2.879" fill="#fcfbd6"/>
<rect x="268.81" y="717.02" width="29.29" height="2.879" fill="#fafbdf"/>
<rect x="298.08" y="717.02" width="29.29" height="2.879" fill="#aedaea"/>
<rect x="327.35" y="717.02" width="58.56" height="2.879" fill="#bde2ee"/>
<rect x="385.89" y="717.02" width="117.10" height="2.879" fill="#38529e"/>
</svg>
<svg style="position:absolute;left:0;top:0" width="520" height="742"><g stroke="#b4b4b4" stroke-width="1" fill="none">
<line x1="239.90" y1="3.80" x2="390.90" y2="3.80"/>
<line x1="240.40" y1="3.80" x2="240.40" y2="105.50"/>
<line x1="390.40" y1="3.80" x2="390.40" y2="92.80"/>
<line x1="210.20" y1="105.50" x2="269.30" y2="105.50"/>
<line x1="210.70" y1="105.50" x2="210.70" y2="112.40"/>
<line x1="268.80" y1="105.50" x2="268.80" y2="115.80"/>
<line x1="195.70" y1="112.40" x2="225.70" y2="112.40"/>
<line x1="196.20" y1="112.40" x2="196.20" y2="139.00"/>
<line x1="225.20" y1="112.40" x2="225.20" y2="139.00"/>
<line x1="254.50" y1="115.80" x2="284.80" y2="115.80"/>
<line x1="255.00" y1="115.80" x2="255.00" y2="139.00"/>
<line x1="284.30" y1="115.80" x2="284.30" y2="139.00"/>
<line x1="335.00" y1="92.80" x2="446.00" y2="92.80"/>
<line x1="335.50" y1="92.80" x2="335.50" y2="118.90"/>
<line x1="445.50" y1="92.80" x2="445.50" y2="96.20"/>
<line x1="313.00" y1="118.90" x2="357.90" y2="118.90"/>
<line x1="313.50" y1="118.90" x2="313.50" y2="139.00"/>
<line x1="357.40" y1="118.90" x2="357.40" y2="125.80"/>
<line x1="342.10" y1="125.80" x2="372.40" y2="125.80"/>
<line x1="342.60" y1="125.80" x2="342.60" y2="139.00"/>
<line x1="371.90" y1="125.80" x2="371.90" y2="139.00"/>
<line x1="415.25" y1="96.20" x2="474.75" y2="96.20"/>
<line x1="415.75" y1="96.20" x2="415.75" y2="126.20"/>
<line x1="474.25" y1="96.20" x2="474.25" y2="117.50"/>
<line x1="400.00" y1="126.20" x2="431.25" y2="126.20"/>
<line x1="400.50" y1="126.20" x2="400.50" y2="139.00"/>
<line x1="430.75" y1="126.20" x2="430.75" y2="139.00"/>
<line x1="459.00" y1="117.50" x2="489.25" y2="117.50"/>
<line x1="459.50" y1="117.50" x2="459.50" y2="139.00"/>
<line x1="488.75" y1="117.50" x2="488.75" y2="139.00"/>
</g>
<g stroke="#8791a0" stroke-width="1">
<line x1="507.8" y1="154.6" x2="507.8" y2="720.4"/>
<line x1="504.3" y1="154.60" x2="512" y2="154.60" stroke="#555"/>
<line x1="504.3" y1="279.60" x2="512" y2="279.60" stroke="#555"/>
<line x1="504.3" y1="316.80" x2="512" y2="316.80" stroke="#555"/>
<line x1="504.3" y1="365.40" x2="512" y2="365.40" stroke="#555"/>
<line x1="504.3" y1="414.00" x2="512" y2="414.00" stroke="#555"/>
<line x1="504.3" y1="442.60" x2="512" y2="442.60" stroke="#555"/>
<line x1="504.3" y1="491.20" x2="512" y2="491.20" stroke="#555"/>
<line x1="504.3" y1="536.90" x2="512" y2="536.90" stroke="#555"/>
<line x1="504.3" y1="682.70" x2="512" y2="682.70" stroke="#555"/>
<line x1="504.3" y1="705.60" x2="512" y2="705.60" stroke="#555"/>
<line x1="504.3" y1="720.40" x2="512" y2="720.40" stroke="#555"/>
</g></svg>
<div class="t br" style="left:509.90px;top:213.90px;width:10px;text-align:center">A</div>
<div class="t br" style="left:509.90px;top:295.00px;width:10px;text-align:center">B</div>
<div class="t br" style="left:509.90px;top:337.90px;width:10px;text-align:center">C</div>
<div class="t br" style="left:509.90px;top:386.50px;width:10px;text-align:center">D</div>
<div class="t br" style="left:509.90px;top:425.10px;width:10px;text-align:center">E</div>
<div class="t br" style="left:509.90px;top:463.70px;width:10px;text-align:center">F</div>
<div class="t br" style="left:509.90px;top:510.85px;width:10px;text-align:center">G</div>
<div class="t br" style="left:509.90px;top:606.60px;width:10px;text-align:center">H</div>
<div class="t br" style="left:509.90px;top:690.95px;width:10px;text-align:center">I</div>
<div class="t br" style="left:509.90px;top:709.80px;width:10px;text-align:center">J</div>
<div class="t lab" style="left:175.60px;top:142.50px;width:30px;text-align:center">C1</div>
<div class="t lab" style="left:206.00px;top:142.50px;width:30px;text-align:center">C2</div>
<div class="t lab" style="left:236.90px;top:142.50px;width:30px;text-align:center">C3</div>
<div class="t lab" style="left:266.30px;top:142.50px;width:30px;text-align:center">C4</div>
<div class="t lab" style="left:297.70px;top:142.50px;width:30px;text-align:center">P1.a</div>
<div class="t lab" style="left:327.50px;top:142.50px;width:30px;text-align:center">P1.b</div>
<div class="t lab" style="left:357.20px;top:142.50px;width:30px;text-align:center">P1.c</div>
<div class="t lab" style="left:386.25px;top:142.50px;width:30px;text-align:center">P2.a</div>
<div class="t lab" style="left:416.25px;top:142.50px;width:30px;text-align:center">P2.b</div>
<div class="t lab" style="left:446.00px;top:142.50px;width:30px;text-align:center">P3.a</div>
<div class="t lab" style="left:476.00px;top:142.50px;width:30px;text-align:center">P3.b</div>
<div style="position:absolute;left:275px;top:723.9px;width:141px;height:7.2px;border-radius:3.6px;background:linear-gradient(to right, #2b2e88 0.0%, #4575b4 10.0%, #74add1 20.0%, #abd9e9 30.0%, #def2f7 40.0%, #f3f9f8 45.0%, #fffcca 50.0%, #fee396 60.0%, #fdb065 70.0%, #f46d43 80.0%, #d73027 90.0%, #a50026 100.0%)"></div>
<div class="t" style="left:250.4px;top:737.0px;font-size:3.8px;color:#333;font-family:'Liberation Serif',serif">Log2(Ratio)</div>
<div class="t" style="left:275.2px;top:736.6px;font-size:4px;color:#333;font-style:italic;font-family:'Liberation Serif',serif">-5</div>
<div class="t" style="left:343.9px;top:736.6px;font-size:4px;color:#333;font-style:italic;font-family:'Liberation Serif',serif">0</div>
<div class="t" style="left:413.4px;top:736.6px;font-size:4px;color:#333;font-style:italic;font-family:'Liberation Serif',serif">5</div>
</div></body></html>
